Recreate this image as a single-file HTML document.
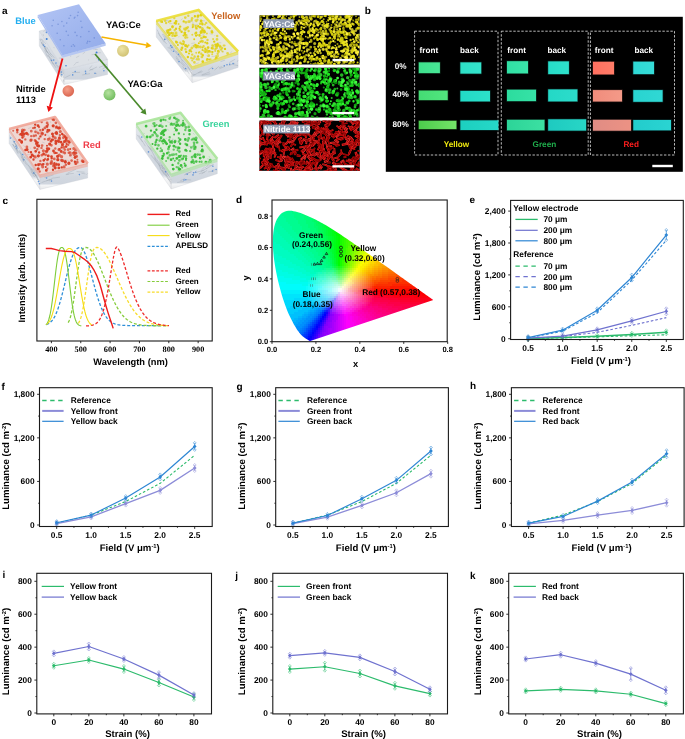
<!DOCTYPE html>
<html><head><meta charset="utf-8"><style>
html,body{margin:0;padding:0;background:#fff;width:685px;height:739px;overflow:hidden}
svg{display:block;filter:blur(0.25px)} text{text-rendering:geometricPrecision}
</style></head><body>
<svg width="685" height="739" viewBox="0 0 685 739">
<defs><linearGradient id="g11a" x1="0" y1="0" x2="0" y2="1"><stop offset="0" stop-color="#e4e8ee"/><stop offset="0.5" stop-color="#d2d8e0"/><stop offset="0.78" stop-color="#cfd5de"/><stop offset="0.84" stop-color="#f4f5f6"/><stop offset="1" stop-color="#e6e7e9"/></linearGradient><linearGradient id="bplate" x1="0" y1="0" x2="1" y2="1"><stop offset="0" stop-color="#b2c4f4"/><stop offset="1" stop-color="#92abea"/></linearGradient><linearGradient id="g21a" x1="0" y1="0" x2="0" y2="1"><stop offset="0" stop-color="#e4e8ee"/><stop offset="0.5" stop-color="#d2d8e0"/><stop offset="0.78" stop-color="#cfd5de"/><stop offset="0.84" stop-color="#f4f5f6"/><stop offset="1" stop-color="#e6e7e9"/></linearGradient><linearGradient id="g31a" x1="0" y1="0" x2="0" y2="1"><stop offset="0" stop-color="#e4e8ee"/><stop offset="0.5" stop-color="#d2d8e0"/><stop offset="0.78" stop-color="#cfd5de"/><stop offset="0.84" stop-color="#f4f5f6"/><stop offset="1" stop-color="#e6e7e9"/></linearGradient><linearGradient id="g41a" x1="0" y1="0" x2="0" y2="1"><stop offset="0" stop-color="#e4e8ee"/><stop offset="0.5" stop-color="#d2d8e0"/><stop offset="0.78" stop-color="#cfd5de"/><stop offset="0.84" stop-color="#f4f5f6"/><stop offset="1" stop-color="#e6e7e9"/></linearGradient><radialGradient id="sy" cx="0.4" cy="0.35" r="0.7"><stop offset="0" stop-color="#eee4a6"/><stop offset="1" stop-color="#cfc070"/></radialGradient><radialGradient id="sr" cx="0.4" cy="0.35" r="0.7"><stop offset="0" stop-color="#f6a08a"/><stop offset="1" stop-color="#d8604a"/></radialGradient><radialGradient id="sg" cx="0.4" cy="0.35" r="0.7"><stop offset="0" stop-color="#b6e2a0"/><stop offset="1" stop-color="#6cba5a"/></radialGradient><clipPath id="mc101"><rect x="259.5" y="15.3" width="100.2" height="49.2"/></clipPath><clipPath id="mc102"><rect x="259.4" y="67.7" width="100.3" height="49.8"/></clipPath><clipPath id="mc103"><rect x="259.4" y="120.7" width="100.3" height="50.1"/></clipPath><linearGradient id="s418_62" x1="0" y1="0" x2="1" y2="0"><stop offset="0" stop-color="#3ee08c"/><stop offset="1" stop-color="#48e696"/></linearGradient><linearGradient id="s460_62" x1="0" y1="0" x2="1" y2="0"><stop offset="0" stop-color="#2de0c6"/><stop offset="1" stop-color="#34e4cc"/></linearGradient><linearGradient id="s418_90" x1="0" y1="0" x2="1" y2="0"><stop offset="0" stop-color="#44dc74"/><stop offset="1" stop-color="#52e67e"/></linearGradient><linearGradient id="s460_90" x1="0" y1="0" x2="1" y2="0"><stop offset="0" stop-color="#22dac6"/><stop offset="1" stop-color="#2ce0ca"/></linearGradient><linearGradient id="s418_120" x1="0" y1="0" x2="1" y2="0"><stop offset="0" stop-color="#4ccc4c"/><stop offset="1" stop-color="#74e468"/></linearGradient><linearGradient id="s460_120" x1="0" y1="0" x2="1" y2="0"><stop offset="0" stop-color="#1ccfbf"/><stop offset="1" stop-color="#26d8c8"/></linearGradient><linearGradient id="s507_61" x1="0" y1="0" x2="1" y2="0"><stop offset="0" stop-color="#30e0a4"/><stop offset="1" stop-color="#3ae6aa"/></linearGradient><linearGradient id="s548_61" x1="0" y1="0" x2="1" y2="0"><stop offset="0" stop-color="#26dcc8"/><stop offset="1" stop-color="#2ee2cc"/></linearGradient><linearGradient id="s507_89" x1="0" y1="0" x2="1" y2="0"><stop offset="0" stop-color="#2cdc9e"/><stop offset="1" stop-color="#36e2a6"/></linearGradient><linearGradient id="s548_89" x1="0" y1="0" x2="1" y2="0"><stop offset="0" stop-color="#24d8c6"/><stop offset="1" stop-color="#2cdccb"/></linearGradient><linearGradient id="s507_119" x1="0" y1="0" x2="1" y2="0"><stop offset="0" stop-color="#2cd498"/><stop offset="1" stop-color="#3ce0a2"/></linearGradient><linearGradient id="s548_119" x1="0" y1="0" x2="1" y2="0"><stop offset="0" stop-color="#1ecac0"/><stop offset="1" stop-color="#28d6c6"/></linearGradient><linearGradient id="s593_61" x1="0" y1="0" x2="1" y2="0"><stop offset="0" stop-color="#ff7060"/><stop offset="1" stop-color="#ff7c68"/></linearGradient><linearGradient id="s633_61" x1="0" y1="0" x2="1" y2="0"><stop offset="0" stop-color="#2ed8d4"/><stop offset="1" stop-color="#36dcd8"/></linearGradient><linearGradient id="s593_90" x1="0" y1="0" x2="1" y2="0"><stop offset="0" stop-color="#f08c7c"/><stop offset="1" stop-color="#f49a88"/></linearGradient><linearGradient id="s633_90" x1="0" y1="0" x2="1" y2="0"><stop offset="0" stop-color="#28d4d0"/><stop offset="1" stop-color="#30d8d4"/></linearGradient><linearGradient id="s593_119" x1="0" y1="0" x2="1" y2="0"><stop offset="0" stop-color="#e08c84"/><stop offset="1" stop-color="#ec9284"/></linearGradient><linearGradient id="s633_120" x1="0" y1="0" x2="1" y2="0"><stop offset="0" stop-color="#22cccc"/><stop offset="1" stop-color="#2ad4d2"/></linearGradient><clipPath id="cie"><path d="M310.23,340.91 L310.23,340.91 L310.23,340.91 L310.22,340.91 L310.22,340.91 L310.21,340.91 L310.2,340.92 L310.19,340.92 L310.19,340.92 L310.18,340.93 L310.17,340.93 L310.16,340.93 L310.15,340.93 L310.14,340.93 L310.13,340.93 L310.12,340.93 L310.11,340.93 L310.1,340.94 L310.08,340.94 L310.07,340.94 L310.06,340.95 L310.04,340.95 L310.03,340.95 L310.02,340.95 L310.01,340.95 L309.99,340.95 L309.97,340.95 L309.96,340.95 L309.94,340.95 L309.92,340.95 L309.9,340.95 L309.88,340.95 L309.86,340.95 L309.84,340.95 L309.82,340.95 L309.79,340.95 L309.77,340.94 L309.74,340.93 L309.71,340.92 L309.68,340.91 L309.64,340.9 L309.6,340.88 L309.55,340.86 L309.5,340.84 L309.45,340.82 L309.4,340.79 L309.34,340.76 L309.29,340.73 L309.23,340.7 L309.16,340.66 L309.09,340.62 L309.01,340.57 L308.93,340.52 L308.84,340.47 L308.75,340.41 L308.65,340.35 L308.55,340.29 L308.45,340.22 L308.34,340.14 L308.23,340.07 L308.1,339.99 L307.97,339.91 L307.84,339.82 L307.69,339.73 L307.54,339.64 L307.38,339.53 L307.2,339.42 L307.01,339.31 L306.81,339.19 L306.61,339.06 L306.39,338.92 L306.16,338.78 L305.93,338.63 L305.69,338.48 L305.43,338.32 L305.16,338.14 L304.88,337.94 L304.58,337.74 L304.28,337.53 L303.96,337.29 L303.62,337.04 L303.28,336.77 L302.93,336.49 L302.56,336.19 L302.18,335.84 L301.76,335.44 L301.31,334.98 L300.83,334.48 L300.33,333.93 L299.81,333.32 L299.25,332.63 L298.67,331.87 L298.07,331.06 L297.43,330.17 L296.77,329.18 L296.07,328.07 L295.33,326.86 L294.57,325.55 L293.76,324.13 L292.93,322.57 L292.05,320.87 L291.12,319.02 L290.14,317.04 L289.13,314.92 L288.1,312.65 L287.09,310.19 L286.07,307.55 L285.04,304.74 L284,301.77 L282.98,298.65 L281.97,295.38 L280.97,291.94 L279.95,288.32 L278.97,284.56 L278.02,280.74 L277.16,276.91 L276.36,273.02 L275.6,269.03 L274.9,265.02 L274.29,261.04 L273.8,257.17 L273.41,253.37 L273.1,249.6 L272.89,245.9 L272.81,242.32 L272.86,238.9 L273.04,235.61 L273.35,232.41 L273.79,229.37 L274.35,226.52 L275.05,223.92 L275.9,221.54 L276.9,219.36 L278.02,217.39 L279.25,215.67 L280.54,214.22 L281.94,213.06 L283.44,212.17 L285.03,211.53 L286.66,211.08 L288.32,210.79 L290,210.7 L291.74,210.84 L293.52,211.14 L295.3,211.55 L297.08,211.99 L298.86,212.49 L300.65,213.09 L302.44,213.76 L304.22,214.46 L305.97,215.17 L307.69,215.89 L309.38,216.63 L311.05,217.4 L312.71,218.19 L314.36,218.99 L316,219.81 L317.61,220.65 L319.22,221.51 L320.82,222.38 L322.42,223.27 L324.02,224.18 L325.61,225.11 L327.2,226.06 L328.79,227.02 L330.37,227.98 L331.95,228.97 L333.52,229.96 L335.09,230.97 L336.66,231.99 L338.23,233.01 L339.8,234.04 L341.37,235.08 L342.93,236.13 L344.5,237.19 L346.07,238.25 L347.64,239.32 L349.22,240.4 L350.79,241.48 L352.36,242.57 L353.93,243.65 L355.5,244.74 L357.07,245.84 L358.63,246.94 L360.19,248.04 L361.75,249.13 L363.31,250.23 L364.87,251.33 L366.43,252.42 L367.98,253.52 L369.52,254.61 L371.06,255.7 L372.59,256.79 L374.12,257.88 L375.64,258.96 L377.14,260.03 L378.64,261.1 L380.14,262.16 L381.62,263.22 L383.09,264.27 L384.54,265.3 L385.99,266.33 L387.42,267.36 L388.85,268.37 L390.25,269.37 L391.64,270.36 L393.01,271.33 L394.37,272.3 L395.71,273.25 L397.02,274.18 L398.31,275.1 L399.58,276 L400.83,276.9 L402.05,277.77 L403.24,278.62 L404.4,279.45 L405.52,280.25 L406.6,281.02 L407.66,281.77 L408.68,282.5 L409.69,283.22 L410.67,283.92 L411.64,284.6 L412.57,285.27 L413.47,285.91 L414.34,286.53 L415.18,287.12 L415.98,287.69 L416.75,288.23 L417.5,288.76 L418.21,289.26 L418.89,289.75 L419.55,290.22 L420.17,290.67 L420.77,291.1 L421.35,291.51 L421.9,291.9 L422.42,292.27 L422.92,292.63 L423.4,292.97 L423.85,293.3 L424.29,293.61 L424.71,293.9 L425.11,294.18 L425.49,294.45 L425.85,294.71 L426.2,294.96 L426.53,295.2 L426.85,295.42 L427.16,295.64 L427.45,295.86 L427.74,296.06 L428.02,296.26 L428.29,296.45 L428.55,296.64 L428.79,296.81 L429.03,296.98 L429.26,297.15 L429.48,297.31 L429.69,297.46 L429.89,297.6 L430.09,297.73 L430.27,297.86 L430.45,297.98 L430.61,298.1 L430.77,298.21 L430.92,298.32 L431.06,298.41 L431.19,298.51 L431.31,298.6 L431.43,298.68 L431.54,298.76 L431.65,298.84 L431.75,298.91 L431.84,298.98 L431.93,299.04 L432.02,299.1 L432.1,299.16 L432.17,299.21 L432.24,299.26 L432.31,299.31 L432.37,299.35 L432.42,299.39 L432.46,299.42 L432.51,299.45 L432.55,299.48 L432.59,299.51 L432.63,299.54 L432.67,299.57 L432.71,299.6 L432.75,299.62 L432.78,299.65 L432.81,299.67 L432.84,299.69 L432.87,299.71 L432.9,299.73 L432.93,299.76 L432.96,299.78 L432.99,299.8 L433.03,299.82 L433.05,299.84 L433.08,299.86 L433.11,299.88 L433.14,299.9 L433.16,299.92 L433.19,299.94 L433.21,299.95 L433.23,299.97 L433.24,299.98 L433.26,299.99 L433.27,300 L433.29,300.01 L433.3,300.02 L433.3,300.02 L433.31,300.03 L433.32,300.03 L433.32,300.04 L433.33,300.04 L433.33,300.04 L433.34,300.05 L433.34,300.05 Z"/></clipPath></defs>
<rect width="685" height="739" fill="#fff"/>
<text x="2" y="14" font-size="10" font-weight="bold" fill="#000" text-anchor="start" font-family='"Liberation Sans", sans-serif' >a</text>
<polygon points="39.3,31 64,69.5 64,84.5 39.3,46" fill="url(#g11a)" stroke="#c4c9d0" stroke-width="0.3" />
<polygon points="64,69.5 107.6,59.5 107.6,74.5 64,84.5" fill="url(#g11a)" stroke="#c4c9d0" stroke-width="0.3" />
<path fill="none" stroke="#8e96a2" stroke-opacity="0.75" stroke-width="0.4" stroke-linecap="butt" d="M53.1 63.2L56.1 67.9M43.9 45.7L47.4 52.7M46.8 47.1L51.0 54.7M63.6 79.8L64.0 81.1M39.7 39.3L41.1 40.0M40.0 39.4L42.9 45.6M55.1 63.1L58.8 68.7M63.9 80.6L64.0 81.8M45.0 45.8L46.5 49.4M60.2 70.2L64.0 77.9M44.5 49.7L47.5 56.7M41.1 42.3L45.2 47.6M47.5 54.8L51.6 59.2M41.8 39.1L46.0 44.0M50.4 53.4L54.3 57.7M42.2 42.4L44.2 44.4M99.0 67.5L107.0 64.2M60.4 72.5L62.0 77.4M45.7 50.5L48.1 53.3M41.5 42.6L43.7 46.4M50.5 59.4L53.5 64.5M72.0 72.6L80.1 72.3M44.0 47.6L48.7 53.4M102.5 69.0L107.4 65.8M63.1 73.6L64.0 73.8M90.0 69.5L93.3 69.8M44.9 47.7L49.3 55.2M62.0 71.6L63.3 72.5M40.8 38.4L43.4 42.8M48.2 55.4L53.1 63.7M89.5 68.5L91.9 65.5M94.6 73.5L96.9 73.6M57.3 65.3L62.3 70.8M57.5 69.9L61.5 77.1M103.9 66.7L107.6 67.9M82.2 75.0L90.0 73.6M48.7 53.8L52.2 57.2M63.8 79.6L64.0 79.3M89.3 70.7L97.0 66.9M65.3 77.5L70.6 74.9"/>
<path stroke="#3d7fd6" stroke-opacity="0.75" stroke-width="1.6" stroke-linecap="round" d="M85.7 73.2h0M75.2 71.5h0M56.0 63.0h0M61.7 74.8h0M61.3 72.0h0M72.7 74.9h0M103.9 70.8h0M53.7 60.1h0M51.6 60.3h0M95.0 73.3h0M43.5 45.1h0M44.6 46.5h0M85.5 71.2h0M106.8 67.2h0"/>
<polygon points="39.3,31 82.9,21 107.6,59.5 64,69.5" fill="#dde1e6" stroke="none" stroke-width="1" />
<path fill="none" stroke="#9aa2ae" stroke-opacity="0.75" stroke-width="0.4" stroke-linecap="butt" d="M43.3 31.5L46.3 29.6M84.3 45.9L82.8 47.0M43.5 36.0L43.1 34.1M81.3 31.8L78.5 30.0M77.8 41.9L78.8 42.5M98.2 59.8L99.7 58.6M64.4 33.1L60.5 33.0M74.9 30.8L73.0 30.1M82.6 44.1L83.5 45.1M76.0 57.6L79.3 55.9M97.8 49.5L94.8 49.3M89.1 59.8L88.1 60.1M97.3 52.9L100.9 52.7M72.8 32.4L74.5 33.6M85.0 52.2L82.7 53.8M106.2 58.8L106.5 60.0M75.7 62.8L78.6 62.2M53.8 47.1L54.2 48.2M61.3 27.2L63.7 25.5M78.4 29.7L77.1 30.8M49.1 35.3L49.2 36.2M93.0 49.1L96.5 49.1M82.8 24.8L80.6 24.9M70.0 56.2L71.1 56.2M89.9 44.1L88.4 43.6M98.4 57.2L96.1 58.6M94.5 41.5L95.1 40.3M75.1 45.0L75.9 43.1M94.3 41.2L93.5 42.4M76.0 44.3L77.5 42.5M73.0 41.5L76.7 43.2M62.7 46.5L59.7 46.3M97.1 57.5L96.9 56.8M62.9 52.9L66.3 51.4M73.8 24.1L71.4 23.0M77.2 36.5L76.1 37.0M61.9 58.1L58.9 58.1M55.1 36.1L55.4 35.9M65.9 43.2L66.1 41.8M63.8 53.3L64.9 53.4M91.5 46.0L94.4 45.0M91.6 54.8L94.8 54.1M75.8 63.4L73.6 65.4M81.3 27.3L79.2 28.2M53.0 32.1L55.7 31.8"/>
<path stroke="#3d7fd6" stroke-width="1.6" stroke-linecap="round" d="M76.6 29.0h0M66.0 65.7h0"/>
<path stroke="#3d7fd6" stroke-width="2" stroke-linecap="round" d="M46.7 39.0h0M83.7 26.9h0M66.3 26.7h0M96.6 52.5h0"/>
<path stroke="#3d7fd6" stroke-opacity="0.75" stroke-width="1.6" stroke-linecap="round" d="M77.9 51.9h0M68.1 31.8h0"/>
<path stroke="#3d7fd6" stroke-opacity="0.75" stroke-width="2" stroke-linecap="round" d="M46.6 32.2h0M98.8 59.8h0M65.6 45.7h0M59.3 46.6h0M53.2 36.0h0M76.5 40.6h0"/>
<polyline points="39.3,31 82.9,21 107.6,59.5" fill="none" stroke="#d0d5dc" stroke-width="0.6" stroke-linejoin="round" stroke-opacity="0.85"/>
<polyline points="39.3,31 64,69.5 107.6,59.5" fill="none" stroke="#d0d5dc" stroke-width="0.8" stroke-linejoin="round" stroke-opacity="0.8"/>
<polygon points="37.7,14.9 62.5,55.2 62.5,57.8 37.7,17.2" fill="#a9bdf0" stroke="none" stroke-width="1" />
<polygon points="62.5,55.2 105.7,43.4 105.7,45.8 62.5,57.8" fill="#b6c7f2" stroke="none" stroke-width="1" />
<polygon points="37.7,14.9 79,4.3 105.7,43.4 62.5,55.2" fill="url(#bplate)" stroke="none" stroke-width="1" />
<path stroke="#5577cc" stroke-opacity="0.5" stroke-width="1.6" stroke-linecap="round" d="M80.7 36.8h0M89.8 41.5h0M87.7 41.4h0M57.2 33.2h0M88.9 31.5h0M77.6 15.6h0M66.7 23.1h0M75.1 32.4h0M52.1 25.8h0M73.3 44.8h0M74.3 18.1h0M74.9 17.2h0M69.1 18.3h0M63.9 45.7h0M58.1 24.2h0M94.3 37.9h0M74.5 46.1h0M76.9 35.6h0M71.5 46.2h0M87.0 43.1h0M80.9 21.3h0M61.9 21.5h0M53.3 20.2h0M68.2 35.2h0M60.3 39.8h0M63.8 26.0h0M81.9 27.4h0M66.3 31.4h0M70.5 15.5h0M78.2 12.3h0"/>
<text x="15.3" y="23.7" font-size="9.4" font-weight="bold" fill="#22aef0" text-anchor="start" font-family='"Liberation Sans", sans-serif' >Blue</text>
<polygon points="156.2,21 192.3,66.7 192.3,82.7 156.2,37" fill="url(#g21a)" stroke="#c4c9d0" stroke-width="0.3" />
<polygon points="192.3,66.7 238.1,51.5 238.1,67.5 192.3,82.7" fill="url(#g21a)" stroke="#c4c9d0" stroke-width="0.3" />
<path fill="none" stroke="#8e96a2" stroke-opacity="0.75" stroke-width="0.4" stroke-linecap="butt" d="M181.1 61.6L185.5 65.8M229.3 62.5L235.1 59.3M169.6 46.6L171.8 50.9M164.6 36.0L171.8 46.3M220.5 61.6L225.1 60.1M190.6 71.5L192.3 75.2M189.7 71.0L192.3 73.5M162.9 33.8L169.4 40.7M201.9 75.3L210.3 73.8M218.9 67.7L222.0 66.6M201.5 75.0L209.9 71.8M172.5 48.7L179.7 57.2M159.6 35.0L166.7 44.1M176.1 56.1L179.1 60.5M178.7 54.9L181.4 57.6M208.2 70.2L212.6 66.8M185.6 68.4L189.4 74.2M233.5 64.7L238.1 65.6M219.3 68.8L225.0 66.3M187.8 66.3L190.0 70.6M214.4 70.1L217.1 68.0M171.3 45.5L173.5 47.5M237.3 61.7L238.1 60.2M216.4 68.5L218.9 66.3M228.7 65.7L235.1 63.2M186.9 66.3L191.6 71.1M192.8 76.0L201.6 70.7M179.4 61.2L184.4 66.3M190.8 76.1L192.3 75.9M157.1 29.7L159.7 34.8M198.1 73.1L202.6 71.6M162.2 34.1L166.0 40.0M157.9 32.8L164.4 42.4M192.7 74.3L195.4 74.7M181.9 59.5L187.5 65.7M170.2 45.2L176.9 52.7M176.0 57.7L178.4 61.2M182.7 66.3L186.2 71.7M176.4 51.1L182.7 61.4M167.7 47.5L170.1 48.4"/>
<path stroke="#3d7fd6" stroke-opacity="0.75" stroke-width="1.6" stroke-linecap="round" d="M185.6 68.5h0M178.6 54.3h0M212.6 68.5h0M170.7 45.8h0M171.9 47.4h0M229.7 64.3h0M164.7 39.4h0M179.0 61.6h0M173.5 51.3h0M233.1 63.6h0M227.0 64.8h0M224.3 65.8h0"/>
<polygon points="156.2,21 198.5,9.9 238.1,51.5 192.3,66.7" fill="#e8e8d6" stroke="none" stroke-width="1" />
<path fill="none" stroke="#9aa2ae" stroke-opacity="0.75" stroke-width="0.4" stroke-linecap="butt" d="M199.7 60.2L198.8 60.6M225.9 55.9L229.8 53.9M180.7 31.8L179.8 30.4M182.5 18.5L180.9 20.3M204.3 33.9L201.2 35.7M193.4 22.6L192.1 23.2M194.5 25.4L198.1 24.6M197.5 56.8L194.7 57.5M186.2 46.1L184.5 45.6M212.9 31.9L212.3 32.4M174.4 25.9L173.4 24.9M198.9 62.8L195.1 64.1M221.2 42.8L217.3 42.8M179.8 48.3L181.4 47.3M176.2 45.8L172.9 45.0M207.7 56.8L206.7 55.4M219.4 49.8L219.6 48.0M178.7 37.3L179.1 36.2M220.6 50.6L224.0 52.2M178.0 47.4L174.6 49.0M215.2 47.4L212.7 45.6M212.6 39.7L213.5 39.6M202.2 27.6L200.4 27.0M191.4 46.4L194.6 44.6M177.5 43.6L179.0 42.4M169.7 20.7L166.0 20.7M208.6 43.3L205.8 41.7M215.0 35.3L214.3 36.0M205.9 36.9L202.6 38.2M166.7 20.5L165.5 20.6M189.1 22.0L190.7 22.0M193.8 58.1L196.2 59.7M192.8 23.4L195.0 25.0M211.6 56.6L215.3 56.2M229.9 53.4L232.2 51.4M193.2 45.1L194.1 46.2M189.4 21.2L192.8 21.3M201.0 20.7L204.9 20.9M215.7 46.2L218.8 45.7M174.3 38.6L171.8 38.8M203.7 28.5L200.8 26.6M195.0 42.8L191.3 43.5M169.0 23.6L172.4 23.6M212.6 34.6L209.6 33.5M197.3 45.6L199.4 46.6"/>
<path stroke="#e0d014" stroke-opacity="0.75" stroke-width="2.4" stroke-linecap="round" d="M193.0 26.1h0M187.0 28.3h0M174.3 18.1h0M215.3 49.3h0M201.3 53.7h0M218.5 45.3h0M193.9 46.4h0M166.1 23.0h0M193.3 58.6h0M207.5 40.0h0M181.2 49.5h0M192.2 54.6h0M190.4 50.0h0M220.2 45.9h0M185.5 49.3h0M199.6 35.8h0M183.2 41.2h0M197.0 59.3h0M192.9 25.0h0M205.8 37.1h0M210.4 51.6h0M198.2 46.1h0M180.3 42.8h0M206.2 22.9h0M196.4 21.1h0M221.1 49.6h0M188.3 15.8h0M211.9 30.9h0M179.9 30.0h0M174.7 30.3h0M202.8 32.4h0M203.6 46.3h0M198.4 47.0h0M185.0 32.8h0M185.8 45.3h0M207.4 50.5h0M187.9 27.3h0M195.7 26.0h0M200.0 23.8h0M217.7 53.7h0M191.6 20.2h0M198.7 59.3h0M194.6 56.5h0M195.3 33.5h0M165.0 20.8h0M195.7 20.4h0M207.6 52.3h0M217.2 36.0h0M191.3 58.0h0M197.4 19.8h0M185.5 29.8h0M188.6 31.0h0M211.6 31.2h0"/>
<path stroke="#e0d014" stroke-width="2.4" stroke-linecap="round" d="M187.9 57.0h0M195.4 45.0h0M209.5 28.1h0M183.7 21.4h0M209.2 51.2h0M169.2 34.9h0M207.2 43.3h0M202.8 55.3h0M211.8 48.1h0M200.9 32.4h0M175.0 35.8h0M207.7 27.4h0M176.0 28.7h0M181.6 31.8h0M186.2 51.9h0M196.2 32.8h0M214.2 41.6h0M196.5 28.4h0M205.3 48.8h0M198.1 56.5h0M180.2 26.6h0M207.3 59.2h0M175.8 23.5h0M174.7 23.1h0M202.4 30.3h0M201.0 20.7h0M198.2 26.3h0M171.4 32.9h0M185.0 34.5h0M200.5 41.6h0M172.5 26.5h0M170.3 21.1h0M225.0 48.9h0M175.5 35.6h0M202.5 24.3h0M167.6 32.5h0M189.7 50.8h0M205.4 51.9h0M215.4 44.6h0M218.2 50.9h0M209.0 51.2h0M168.4 30.2h0M182.2 47.7h0M200.1 27.2h0M196.1 35.6h0M217.5 44.0h0M194.9 16.2h0M187.2 46.5h0M170.2 29.5h0"/>
<path stroke="#e0d014" stroke-opacity="0.75" stroke-width="2.8" stroke-linecap="round" d="M212.6 45.7h0M216.5 47.9h0M188.7 21.7h0M167.1 30.9h0M201.9 56.9h0M201.9 23.4h0M222.0 48.1h0M192.1 18.3h0M217.9 45.2h0M200.4 47.0h0M176.1 32.9h0M191.8 48.1h0M197.8 16.7h0M173.1 33.4h0M217.0 39.4h0M194.4 62.3h0M182.7 44.1h0M201.5 38.2h0M208.7 55.7h0M172.5 27.1h0M202.6 41.5h0M185.3 17.6h0M169.0 33.0h0M206.2 50.5h0M212.7 48.4h0M186.4 28.1h0M189.2 21.7h0M184.5 29.0h0M172.6 35.7h0M186.2 35.3h0M202.4 28.7h0M218.6 51.7h0M185.9 22.3h0M185.5 37.5h0M220.3 47.1h0M227.6 53.4h0M161.3 21.5h0"/>
<path stroke="#e0d014" stroke-opacity="0.75" stroke-width="2" stroke-linecap="round" d="M215.3 58.9h0M222.5 51.5h0M195.7 27.6h0M201.7 41.0h0M168.7 21.9h0M212.1 51.9h0M188.5 45.3h0M199.4 52.0h0M205.2 37.3h0M170.4 33.8h0M215.6 46.1h0M206.8 60.0h0M178.6 23.9h0M215.2 51.1h0M196.2 52.8h0M176.9 35.2h0M192.2 60.5h0M181.3 43.7h0M223.6 45.5h0M200.7 33.3h0M212.2 54.3h0M218.0 56.1h0M213.1 38.9h0M206.9 33.4h0M184.1 42.0h0M192.3 34.8h0M205.0 24.4h0M204.0 50.8h0M216.2 56.1h0M210.6 59.2h0M181.7 50.0h0M224.6 45.5h0M187.4 37.5h0M197.6 34.9h0M197.3 45.8h0"/>
<path stroke="#e0d014" stroke-width="2" stroke-linecap="round" d="M202.5 47.5h0M194.2 39.3h0M192.7 27.2h0M202.5 50.1h0M183.8 43.9h0M205.2 42.5h0M198.9 52.8h0M196.8 45.4h0M179.4 28.4h0M177.9 44.9h0M212.6 52.0h0M183.5 35.5h0M189.0 53.6h0M162.2 22.0h0M198.8 43.2h0M209.1 59.6h0M199.5 35.1h0M191.3 51.4h0M176.0 41.6h0"/>
<path stroke="#e0d014" stroke-width="2.8" stroke-linecap="round" d="M184.8 33.1h0M198.1 15.8h0M208.1 47.6h0M203.9 36.8h0M201.0 15.2h0M216.4 57.8h0M185.6 45.8h0M201.1 31.7h0M216.8 46.2h0M204.6 32.1h0M212.1 32.3h0M204.1 30.8h0M202.8 61.7h0M176.6 42.3h0M176.1 21.4h0M196.4 47.2h0M201.1 21.1h0"/>
<polygon points="156.2,21 192.3,66.7 192.3,69.9 156.2,24.2" fill="#eadc28" stroke="none" stroke-width="1" fill-opacity="0.55"/>
<polygon points="192.3,66.7 238.1,51.5 238.1,54.7 192.3,69.9" fill="#eadc28" stroke="none" stroke-width="1" fill-opacity="0.55"/>
<polyline points="156.2,21 198.5,9.9 238.1,51.5" fill="none" stroke="#eadc28" stroke-width="2.6" stroke-linejoin="round" stroke-opacity="0.85"/>
<polyline points="156.2,21 192.3,66.7 238.1,51.5" fill="none" stroke="#eadc28" stroke-width="0.8" stroke-linejoin="round" stroke-opacity="0.8"/>
<text x="211.2" y="19.3" font-size="9.4" font-weight="bold" fill="#c8621c" text-anchor="start" font-family='"Liberation Sans", sans-serif' >Yellow</text>
<polygon points="9.1,129 39.9,174.9 39.9,189.4 9.1,143.5" fill="url(#g31a)" stroke="#c4c9d0" stroke-width="0.3" />
<polygon points="39.9,174.9 87.7,163.5 87.7,178 39.9,189.4" fill="url(#g31a)" stroke="#c4c9d0" stroke-width="0.3" />
<path fill="none" stroke="#8e96a2" stroke-opacity="0.75" stroke-width="0.4" stroke-linecap="butt" d="M12.6 140.6L17.3 145.8M16.2 148.8L18.5 153.3M46.4 180.9L52.0 179.1M44.4 177.6L53.5 174.9M19.3 150.4L25.2 157.9M27.1 163.4L33.1 174.0M15.4 148.0L21.5 154.8M81.4 173.3L85.4 173.9M49.2 181.0L53.1 177.7M19.4 150.8L23.9 159.3M86.6 174.6L87.7 173.4M28.3 165.2L33.0 170.1M37.5 179.3L39.9 180.9M37.1 179.1L39.9 181.7M33.8 172.6L38.9 180.6M12.1 144.3L14.2 145.9M31.1 171.6L34.8 177.1M53.2 178.1L60.0 177.1M12.6 138.8L17.4 147.0M76.6 171.6L84.5 172.2M9.4 135.9L12.3 138.5M12.9 144.6L14.7 147.8M15.1 147.4L18.0 150.2M30.5 168.3L36.0 176.0M31.2 168.9L36.0 176.0M12.9 144.0L17.9 153.6M67.6 173.1L76.1 169.2M13.4 141.8L16.4 145.9M65.8 174.1L73.8 173.4M41.5 182.6L50.3 179.3M34.2 172.6L37.6 179.3M15.2 143.3L18.3 149.0M32.8 168.5L35.5 173.1M24.5 162.3L27.3 165.0M24.0 156.9L27.7 160.0M20.8 155.5L23.7 162.0M21.5 156.8L24.1 161.2M65.8 174.7L68.8 174.3M20.6 153.7L26.5 163.3M35.5 174.3L38.9 180.1"/>
<path stroke="#3d7fd6" stroke-opacity="0.75" stroke-width="1.6" stroke-linecap="round" d="M15.9 146.2h0M51.5 181.1h0M38.5 181.6h0M39.4 183.7h0M16.7 148.0h0M46.6 178.0h0M10.5 138.1h0M22.7 154.5h0M33.8 173.1h0M23.8 159.8h0M79.4 174.6h0M14.3 141.7h0"/>
<polygon points="9.1,129 55,117 87.7,163.5 39.9,174.9" fill="#eed8d4" stroke="none" stroke-width="1" />
<path fill="none" stroke="#9aa2ae" stroke-opacity="0.75" stroke-width="0.4" stroke-linecap="butt" d="M50.3 121.3L50.8 122.9M35.9 143.0L35.2 144.8M66.3 159.3L62.7 160.2M42.2 142.0L44.7 143.0M73.6 152.0L76.9 151.7M58.8 158.3L58.4 156.9M62.8 162.0L65.8 160.5M33.6 134.9L32.4 136.8M38.1 138.3L36.3 138.1M50.4 136.7L47.9 135.6M48.9 167.5L46.3 168.5M38.3 163.8L36.4 164.9M31.3 127.4L28.1 128.6M48.9 144.8L47.8 145.6M33.1 126.1L34.0 125.3M64.9 144.0L67.1 142.5M60.4 148.5L63.2 150.1M52.6 149.6L54.8 148.6M58.3 158.6L59.1 158.7M78.4 163.5L76.5 161.8M41.8 128.5L45.6 128.4M58.8 160.1L61.7 158.7M35.5 131.8L35.2 130.4M60.3 134.8L59.4 136.4M57.2 134.5L57.2 135.2M21.9 133.0L24.8 131.6M64.3 154.4L65.1 153.8M72.7 154.8L69.3 156.4M47.2 134.6L44.6 133.0M72.5 158.2L71.2 156.9M25.2 147.1L23.6 145.3M48.1 163.1L44.6 162.7M37.7 130.3L34.0 128.6M45.7 172.0L48.6 172.8M60.4 133.1L58.4 134.6M65.4 164.1L64.2 163.8M69.2 160.9L66.6 159.9M27.0 154.5L30.4 154.8M37.2 158.9L38.4 157.4M71.4 148.3L71.3 147.7M30.9 148.5L29.8 147.5M59.2 151.6L62.8 153.5M52.5 156.3L51.5 156.0M65.3 167.2L61.7 167.1M49.3 161.9L52.9 161.8"/>
<path stroke="#d84028" stroke-width="2.8" stroke-linecap="round" d="M32.1 154.8h0M58.3 141.2h0M19.5 140.1h0M66.1 139.4h0M58.8 167.9h0M62.4 145.0h0M47.3 150.6h0M22.3 131.7h0M59.4 137.9h0M30.7 157.2h0M51.5 156.6h0M58.7 164.7h0M46.3 170.4h0M21.1 134.2h0M65.1 136.7h0M38.0 125.7h0M66.4 138.0h0M43.8 160.3h0M66.1 146.6h0M55.3 168.1h0M48.3 156.0h0M55.8 141.2h0M83.3 161.7h0M53.5 151.0h0M17.3 130.0h0M64.8 141.6h0M55.9 143.5h0M69.4 142.3h0M61.2 151.5h0M60.9 142.1h0M74.1 152.6h0M35.7 151.3h0M43.6 154.0h0M21.7 141.9h0M46.6 151.2h0M52.5 134.1h0M47.2 148.6h0M53.1 136.4h0M48.9 148.8h0M75.1 157.4h0M58.3 128.1h0"/>
<path stroke="#d84028" stroke-opacity="0.75" stroke-width="3.2" stroke-linecap="round" d="M60.3 131.5h0M48.3 139.3h0M55.2 137.9h0M22.6 130.0h0M59.3 155.1h0M41.9 134.1h0M47.3 164.2h0M43.4 150.8h0M53.6 166.0h0M51.4 163.2h0M62.7 144.1h0M61.6 156.7h0M46.5 151.6h0M64.1 166.9h0M82.3 160.9h0M67.0 141.2h0M53.7 119.7h0M42.2 165.2h0M75.4 149.9h0M35.2 156.9h0M30.8 140.3h0M73.8 148.5h0M56.0 164.0h0M62.1 160.4h0M42.7 166.8h0M59.0 149.6h0"/>
<path stroke="#d84028" stroke-opacity="0.75" stroke-width="2.8" stroke-linecap="round" d="M35.5 131.8h0M42.1 145.6h0M24.3 130.1h0M34.7 147.8h0M76.0 163.6h0M62.7 160.9h0M64.8 149.6h0M41.8 132.8h0M55.0 166.9h0M36.5 144.1h0M54.6 152.8h0M38.5 164.5h0M56.1 127.6h0M33.9 135.9h0M46.7 126.4h0M31.3 139.8h0M47.1 122.9h0M71.6 160.6h0M76.7 156.4h0M35.0 140.3h0M52.8 119.2h0M45.6 154.8h0M75.3 153.5h0M44.9 128.0h0M63.4 137.8h0M47.3 131.8h0M58.7 140.0h0M26.9 147.0h0M59.6 139.0h0M54.3 158.9h0M41.8 155.2h0M55.9 122.8h0M77.3 162.2h0M63.7 135.5h0M51.6 161.4h0M68.1 149.7h0M64.8 153.0h0M63.8 147.4h0M51.4 145.3h0M70.4 155.2h0M31.3 131.2h0M53.9 164.4h0M70.0 152.7h0"/>
<path stroke="#d84028" stroke-width="2.4" stroke-linecap="round" d="M68.7 163.6h0M59.5 149.2h0M56.6 126.8h0M37.3 145.5h0M55.6 133.1h0M49.3 130.3h0M51.8 139.6h0M50.8 141.2h0M21.7 142.5h0M48.0 159.2h0M38.5 165.0h0M40.4 136.4h0M35.7 165.0h0M74.9 161.7h0M61.7 167.4h0M61.6 147.4h0M31.0 152.2h0M53.0 169.7h0M48.0 155.9h0M22.5 137.6h0M33.5 159.5h0M25.4 150.0h0M37.3 145.7h0M43.4 164.1h0M56.7 164.5h0M51.7 158.2h0M62.2 133.9h0M52.8 139.7h0M34.8 127.6h0M55.7 152.9h0M42.9 129.7h0M39.1 152.5h0M74.9 157.4h0M47.7 129.9h0M47.2 126.5h0M33.4 156.0h0M35.2 124.6h0M35.8 141.3h0"/>
<path stroke="#d84028" stroke-width="2" stroke-linecap="round" d="M45.3 135.1h0M45.8 167.1h0M47.0 145.7h0M54.3 162.9h0M70.2 148.9h0M66.6 144.1h0"/>
<path stroke="#d84028" stroke-opacity="0.75" stroke-width="2.4" stroke-linecap="round" d="M40.3 130.3h0M17.3 132.2h0M75.5 163.8h0M39.0 127.0h0M37.7 142.6h0M74.2 154.9h0M48.2 131.1h0M41.7 122.1h0M68.7 152.7h0M68.7 141.0h0M49.6 138.4h0M58.8 141.9h0M76.2 153.0h0M64.3 141.3h0M21.5 141.2h0M54.6 165.1h0M39.7 171.5h0M65.3 162.3h0M41.5 147.9h0M22.6 136.6h0M37.3 149.3h0M75.6 156.8h0M63.4 152.3h0M44.7 139.1h0M42.9 133.5h0M65.9 164.7h0M25.3 139.4h0M59.9 135.2h0M23.6 136.3h0M39.0 138.6h0M51.4 141.3h0M47.2 160.1h0M35.9 135.4h0M64.0 141.9h0M68.2 144.7h0M40.4 160.9h0M31.2 136.1h0M37.7 132.7h0M40.1 164.0h0M45.2 158.9h0M47.9 124.7h0M55.8 142.9h0M28.1 134.4h0M55.3 148.5h0M38.5 133.3h0M48.4 148.6h0M52.4 133.8h0M61.3 160.2h0M50.6 163.5h0M33.1 128.1h0M72.5 153.2h0"/>
<path stroke="#d84028" stroke-width="3.2" stroke-linecap="round" d="M57.8 159.7h0M26.5 133.3h0M27.0 149.6h0M56.4 132.5h0M65.3 161.7h0M59.4 127.9h0M38.6 145.9h0M23.7 133.9h0M57.6 156.3h0M68.9 163.2h0M56.6 133.3h0M38.2 168.8h0M22.0 134.6h0M38.4 155.8h0M36.9 142.8h0M53.2 125.8h0M49.7 144.1h0"/>
<path stroke="#d84028" stroke-opacity="0.75" stroke-width="2" stroke-linecap="round" d="M19.7 134.4h0M57.0 153.0h0M77.4 159.7h0M42.3 164.6h0M47.4 168.8h0M13.2 130.8h0M36.4 143.6h0M28.6 152.0h0"/>
<polygon points="9.1,129 39.9,174.9 39.9,178.1 9.1,132.2" fill="#f0a090" stroke="none" stroke-width="1" fill-opacity="0.55"/>
<polygon points="39.9,174.9 87.7,163.5 87.7,166.7 39.9,178.1" fill="#f0a090" stroke="none" stroke-width="1" fill-opacity="0.55"/>
<polyline points="9.1,129 55,117 87.7,163.5" fill="none" stroke="#f0a090" stroke-width="2.6" stroke-linejoin="round" stroke-opacity="0.85"/>
<polyline points="9.1,129 39.9,174.9 87.7,163.5" fill="none" stroke="#f0a090" stroke-width="0.8" stroke-linejoin="round" stroke-opacity="0.8"/>
<text x="83.1" y="148" font-size="9.4" font-weight="bold" fill="#f03c48" text-anchor="start" font-family='"Liberation Sans", sans-serif' >Red</text>
<polygon points="136.2,124 171.3,174 171.3,189 136.2,139" fill="url(#g41a)" stroke="#c4c9d0" stroke-width="0.3" />
<polygon points="171.3,174 217.3,158.7 217.3,173.7 171.3,189" fill="url(#g41a)" stroke="#c4c9d0" stroke-width="0.3" />
<path fill="none" stroke="#8e96a2" stroke-opacity="0.75" stroke-width="0.4" stroke-linecap="butt" d="M144.3 140.5L150.9 150.3M196.7 172.2L204.1 170.1M201.7 173.9L207.1 170.4M161.6 165.2L166.8 173.2M163.7 167.2L170.0 177.9M161.7 169.6L164.1 173.8M168.3 178.6L171.3 180.7M158.0 163.3L160.7 169.1M185.2 174.2L192.1 171.5M194.0 173.2L196.4 170.5M161.8 167.4L167.4 175.6M201.4 170.1L204.7 166.9M166.5 177.4L171.3 182.4M177.2 182.5L184.0 181.4M150.9 155.0L157.7 163.5M161.9 169.5L165.9 174.9M184.0 175.1L191.0 171.7M186.3 179.7L191.2 180.0M205.0 168.2L208.4 164.7M159.6 161.6L162.6 166.2M147.8 145.9L153.1 151.6M198.8 173.9L205.0 171.9M212.4 170.2L214.9 169.9M200.7 171.8L207.4 168.0M207.4 166.3L213.2 164.8M160.1 168.7L166.7 177.1M166.2 175.0L171.3 184.2M156.8 159.4L162.8 168.8M153.8 157.2L156.7 159.9M138.7 135.1L145.4 146.2M165.2 174.4L170.7 179.9M180.3 180.8L184.8 178.6M166.7 172.8L171.3 179.5M159.2 164.5L161.1 168.8M137.0 134.7L142.6 142.1M154.7 158.5L160.1 166.1M161.5 165.2L164.2 169.0M208.2 171.9L213.6 171.2M149.8 147.7L156.0 158.9M205.9 169.0L213.7 164.4"/>
<path stroke="#3d7fd6" stroke-opacity="0.75" stroke-width="1.6" stroke-linecap="round" d="M148.5 151.9h0M141.8 137.1h0M185.8 179.8h0M165.6 171.7h0M216.1 169.5h0M212.5 171.0h0M184.0 180.0h0M187.2 174.3h0M193.0 174.9h0M193.6 172.8h0M195.8 172.2h0M212.9 166.3h0"/>
<polygon points="136.2,124 180.5,112.7 217.3,158.7 171.3,174" fill="#dcecd8" stroke="none" stroke-width="1" />
<path fill="none" stroke="#9aa2ae" stroke-opacity="0.75" stroke-width="0.4" stroke-linecap="butt" d="M198.7 152.5L198.8 151.3M175.5 130.6L173.5 132.0M151.4 125.6L154.2 127.5M163.9 140.8L164.3 141.8M159.5 156.3L157.4 158.0M187.7 166.5L187.3 167.1M145.0 133.7L143.4 133.2M158.6 143.1L155.4 143.4M208.9 156.0L209.9 157.9M190.7 147.5L190.4 145.8M207.2 158.7L209.7 159.5M205.8 162.7L209.6 163.8M170.2 171.2L170.7 171.0M164.8 132.7L161.1 133.1M166.6 121.3L170.0 123.0M193.4 141.1L192.4 141.0M186.2 167.6L189.5 169.2M177.2 143.7L178.7 142.8M178.9 171.2L177.1 170.2M161.1 122.9L161.3 121.5M175.8 118.7L178.2 117.8M199.2 155.1L202.9 153.8M185.0 120.3L183.8 118.3M161.0 122.5L161.4 124.2M193.6 147.6L190.3 149.5M185.7 167.4L182.9 166.5M204.4 150.6L201.9 150.5M169.1 130.5L166.8 128.8M173.4 139.0L172.2 139.0M165.1 139.4L167.2 138.0M156.1 145.3L154.4 145.2M207.5 161.6L210.0 163.3M158.6 138.7L155.5 137.9M156.2 133.0L154.8 134.8M190.6 163.2L190.8 164.2M186.7 146.1L190.1 146.4M166.6 129.8L163.4 129.5M158.8 125.9L162.4 124.0M164.4 131.3L163.7 132.7M192.9 133.0L194.6 134.6M163.0 140.6L162.4 141.9M181.1 165.4L178.6 166.1M165.3 118.6L164.0 119.9M156.0 122.3L155.8 122.5M171.8 139.7L175.3 140.4"/>
<path stroke="#3cbf3c" stroke-opacity="0.75" stroke-width="2.8" stroke-linecap="round" d="M171.8 141.4h0M182.0 159.0h0M210.4 161.5h0M176.7 125.3h0M185.9 127.5h0M176.8 122.3h0M178.0 148.1h0M150.1 137.1h0M172.1 154.8h0M192.9 160.4h0M185.9 156.4h0M184.5 125.0h0M152.6 135.2h0M157.0 135.8h0M188.7 138.4h0M194.1 142.8h0M168.1 158.0h0M192.1 157.2h0M197.6 154.6h0M175.2 141.2h0M159.7 140.6h0M187.8 140.5h0M173.7 154.6h0M169.8 155.3h0M161.2 137.3h0M193.5 139.0h0M210.2 160.1h0M172.6 124.6h0M178.0 120.2h0M160.4 125.6h0M210.6 161.5h0M169.6 118.6h0M188.7 127.0h0M179.4 160.4h0M168.4 149.0h0M174.2 124.1h0M176.3 119.1h0M158.5 145.3h0M178.2 147.6h0M162.3 126.6h0M153.6 123.6h0M196.3 161.6h0M195.1 148.4h0M178.4 120.4h0M179.4 151.6h0M154.2 123.5h0M157.4 136.0h0"/>
<path stroke="#3cbf3c" stroke-opacity="0.75" stroke-width="2" stroke-linecap="round" d="M183.7 155.8h0M160.3 151.3h0M163.1 143.6h0M178.7 137.9h0M164.2 154.3h0M162.1 151.2h0M166.2 126.1h0M170.4 117.1h0M181.1 155.6h0M183.1 120.8h0M182.2 167.4h0M163.9 155.2h0M174.8 160.7h0M155.5 142.4h0M195.6 140.2h0M172.1 143.1h0M166.1 161.1h0M177.5 150.3h0M160.7 148.3h0M178.8 157.2h0M156.0 134.1h0M195.1 139.9h0M196.3 161.4h0M155.7 144.7h0M196.8 142.5h0M183.9 134.2h0"/>
<path stroke="#3cbf3c" stroke-width="2.8" stroke-linecap="round" d="M162.8 156.1h0M162.3 158.5h0M176.4 130.2h0M180.1 139.6h0M174.4 117.8h0M189.8 130.5h0M176.8 158.4h0M200.2 158.1h0M179.8 156.5h0M173.3 169.1h0M186.9 144.9h0M195.3 156.8h0M177.7 124.9h0M183.2 123.5h0M181.1 165.5h0M179.1 148.1h0M164.1 130.8h0M162.6 132.9h0M166.7 143.8h0M185.3 139.5h0M173.8 146.1h0M191.7 162.1h0M205.9 162.2h0M154.6 132.4h0M165.3 130.2h0M165.6 142.6h0M147.1 137.0h0M202.3 149.9h0M185.6 150.2h0M203.6 157.0h0M171.1 159.7h0M146.1 126.2h0M174.8 142.1h0M185.4 165.6h0M163.7 134.8h0M160.9 120.5h0M170.5 142.2h0M179.2 169.3h0"/>
<path stroke="#3cbf3c" stroke-opacity="0.75" stroke-width="2.4" stroke-linecap="round" d="M165.4 120.1h0M160.9 133.3h0M196.1 137.8h0M194.9 138.8h0M191.2 147.4h0M194.2 144.9h0M185.6 143.9h0M190.1 151.1h0M176.2 154.2h0M197.3 142.4h0M201.5 161.7h0M178.3 163.2h0M165.0 141.2h0M179.4 125.9h0M155.9 141.7h0M193.8 162.9h0M188.9 130.5h0M178.8 156.2h0M175.6 147.0h0M194.3 148.9h0M156.5 125.1h0M161.9 150.2h0M202.7 151.2h0M175.0 128.1h0M155.3 144.7h0M193.9 155.6h0M176.7 167.1h0M168.5 152.4h0M169.8 145.7h0M163.8 140.2h0M183.7 156.8h0M150.5 136.6h0M169.7 137.3h0M191.9 139.6h0M178.3 163.1h0M178.6 167.7h0M170.8 124.6h0M173.7 149.6h0M193.8 161.9h0M169.2 140.3h0M176.7 129.7h0M193.5 146.5h0M178.8 141.5h0M185.3 130.0h0M181.3 124.9h0M199.7 154.7h0M196.5 138.1h0"/>
<path stroke="#3cbf3c" stroke-width="2" stroke-linecap="round" d="M163.6 153.5h0M186.7 150.8h0M152.5 143.9h0M161.2 133.9h0M163.5 132.0h0M163.2 130.4h0M174.1 134.6h0M199.5 161.7h0M183.1 158.8h0M173.2 158.6h0M208.7 161.7h0M184.5 163.4h0M186.0 160.1h0"/>
<path stroke="#3cbf3c" stroke-width="2.4" stroke-linecap="round" d="M176.3 125.8h0M159.4 125.9h0M201.6 151.0h0M163.4 119.6h0M202.1 146.1h0M180.1 169.2h0M186.1 158.6h0M195.1 154.4h0M162.2 141.2h0M182.7 125.5h0M151.0 130.6h0M172.6 164.9h0M189.5 134.3h0M167.1 153.2h0M196.1 139.9h0M156.4 129.7h0M180.1 143.8h0M162.2 131.7h0M178.8 133.4h0M164.3 141.0h0M163.7 139.6h0M156.6 140.0h0M168.9 147.0h0M160.9 138.2h0M195.4 146.9h0M157.3 148.6h0M195.2 154.8h0M171.4 123.6h0M154.7 126.0h0"/>
<polygon points="136.2,124 171.3,174 171.3,177.2 136.2,127.2" fill="#a4e494" stroke="none" stroke-width="1" fill-opacity="0.55"/>
<polygon points="171.3,174 217.3,158.7 217.3,161.9 171.3,177.2" fill="#a4e494" stroke="none" stroke-width="1" fill-opacity="0.55"/>
<polyline points="136.2,124 180.5,112.7 217.3,158.7" fill="none" stroke="#a4e494" stroke-width="2.6" stroke-linejoin="round" stroke-opacity="0.85"/>
<polyline points="136.2,124 171.3,174 217.3,158.7" fill="none" stroke="#a4e494" stroke-width="0.8" stroke-linejoin="round" stroke-opacity="0.8"/>
<text x="202.4" y="127.4" font-size="9.4" font-weight="bold" fill="#38d49c" text-anchor="start" font-family='"Liberation Sans", sans-serif' >Green</text>
<line x1="101.5" y1="37" x2="146.09" y2="45.03" stroke="#f6b400" stroke-width="1.7" />
<polygon points="151.5,46 145.52,48.18 146.65,41.88" fill="#f6b400" stroke="none" stroke-width="1" />
<line x1="95" y1="54" x2="142.85" y2="110.5" stroke="#4a8a2c" stroke-width="1.7" />
<polygon points="146.4,114.7 140.4,112.57 145.29,108.43" fill="#4a8a2c" stroke="none" stroke-width="1" />
<line x1="62.5" y1="58.5" x2="49.8" y2="106.68" stroke="#ee1010" stroke-width="1.8" />
<polygon points="48.4,112 46.71,105.87 52.9,107.5" fill="#ee1010" stroke="none" stroke-width="1" />
<circle cx="123.0" cy="50.8" r="6.0" fill="url(#sy)"/>
<circle cx="68.3" cy="91.0" r="5.8" fill="url(#sr)"/>
<circle cx="109.5" cy="94.6" r="6.0" fill="url(#sg)"/>
<text x="106.1" y="28" font-size="9.4" font-weight="bold" fill="#000" text-anchor="start" font-family='"Liberation Sans", sans-serif' >YAG:Ce</text>
<text x="127.4" y="87.1" font-size="9.4" font-weight="bold" fill="#000" text-anchor="start" font-family='"Liberation Sans", sans-serif' >YAG:Ga</text>
<text x="16.1" y="91.8" font-size="9.4" font-weight="bold" fill="#000" text-anchor="start" font-family='"Liberation Sans", sans-serif' >Nitride</text>
<text x="16.1" y="102.8" font-size="9.4" font-weight="bold" fill="#000" text-anchor="start" font-family='"Liberation Sans", sans-serif' >1113</text>
<rect x="259.5" y="15.3" width="100.2" height="49.2" fill="#000" />
<g clip-path="url(#mc101)">
<path stroke="#f0e830" stroke-opacity="0.75" stroke-width="3.2" stroke-linecap="round" d="M317.9 24.3h0M349.4 21.4h0M292.3 23.0h0M276.7 47.5h0M302.5 32.0h0M343.7 50.7h0M279.4 15.1h0M288.7 55.3h0M350.5 45.3h0M358.0 37.3h0M314.7 43.5h0M310.5 17.8h0M266.2 20.9h0M265.2 46.0h0M262.6 55.5h0M322.7 33.0h0"/>
<path stroke="#f0e830" stroke-opacity="0.75" stroke-width="2" stroke-linecap="round" d="M326.3 25.3h0M294.7 27.3h0M305.9 46.4h0M289.9 42.3h0M323.2 56.1h0M291.8 26.3h0M349.4 33.1h0M328.7 26.0h0M319.5 51.2h0M267.0 48.0h0M350.3 29.0h0M273.7 56.6h0M320.2 18.4h0M294.1 43.7h0M337.1 29.4h0M286.2 33.0h0M295.9 51.4h0M359.0 34.5h0M288.9 18.0h0M278.1 64.4h0M299.8 58.6h0M307.6 37.5h0M272.1 58.1h0M347.0 43.6h0M308.9 49.6h0"/>
<path stroke="#f0e830" stroke-opacity="0.75" stroke-width="2.4" stroke-linecap="round" d="M338.5 31.1h0M342.2 64.8h0M346.1 37.8h0M307.2 45.3h0M298.4 34.5h0M262.5 37.1h0M348.6 33.7h0M347.3 15.4h0M350.2 35.0h0M354.7 58.9h0M340.6 41.3h0M268.6 15.1h0M323.3 22.1h0M331.1 53.4h0M273.0 15.7h0M339.5 23.8h0M332.8 15.2h0M359.9 64.2h0M320.6 53.0h0M356.7 45.1h0M306.3 55.1h0"/>
<path stroke="#c8c000" stroke-width="2" stroke-linecap="round" d="M267.6 53.7h0M317.1 29.4h0M291.9 59.9h0M282.4 17.7h0M268.0 51.2h0M269.7 48.8h0M299.2 44.7h0M267.8 33.8h0M280.1 64.9h0M301.1 29.2h0M359.1 57.2h0M348.6 47.9h0M311.7 31.1h0M266.5 54.6h0M310.7 57.0h0M325.8 33.5h0M354.0 61.9h0M338.7 19.5h0M323.9 23.8h0"/>
<path stroke="#e8e01a" stroke-opacity="0.75" stroke-width="2.4" stroke-linecap="round" d="M282.9 54.8h0M277.5 39.9h0M350.5 55.4h0M262.5 47.0h0M284.5 43.2h0M352.2 51.4h0M341.4 50.9h0M272.0 61.3h0M326.3 49.7h0M284.0 23.3h0M304.2 23.9h0M343.4 61.1h0M280.3 23.4h0M314.3 32.8h0M334.3 28.9h0M327.6 24.4h0M261.9 55.1h0M262.3 33.4h0M334.5 31.8h0M340.5 16.7h0M322.4 35.8h0M302.8 31.0h0M292.4 61.7h0M340.4 45.9h0M268.4 45.8h0M329.5 46.2h0M334.5 27.2h0M325.4 60.6h0M294.1 59.5h0M318.8 45.1h0M314.5 46.9h0M281.0 49.8h0"/>
<path stroke="#f0e830" stroke-width="2.8" stroke-linecap="round" d="M289.6 20.0h0M273.9 49.4h0M348.2 50.6h0M357.7 51.6h0M272.6 22.7h0M303.6 17.8h0M354.9 65.3h0M270.0 39.3h0M319.0 64.5h0M314.5 30.6h0M283.8 20.6h0M283.2 28.7h0M259.7 30.0h0M330.8 64.8h0M357.3 35.5h0M278.8 28.2h0M354.3 41.7h0M273.0 20.3h0M299.9 45.9h0M308.7 55.5h0M325.0 25.8h0M348.9 16.6h0M329.2 14.9h0"/>
<path stroke="#c8c000" stroke-opacity="0.75" stroke-width="2.4" stroke-linecap="round" d="M348.7 34.5h0M319.1 24.0h0M272.6 60.6h0M272.0 33.4h0M260.3 56.0h0M325.5 64.9h0M321.7 56.5h0M276.4 26.1h0M323.5 49.6h0M262.3 36.7h0M298.0 58.3h0M260.5 16.4h0M307.8 25.0h0M300.5 57.6h0M309.6 25.0h0M353.6 32.4h0M356.5 44.5h0M304.7 21.4h0M262.1 62.6h0M352.5 46.6h0M355.0 47.2h0M273.4 33.7h0M321.5 45.9h0M347.7 24.9h0M344.4 31.5h0M318.0 62.9h0"/>
<path stroke="#d8d010" stroke-opacity="0.75" stroke-width="2.8" stroke-linecap="round" d="M334.6 35.7h0M340.1 31.7h0M276.1 61.2h0M346.8 35.3h0M312.4 56.5h0M301.0 40.3h0M274.9 28.8h0M341.9 24.3h0M344.5 56.8h0M327.4 64.6h0M300.0 64.6h0M315.7 36.3h0M316.5 59.7h0M346.9 16.4h0M284.6 48.9h0M274.4 18.6h0M348.5 21.9h0M343.4 28.6h0M311.1 40.2h0M336.9 27.0h0M332.2 34.5h0M338.9 19.0h0M310.0 36.4h0M267.0 15.9h0M344.1 44.2h0M343.7 30.6h0M327.6 45.5h0M297.2 53.1h0M310.0 29.2h0M295.5 28.5h0"/>
<path stroke="#e8e01a" stroke-opacity="0.75" stroke-width="2.8" stroke-linecap="round" d="M293.8 15.4h0M356.0 39.3h0M274.6 61.2h0M354.2 45.0h0M322.5 36.1h0M335.2 17.5h0M270.0 31.0h0M285.3 52.0h0M269.0 47.2h0M303.8 20.9h0M313.8 25.5h0M264.6 32.8h0M286.3 43.8h0M323.4 35.7h0M263.1 51.2h0M310.7 47.2h0M305.0 61.2h0M299.4 48.3h0M287.0 49.1h0M330.3 52.9h0M292.3 28.2h0M288.8 24.0h0M301.9 43.4h0M295.5 25.5h0M349.4 17.9h0M342.4 55.8h0M348.6 17.5h0M269.3 21.6h0M350.4 63.0h0M288.5 54.2h0M292.1 42.4h0"/>
<path stroke="#fff040" stroke-opacity="0.75" stroke-width="2.8" stroke-linecap="round" d="M316.7 22.8h0M272.8 23.5h0M340.6 58.5h0M283.5 64.8h0M307.4 49.7h0M258.8 38.9h0M283.1 59.0h0M337.8 33.3h0M311.2 19.3h0M354.4 34.0h0M324.3 58.6h0M283.0 16.1h0M283.5 47.0h0M341.5 20.8h0M264.2 62.0h0M288.2 36.7h0M351.4 50.6h0M292.1 55.4h0M288.1 54.3h0M272.9 64.9h0M266.6 50.3h0M267.2 18.5h0M355.9 30.6h0M302.2 14.8h0M283.0 60.3h0M296.6 22.4h0M344.7 20.1h0M306.4 17.2h0M349.8 16.1h0M267.8 27.6h0M287.6 21.7h0M309.7 58.6h0M334.2 59.8h0M277.9 57.5h0M343.8 50.9h0"/>
<path stroke="#e8e01a" stroke-width="2.8" stroke-linecap="round" d="M347.4 49.7h0M321.7 40.0h0M351.5 56.9h0M338.0 39.6h0M342.5 19.7h0M295.0 50.5h0M357.1 22.1h0M324.1 43.7h0M347.5 26.0h0M269.4 42.7h0M332.7 47.7h0M332.2 52.1h0M322.0 63.6h0M268.1 34.3h0M281.1 64.8h0M303.7 47.7h0M328.8 60.4h0M280.4 42.7h0M317.5 22.1h0M267.1 40.8h0M277.8 30.2h0M317.1 57.7h0M343.9 42.0h0M311.8 56.1h0"/>
<path stroke="#c8c000" stroke-width="2.4" stroke-linecap="round" d="M265.2 43.8h0M282.2 33.8h0M330.9 52.8h0M328.8 64.7h0M338.3 54.1h0M293.8 16.5h0M299.9 54.4h0M357.9 23.6h0M353.5 24.5h0M277.0 44.8h0M315.3 14.7h0M348.7 64.9h0M272.8 31.2h0M332.9 16.6h0M356.6 65.5h0M332.6 19.2h0M284.5 38.5h0M295.0 43.6h0M330.8 41.7h0M330.6 62.8h0M316.1 49.3h0M360.4 42.2h0"/>
<path stroke="#c8c000" stroke-width="2.8" stroke-linecap="round" d="M270.6 50.4h0M333.3 21.4h0M285.9 37.5h0M321.1 37.4h0M312.2 58.8h0M345.5 37.4h0M291.8 62.4h0M333.5 20.0h0M323.3 45.7h0M264.7 64.2h0M275.8 51.7h0M335.7 19.4h0M319.4 59.2h0M344.5 34.6h0M280.1 48.6h0M312.6 28.8h0M346.6 56.9h0M284.9 24.9h0M273.3 54.7h0"/>
<path stroke="#f0e830" stroke-opacity="0.75" stroke-width="2.8" stroke-linecap="round" d="M265.4 42.4h0M326.5 48.9h0M334.1 36.8h0M278.9 47.1h0M289.0 57.2h0M263.8 58.3h0M297.6 38.2h0M336.9 22.3h0M328.4 62.2h0M296.9 60.8h0M291.9 52.4h0M326.2 34.1h0M273.3 55.6h0M280.5 49.7h0M346.7 61.5h0M272.2 19.4h0M334.3 54.7h0M270.9 34.9h0M274.4 37.8h0M260.7 60.5h0M353.9 31.4h0M287.0 28.5h0M341.9 42.5h0M310.7 30.6h0M289.7 62.1h0M335.4 34.2h0M261.2 27.8h0M287.0 59.9h0M348.3 15.5h0M275.1 23.3h0M263.1 61.0h0M324.7 28.3h0M285.4 21.5h0M329.7 29.6h0"/>
<path stroke="#f0e830" stroke-width="2" stroke-linecap="round" d="M278.2 49.1h0M260.4 21.1h0M326.9 44.8h0M314.1 38.6h0M303.1 17.9h0M265.5 44.4h0M296.9 45.2h0M299.5 50.5h0M345.9 42.1h0M359.5 39.8h0M258.8 51.1h0M292.6 52.8h0M273.5 54.6h0M323.0 31.0h0M317.8 39.6h0M260.0 37.3h0M309.7 41.9h0M336.5 47.6h0M260.9 38.0h0M310.3 25.3h0M318.1 53.1h0M299.8 49.1h0M353.1 39.3h0M325.4 15.9h0M340.6 31.8h0M312.7 28.1h0M295.5 45.4h0M331.5 48.5h0M273.9 54.1h0M276.2 39.4h0"/>
<path stroke="#f0e830" stroke-opacity="0.75" stroke-width="1.6" stroke-linecap="round" d="M284.1 24.8h0M358.2 19.9h0M328.5 17.5h0M346.0 64.8h0M340.7 51.1h0M276.5 23.1h0M263.3 47.7h0M281.3 59.0h0M284.0 49.9h0M270.8 46.1h0M335.9 53.6h0M322.8 16.4h0M278.0 28.3h0"/>
<path stroke="#e8e01a" stroke-width="2" stroke-linecap="round" d="M287.2 64.3h0M317.5 38.9h0M270.6 50.0h0M282.8 30.6h0M295.8 15.4h0M260.4 55.8h0M309.8 34.6h0M357.6 62.6h0M328.2 20.4h0M282.5 58.5h0M276.8 19.6h0M297.6 58.8h0M319.7 23.9h0M304.5 51.4h0M358.1 42.2h0M327.8 53.3h0M277.8 65.1h0M342.7 40.0h0M283.7 64.5h0M345.6 31.8h0"/>
<path stroke="#fff040" stroke-opacity="0.75" stroke-width="2.4" stroke-linecap="round" d="M286.4 48.1h0M322.5 25.0h0M321.0 47.1h0M269.1 53.0h0M321.2 62.9h0M310.5 52.9h0M278.7 51.5h0M307.9 62.3h0M314.6 21.2h0M272.2 20.2h0M346.8 55.1h0M313.1 30.0h0M353.1 50.9h0M331.0 27.7h0M300.0 47.2h0M340.5 26.1h0M299.5 39.1h0M334.4 64.3h0M259.2 42.9h0M298.5 43.5h0M321.2 28.0h0M314.0 25.9h0M290.6 27.8h0M323.9 36.5h0M279.2 46.9h0M346.2 24.3h0M307.1 24.3h0M307.1 51.2h0M281.9 18.5h0"/>
<path stroke="#e8e01a" stroke-opacity="0.75" stroke-width="2" stroke-linecap="round" d="M299.5 17.1h0M360.1 34.9h0M335.9 53.0h0M301.1 35.7h0M340.9 18.1h0M304.0 61.7h0M315.3 48.7h0M274.9 20.9h0M329.8 52.2h0M263.6 32.2h0M270.2 38.3h0M302.5 43.0h0M265.7 49.2h0M314.8 55.3h0M269.1 24.7h0M323.7 19.2h0M359.0 17.7h0M259.8 61.4h0M326.7 50.9h0M320.4 22.6h0M356.1 19.6h0M338.2 32.5h0"/>
<path stroke="#e8e01a" stroke-opacity="0.75" stroke-width="1.6" stroke-linecap="round" d="M326.5 21.8h0M264.2 48.7h0M355.5 51.5h0M353.2 20.3h0M312.9 24.2h0M303.7 24.7h0M349.5 23.7h0M353.2 20.7h0M282.9 55.5h0M301.1 32.8h0M308.8 37.7h0M339.6 29.9h0M352.1 53.1h0M295.3 61.7h0M352.2 48.7h0M335.2 15.6h0M282.0 50.9h0"/>
<path stroke="#c8c000" stroke-opacity="0.75" stroke-width="2" stroke-linecap="round" d="M327.6 51.9h0M337.5 44.0h0M311.2 61.0h0M358.7 27.7h0M302.8 17.2h0M260.8 47.1h0M287.5 26.4h0M322.5 44.0h0M304.0 56.7h0M325.8 46.0h0M357.3 46.2h0M291.0 56.6h0M357.1 52.7h0M314.8 25.9h0M300.2 38.8h0M303.2 52.9h0M318.6 22.4h0M328.1 39.0h0M271.0 27.9h0M331.5 24.9h0M279.3 38.6h0M316.6 31.2h0M304.7 59.2h0M333.6 14.7h0M340.9 43.2h0M289.7 54.9h0M356.0 16.2h0M266.1 60.0h0M314.1 38.4h0M293.4 37.1h0M295.5 64.7h0M346.0 48.3h0M311.7 18.8h0M305.8 26.8h0M283.4 46.0h0M309.6 49.6h0M272.9 29.9h0M278.5 45.9h0"/>
<path stroke="#fff040" stroke-width="2" stroke-linecap="round" d="M358.1 52.8h0M354.2 50.3h0M264.2 16.0h0M333.1 22.0h0M334.8 38.6h0M334.2 63.8h0M291.7 37.1h0M343.4 32.2h0M280.9 55.9h0M265.9 62.8h0M276.5 32.8h0M344.9 61.7h0M318.4 14.4h0M309.9 35.7h0M284.9 31.2h0M335.7 51.9h0M346.9 32.9h0M289.0 45.8h0M304.0 27.8h0M323.1 55.7h0M357.5 54.7h0M313.8 14.3h0"/>
<path stroke="#fff040" stroke-width="3.2" stroke-linecap="round" d="M279.4 16.0h0M265.5 59.2h0M297.6 33.6h0M301.1 22.9h0M317.4 35.0h0M349.8 19.5h0"/>
<path stroke="#f0e830" stroke-width="2.4" stroke-linecap="round" d="M264.5 35.4h0M339.5 62.3h0M271.7 42.8h0M346.6 15.6h0M319.3 49.6h0M319.5 49.7h0M318.0 25.2h0M347.7 46.6h0M315.1 54.6h0M272.9 23.4h0M304.3 32.1h0M294.7 36.0h0M338.3 62.9h0M298.1 37.8h0M332.9 22.2h0M303.0 24.1h0M273.5 24.2h0M318.3 46.6h0M275.7 52.3h0M278.6 44.2h0M284.2 56.2h0M324.1 33.8h0M295.1 52.0h0M291.6 50.8h0M303.9 43.4h0M272.9 61.1h0"/>
<path stroke="#e8e01a" stroke-width="1.6" stroke-linecap="round" d="M347.4 45.2h0M279.3 26.5h0M336.3 62.0h0M264.0 57.9h0M305.8 36.6h0M291.5 61.8h0M351.6 17.6h0M331.8 27.5h0M314.0 26.4h0M335.3 45.6h0M269.3 36.9h0M346.4 26.1h0M286.5 33.5h0"/>
<path stroke="#d8d010" stroke-width="2" stroke-linecap="round" d="M339.9 19.2h0M291.4 22.2h0M272.3 60.6h0M297.1 58.2h0M259.2 28.9h0M278.9 49.0h0M274.0 52.5h0M277.0 37.9h0M286.2 61.3h0M289.7 52.6h0M338.8 34.3h0M339.0 18.9h0"/>
<path stroke="#fff040" stroke-width="2.4" stroke-linecap="round" d="M262.4 24.0h0M337.2 52.3h0M306.3 22.6h0M272.1 62.6h0M289.8 39.3h0M279.8 35.6h0M346.6 41.2h0M334.4 36.9h0M322.7 58.1h0M313.8 59.1h0M354.5 47.8h0M290.1 19.5h0M333.3 41.1h0"/>
<path stroke="#fff040" stroke-width="1.6" stroke-linecap="round" d="M269.2 41.3h0M290.0 57.6h0M339.5 36.8h0M320.2 58.9h0M270.8 27.2h0M335.8 51.6h0M303.2 44.3h0M328.6 23.8h0M347.5 59.1h0"/>
<path stroke="#fff040" stroke-width="2.8" stroke-linecap="round" d="M304.3 43.5h0M293.8 33.9h0M347.0 58.0h0M359.1 47.0h0M356.7 52.7h0M283.1 57.7h0M356.5 22.1h0M345.5 57.5h0M351.0 61.0h0M336.3 49.4h0M267.2 42.6h0M345.3 23.0h0M278.4 61.3h0M266.0 28.2h0M270.0 42.0h0M287.0 25.1h0M268.7 44.3h0M275.0 32.9h0M346.9 33.9h0M262.1 40.1h0M285.6 37.7h0M312.4 35.3h0"/>
<path stroke="#d8d010" stroke-width="2.4" stroke-linecap="round" d="M332.4 34.2h0M274.0 22.7h0M331.1 32.6h0M296.3 65.1h0M322.8 40.7h0M350.6 40.0h0M313.7 16.1h0M280.8 32.9h0M271.2 60.0h0M301.9 34.1h0M301.6 27.2h0M264.2 40.1h0M354.0 57.4h0M278.9 62.6h0M336.8 56.7h0M278.2 17.1h0M325.4 44.9h0M267.3 34.8h0M321.4 39.3h0M314.5 59.4h0M359.5 28.1h0M319.9 38.9h0"/>
<path stroke="#d8d010" stroke-opacity="0.75" stroke-width="2" stroke-linecap="round" d="M283.0 34.2h0M343.8 19.6h0M353.7 59.5h0M327.0 23.7h0M301.8 50.7h0M347.0 18.0h0M335.1 65.2h0M320.9 34.2h0M260.4 29.9h0M299.7 41.8h0M276.5 35.9h0M289.7 46.4h0M302.7 31.4h0M267.5 63.4h0M343.5 27.2h0M289.8 52.2h0M261.0 59.8h0M335.0 24.1h0M325.9 25.6h0M315.3 63.2h0M356.2 28.8h0M332.3 39.1h0M347.2 17.7h0M287.5 65.4h0M274.3 20.2h0M296.9 23.7h0M295.3 24.8h0M339.0 47.0h0M281.1 59.7h0M265.3 50.9h0M260.6 47.7h0M270.7 38.9h0M318.1 30.0h0M349.1 63.3h0M282.3 15.2h0M308.6 61.7h0"/>
<path stroke="#d8d010" stroke-opacity="0.75" stroke-width="3.2" stroke-linecap="round" d="M312.2 16.0h0M264.8 30.1h0M328.6 62.0h0M327.8 34.1h0M283.1 49.7h0M258.8 39.8h0M313.6 64.5h0M281.8 50.1h0M305.5 59.1h0M276.2 58.4h0M329.5 43.3h0M346.7 26.2h0M285.0 19.2h0M325.8 31.8h0M340.8 32.6h0"/>
<path stroke="#fff040" stroke-opacity="0.75" stroke-width="3.2" stroke-linecap="round" d="M342.5 51.3h0M292.1 47.1h0M273.1 59.2h0M300.6 42.8h0M307.3 43.5h0M341.6 38.0h0M337.8 60.4h0M350.6 58.6h0M299.2 20.8h0M352.1 29.7h0M308.7 21.1h0M334.4 56.8h0M336.2 18.0h0M338.7 25.8h0M323.1 49.2h0"/>
<path stroke="#e8e01a" stroke-opacity="0.75" stroke-width="3.2" stroke-linecap="round" d="M345.8 16.6h0M328.4 54.3h0M342.8 32.4h0M285.6 39.4h0M284.7 56.2h0M344.0 62.3h0M344.8 49.1h0M286.7 21.1h0"/>
<path stroke="#c8c000" stroke-opacity="0.75" stroke-width="2.8" stroke-linecap="round" d="M352.2 23.8h0M262.0 14.6h0M293.5 19.3h0M296.0 44.1h0M259.5 33.1h0M349.5 25.6h0M269.3 42.5h0M320.6 32.2h0M286.9 44.7h0M273.3 19.1h0M355.9 21.6h0M291.0 17.0h0M282.0 50.3h0M338.0 36.3h0M276.9 50.2h0M348.0 59.8h0M345.2 54.4h0M304.6 24.6h0M311.9 59.4h0M282.4 60.4h0M317.2 51.9h0M337.3 32.7h0M325.9 57.1h0M280.3 54.2h0M302.6 39.2h0M344.4 23.9h0M284.0 34.0h0M273.3 58.9h0M358.4 19.5h0M353.2 62.6h0M335.9 25.3h0"/>
<path stroke="#fff040" stroke-opacity="0.75" stroke-width="1.6" stroke-linecap="round" d="M301.5 58.3h0M351.2 52.5h0M276.9 63.7h0M333.7 20.9h0M319.7 51.0h0M347.1 38.3h0M266.1 36.4h0M320.7 38.8h0M278.4 29.0h0M271.7 41.2h0M309.4 16.0h0"/>
<path stroke="#d8d010" stroke-width="3.2" stroke-linecap="round" d="M322.2 21.3h0M340.9 39.7h0M308.6 32.4h0M325.3 15.6h0M306.0 43.0h0M319.5 43.6h0M297.3 49.1h0M273.3 56.0h0M358.0 28.2h0M349.6 26.4h0M320.3 44.8h0"/>
<path stroke="#c8c000" stroke-opacity="0.75" stroke-width="3.2" stroke-linecap="round" d="M268.5 42.0h0M342.3 38.4h0M283.0 23.8h0M272.7 59.7h0M330.5 16.3h0M281.3 56.0h0M315.8 37.4h0M352.0 43.4h0M289.4 28.6h0M304.4 56.8h0M260.7 19.0h0M307.0 18.2h0M308.9 31.5h0M300.8 37.6h0M286.7 59.6h0M269.1 20.1h0M279.4 27.0h0M325.0 61.1h0M285.1 36.2h0M269.2 58.7h0M334.5 37.8h0M324.4 61.2h0M343.7 24.3h0"/>
<path stroke="#d8d010" stroke-opacity="0.75" stroke-width="2.4" stroke-linecap="round" d="M316.0 29.0h0M324.0 57.0h0M295.6 14.9h0M338.9 64.2h0M311.3 41.6h0M338.8 46.4h0M331.8 62.3h0M302.1 20.5h0M297.1 23.3h0M337.2 31.8h0M283.5 17.7h0M316.5 58.2h0M339.5 35.4h0M280.4 61.6h0M316.0 20.8h0M340.1 40.9h0M289.7 36.5h0M267.3 20.5h0M313.9 53.3h0M335.4 34.5h0M274.9 34.9h0M314.9 16.6h0M323.0 42.0h0M288.4 45.2h0M265.4 47.5h0M323.5 26.4h0M267.4 57.2h0M345.9 17.8h0M299.9 46.2h0M276.7 62.2h0M313.8 26.0h0M273.7 38.1h0M261.1 33.2h0M266.8 32.2h0M325.8 30.5h0"/>
<path stroke="#fff040" stroke-opacity="0.75" stroke-width="2" stroke-linecap="round" d="M333.2 18.8h0M281.3 55.2h0M356.8 40.7h0M317.6 51.4h0M323.0 63.8h0M292.5 38.6h0M351.2 31.9h0M300.3 33.1h0M289.5 45.7h0M288.1 44.2h0M353.3 33.5h0M315.0 51.2h0M334.5 47.9h0M336.4 25.0h0M291.7 53.2h0M352.6 23.8h0M263.2 16.1h0M290.3 53.8h0M349.9 28.2h0M343.6 45.5h0M320.1 50.7h0M351.3 18.5h0M281.2 61.8h0M313.9 23.9h0M355.7 52.8h0M318.5 32.6h0M288.2 25.3h0"/>
<path stroke="#d8d010" stroke-width="2.8" stroke-linecap="round" d="M321.4 45.8h0M263.9 33.0h0M273.7 47.7h0M351.9 52.0h0M321.2 17.2h0M327.9 51.8h0M287.3 53.9h0M327.2 27.2h0M281.0 37.6h0M352.8 49.3h0M267.0 34.7h0M352.1 15.3h0M275.3 23.7h0M295.4 30.1h0M277.2 51.5h0M329.9 38.1h0M317.6 39.7h0M315.5 49.3h0M273.1 47.5h0M284.0 14.9h0M305.4 43.3h0"/>
<path stroke="#c8c000" stroke-opacity="0.75" stroke-width="1.6" stroke-linecap="round" d="M316.9 63.8h0M267.5 28.1h0M352.3 47.2h0M308.3 53.7h0M290.3 38.6h0M299.1 36.0h0M260.7 27.6h0M328.0 19.5h0M296.2 56.9h0M338.3 56.6h0M351.7 19.5h0M348.9 33.0h0M310.8 63.5h0"/>
<path stroke="#d8d010" stroke-opacity="0.75" stroke-width="1.6" stroke-linecap="round" d="M313.6 22.1h0M314.4 53.8h0M281.2 54.4h0M356.6 64.6h0M294.8 41.7h0M298.6 24.9h0M290.0 40.0h0M355.3 58.5h0M286.7 14.3h0M261.5 34.7h0M326.2 38.4h0"/>
<path stroke="#d8d010" stroke-width="1.6" stroke-linecap="round" d="M281.5 22.5h0M354.0 35.0h0M286.4 16.0h0M335.0 42.0h0M360.5 42.6h0"/>
<path stroke="#c8c000" stroke-width="1.6" stroke-linecap="round" d="M283.3 29.3h0M267.6 52.6h0M351.9 65.3h0M316.0 29.4h0M269.9 20.5h0M347.4 21.4h0M329.0 48.4h0M281.0 52.9h0"/>
<path stroke="#f0e830" stroke-width="3.2" stroke-linecap="round" d="M336.9 16.1h0M346.8 52.7h0M323.1 38.8h0M268.1 52.8h0M268.7 58.2h0M348.9 54.0h0M333.9 31.5h0M281.0 21.4h0M355.5 50.0h0M330.1 18.7h0M300.3 63.2h0M286.8 56.2h0M280.2 21.2h0"/>
<path stroke="#f0e830" stroke-width="1.6" stroke-linecap="round" d="M309.2 26.9h0M292.0 58.1h0M313.9 58.8h0M334.9 61.4h0M280.0 21.7h0M290.5 26.5h0"/>
<path stroke="#c8c000" stroke-width="3.2" stroke-linecap="round" d="M359.2 24.6h0M291.3 64.3h0M302.4 16.9h0M318.2 16.6h0M320.4 60.8h0M307.2 20.2h0M290.8 24.1h0M304.9 20.4h0M331.0 31.3h0M320.7 29.1h0"/>
<path stroke="#e8e01a" stroke-width="3.2" stroke-linecap="round" d="M328.7 47.1h0M331.6 56.0h0M343.0 42.9h0M260.6 26.7h0M349.9 24.8h0M353.4 56.1h0M297.2 56.5h0M334.4 64.5h0M281.3 60.7h0M313.6 31.9h0M346.4 44.5h0M301.5 57.6h0M326.8 25.4h0"/>
<path stroke="#e8e01a" stroke-width="2.4" stroke-linecap="round" d="M310.9 23.7h0M329.8 53.8h0M306.7 43.5h0M356.0 37.4h0M346.2 52.7h0M301.2 32.3h0M339.9 29.0h0M350.9 26.2h0M340.8 22.4h0M344.2 44.8h0M263.5 21.9h0M320.9 64.1h0M290.2 55.5h0M325.2 38.5h0M352.4 32.3h0M265.8 59.6h0M293.8 16.5h0"/>
</g>
<rect x="263.3" y="19.2" width="30.4" height="8.8" fill="#8e9ab0" />
<text x="264" y="26.6" font-size="8.4" font-weight="bold" fill="#fff" text-anchor="start" font-family='"Liberation Sans", sans-serif' >YAG:Ce</text>
<rect x="332.5" y="58.9" width="21.8" height="2.3" fill="#fff" />
<rect x="259.4" y="67.7" width="100.3" height="49.8" fill="#000" />
<g clip-path="url(#mc102)">
<path stroke="#40ff40" stroke-opacity="0.75" stroke-width="2.4" stroke-linecap="round" d="M273.6 98.6h0M303.6 92.7h0M326.9 114.4h0M307.7 113.6h0M318.2 118.4h0M260.1 86.3h0M309.9 112.2h0M261.6 73.0h0M318.6 94.6h0M323.3 81.1h0M304.8 100.3h0M323.8 82.2h0"/>
<path stroke="#40ff40" stroke-opacity="0.75" stroke-width="3.2" stroke-linecap="round" d="M288.4 88.9h0M267.8 83.9h0M334.2 70.6h0M347.6 77.7h0M324.2 72.1h0M320.9 105.8h0M265.1 110.4h0M276.4 71.5h0M278.7 113.7h0M258.4 72.7h0M334.6 103.9h0M306.9 115.1h0M264.6 84.4h0M320.0 69.9h0M271.8 88.7h0M357.4 69.4h0M340.6 103.7h0M330.9 78.8h0M317.3 84.8h0M347.1 102.7h0"/>
<path stroke="#10b010" stroke-opacity="0.75" stroke-width="2.4" stroke-linecap="round" d="M334.8 112.5h0M304.2 101.0h0M273.8 72.9h0M288.8 105.2h0M333.8 81.9h0M323.4 104.2h0M281.2 103.0h0M349.5 70.0h0M261.9 89.4h0M301.4 68.1h0M336.0 80.8h0M267.9 101.1h0M283.3 92.5h0M272.6 88.5h0M320.6 101.5h0M298.3 104.9h0M277.7 87.6h0M337.4 95.5h0M312.2 93.3h0M284.2 84.1h0M334.2 70.5h0M350.5 76.7h0"/>
<path stroke="#18c818" stroke-width="2" stroke-linecap="round" d="M310.6 71.1h0M275.0 79.9h0M347.9 97.4h0M327.0 76.7h0M278.7 99.8h0M354.8 79.4h0M322.8 96.8h0"/>
<path stroke="#20e020" stroke-opacity="0.75" stroke-width="2.8" stroke-linecap="round" d="M308.6 88.0h0M274.6 85.6h0M269.6 87.5h0M299.4 94.9h0M360.5 86.2h0M268.0 116.0h0M259.4 111.1h0M280.2 93.9h0M268.8 98.1h0M282.3 104.4h0M344.0 116.7h0M334.9 89.1h0M352.6 93.9h0M289.6 106.9h0M334.8 70.4h0M286.5 92.6h0M276.3 99.3h0M274.8 98.0h0M328.5 80.9h0"/>
<path stroke="#18c818" stroke-opacity="0.75" stroke-width="2.4" stroke-linecap="round" d="M320.1 110.2h0M265.7 79.0h0M289.0 90.9h0M334.5 67.0h0M281.9 99.3h0M346.7 113.4h0M327.6 105.4h0M311.9 116.4h0M277.0 118.3h0M304.3 72.6h0M278.9 75.3h0M338.9 83.8h0M350.9 96.0h0M341.9 97.3h0M330.0 77.4h0M306.3 71.0h0M264.4 70.2h0M347.0 82.3h0"/>
<path stroke="#30f030" stroke-width="3.6" stroke-linecap="round" d="M303.5 101.3h0M324.2 81.7h0M267.0 100.8h0M297.3 70.5h0M313.4 76.6h0M271.2 116.7h0M278.5 113.2h0M317.1 92.5h0M294.6 72.2h0M307.3 101.8h0M264.7 112.3h0M261.1 92.1h0M284.5 79.6h0M356.9 91.3h0M310.6 106.0h0M337.7 71.9h0M325.7 68.8h0M267.8 111.8h0M304.6 96.5h0M281.1 68.3h0M300.9 104.8h0"/>
<path stroke="#40ff40" stroke-width="2.8" stroke-linecap="round" d="M306.5 115.8h0M337.6 78.1h0M342.3 82.4h0M357.9 76.0h0M309.5 78.9h0M305.4 83.1h0M325.8 97.0h0M286.1 111.2h0M345.5 85.1h0M262.3 70.1h0M282.3 81.9h0M352.8 92.7h0M307.7 94.0h0M326.7 98.2h0"/>
<path stroke="#40ff40" stroke-width="3.2" stroke-linecap="round" d="M298.4 105.2h0M274.0 87.3h0M299.1 113.3h0M348.1 89.2h0M355.8 82.0h0M298.2 72.2h0M308.1 76.6h0M269.2 101.3h0M261.4 92.2h0M314.7 97.3h0M298.6 79.4h0M281.8 71.8h0M311.5 91.8h0M301.2 99.9h0"/>
<path stroke="#10b010" stroke-opacity="0.75" stroke-width="2.8" stroke-linecap="round" d="M313.0 117.2h0M293.0 91.2h0M357.8 69.6h0M358.6 75.5h0M268.8 114.9h0M286.3 93.9h0M292.9 117.8h0M283.8 84.3h0M286.5 89.7h0M289.5 116.2h0M312.2 105.0h0M295.7 82.8h0M259.5 102.0h0M348.7 88.5h0M294.4 74.6h0M338.5 111.9h0M356.1 104.7h0M272.9 102.5h0M264.6 116.6h0"/>
<path stroke="#40ff40" stroke-width="2.4" stroke-linecap="round" d="M306.9 112.0h0M260.8 75.7h0M348.8 96.4h0M327.1 111.8h0M266.8 72.0h0M350.7 109.8h0M330.3 81.3h0M302.0 105.1h0M351.1 95.2h0"/>
<path stroke="#18c818" stroke-opacity="0.75" stroke-width="3.2" stroke-linecap="round" d="M297.7 79.9h0M336.6 114.6h0M349.6 80.4h0M300.9 102.4h0M307.6 105.3h0M259.8 108.1h0M287.2 71.1h0M300.3 89.0h0M315.5 69.4h0M282.3 109.6h0M311.5 102.8h0M282.2 112.6h0M328.1 74.7h0M266.4 97.6h0M307.8 106.3h0M315.0 113.7h0M340.5 114.5h0M283.6 76.1h0M310.3 91.8h0M276.4 98.5h0M315.9 77.6h0"/>
<path stroke="#18c818" stroke-opacity="0.75" stroke-width="2" stroke-linecap="round" d="M319.8 94.2h0M315.1 92.4h0M354.3 115.3h0M360.3 102.5h0M294.2 96.7h0M354.7 105.0h0M343.4 112.5h0M323.8 87.6h0M306.7 107.0h0M279.7 75.8h0M334.0 110.1h0M289.6 102.4h0M294.6 91.2h0"/>
<path stroke="#10b010" stroke-opacity="0.75" stroke-width="3.2" stroke-linecap="round" d="M285.7 89.8h0M347.1 87.3h0M283.2 81.0h0M351.8 85.2h0M357.4 115.6h0M350.8 82.3h0M302.3 117.7h0M327.8 88.7h0M290.3 68.0h0M295.2 116.8h0M275.7 84.2h0M264.9 112.6h0M332.9 67.2h0M326.1 72.7h0M293.8 85.9h0M338.6 100.2h0M326.7 109.8h0M288.0 76.7h0M259.3 105.0h0"/>
<path stroke="#18c818" stroke-width="3.2" stroke-linecap="round" d="M338.4 107.8h0M286.7 78.0h0M299.5 98.4h0M277.4 86.5h0M289.1 84.0h0M329.1 81.7h0M341.9 118.2h0M355.4 111.3h0M337.2 100.7h0M349.9 92.5h0M326.0 106.0h0M277.8 108.3h0M305.7 90.2h0M282.0 89.7h0M282.7 75.3h0M352.3 85.3h0M334.7 113.6h0"/>
<path stroke="#10b010" stroke-width="2.4" stroke-linecap="round" d="M281.6 71.5h0M264.3 69.8h0M297.1 98.5h0M261.5 85.6h0M279.6 79.0h0M344.7 67.8h0M261.1 83.5h0M272.3 72.9h0M278.9 83.5h0M281.0 73.2h0M326.5 71.5h0M265.6 76.3h0M281.0 103.4h0M277.1 103.2h0M275.5 89.9h0"/>
<path stroke="#18c818" stroke-opacity="0.75" stroke-width="2.8" stroke-linecap="round" d="M356.6 99.8h0M359.2 109.9h0M296.7 105.6h0M261.2 118.1h0M320.4 78.3h0M342.6 86.2h0M286.6 90.5h0M280.4 76.5h0M270.2 78.8h0M341.1 89.6h0M280.3 114.2h0M293.2 74.8h0M306.1 73.4h0M305.7 115.5h0M347.4 87.0h0M296.3 113.8h0M290.4 74.7h0M310.4 104.3h0"/>
<path stroke="#20e020" stroke-width="3.6" stroke-linecap="round" d="M338.0 104.4h0M341.7 100.8h0M317.7 77.6h0M264.2 98.2h0M336.7 112.7h0M299.2 91.9h0M302.4 112.5h0M345.5 89.2h0M285.1 112.4h0M265.2 85.0h0M355.0 96.7h0M274.8 97.3h0M286.6 101.7h0M289.8 116.1h0"/>
<path stroke="#18c818" stroke-width="2.4" stroke-linecap="round" d="M352.0 90.2h0M349.7 97.5h0M323.3 104.7h0M329.8 117.3h0M287.2 94.9h0M265.8 94.1h0M266.5 68.7h0M327.9 101.0h0M268.0 78.2h0M299.6 90.1h0M330.0 104.0h0M265.7 118.2h0"/>
<path stroke="#18c818" stroke-width="3.6" stroke-linecap="round" d="M285.1 117.4h0M277.1 81.0h0M284.7 118.4h0M301.7 69.5h0M283.6 89.2h0M314.3 85.8h0M319.1 110.3h0M347.7 90.4h0M280.7 97.4h0M274.7 98.9h0M314.9 76.0h0M311.0 98.7h0M329.7 109.5h0M308.7 86.4h0M326.8 101.1h0"/>
<path stroke="#40ff40" stroke-width="2" stroke-linecap="round" d="M307.9 116.1h0M323.2 81.4h0M294.7 73.7h0M305.5 96.4h0M332.7 105.7h0"/>
<path stroke="#40ff40" stroke-opacity="0.75" stroke-width="2.8" stroke-linecap="round" d="M356.5 68.3h0M285.9 101.1h0M347.5 108.1h0M317.2 84.4h0M352.7 79.9h0M356.8 84.9h0M285.4 78.0h0M273.3 103.0h0M307.5 113.6h0M348.0 83.7h0M292.1 83.2h0M349.5 108.2h0M338.5 109.6h0M358.3 68.7h0M259.3 84.3h0M289.3 97.6h0"/>
<path stroke="#20e020" stroke-opacity="0.75" stroke-width="3.2" stroke-linecap="round" d="M315.0 70.8h0M295.1 108.6h0M283.0 97.7h0M340.6 105.0h0M355.3 112.7h0M345.8 73.1h0M351.5 110.0h0M333.7 105.4h0M359.0 92.0h0M263.5 79.3h0M267.0 99.1h0M303.4 114.7h0M320.0 69.0h0M344.6 71.1h0M325.5 83.7h0M322.9 98.9h0M299.6 112.2h0M298.7 76.3h0M313.3 84.8h0M260.5 117.6h0"/>
<path stroke="#30f030" stroke-opacity="0.75" stroke-width="2" stroke-linecap="round" d="M307.9 77.3h0M260.4 82.8h0M318.0 75.2h0M310.1 70.6h0M311.1 97.9h0M299.9 95.9h0M305.8 117.3h0M314.4 79.2h0M316.9 104.4h0M330.1 67.2h0"/>
<path stroke="#10b010" stroke-width="3.2" stroke-linecap="round" d="M313.3 104.1h0M319.0 111.6h0M298.3 84.1h0M278.6 100.6h0M327.0 111.9h0M306.5 73.9h0M297.6 88.5h0M269.2 90.6h0M351.3 74.8h0M261.5 75.0h0M276.6 87.0h0"/>
<path stroke="#30f030" stroke-opacity="0.75" stroke-width="3.6" stroke-linecap="round" d="M260.3 90.1h0M326.2 71.8h0M276.4 103.3h0M341.7 75.1h0M319.3 108.5h0M278.3 105.0h0M312.1 76.9h0M346.3 108.2h0M320.2 97.8h0M331.3 113.7h0M284.0 77.7h0M351.6 97.5h0M264.2 99.3h0M346.7 117.9h0M266.2 70.1h0M295.7 113.7h0M258.6 73.9h0M264.6 111.0h0M266.0 87.5h0M332.9 92.6h0M342.3 79.3h0M343.8 110.5h0M339.5 67.2h0M261.8 90.7h0M263.3 115.3h0M359.0 101.8h0"/>
<path stroke="#18c818" stroke-opacity="0.75" stroke-width="3.6" stroke-linecap="round" d="M278.6 104.6h0M349.4 97.3h0M334.3 110.4h0M355.5 71.0h0M282.1 77.8h0M338.6 117.5h0M302.8 66.7h0M349.8 114.0h0M314.5 79.4h0M296.8 80.1h0M261.8 99.7h0M306.0 75.4h0M264.4 95.2h0M330.2 111.6h0M354.5 112.9h0M306.6 77.2h0"/>
<path stroke="#10b010" stroke-width="3.6" stroke-linecap="round" d="M342.2 102.4h0M338.4 114.4h0M324.5 76.1h0M349.7 114.7h0M298.2 72.2h0M271.0 105.6h0M356.2 73.9h0M307.7 98.6h0M264.0 92.7h0M290.0 100.2h0M324.3 79.9h0M307.5 85.2h0M327.7 86.8h0M278.0 105.8h0"/>
<path stroke="#20e020" stroke-opacity="0.75" stroke-width="3.6" stroke-linecap="round" d="M308.6 93.2h0M338.7 117.4h0M308.4 109.8h0M301.7 72.8h0M304.7 88.4h0M312.6 91.7h0M302.8 86.2h0M326.8 90.6h0M298.9 108.4h0M347.9 93.7h0M342.7 113.4h0M278.6 95.8h0M345.6 87.6h0M269.2 66.9h0M304.0 96.6h0M357.0 78.0h0M328.4 84.5h0M270.4 104.6h0M347.3 108.2h0M336.7 94.8h0M299.9 101.1h0M261.7 76.8h0M307.7 82.3h0"/>
<path stroke="#30f030" stroke-opacity="0.75" stroke-width="2.8" stroke-linecap="round" d="M287.4 70.0h0M293.9 98.8h0M314.3 74.3h0M288.0 110.2h0M355.0 107.0h0M328.3 107.2h0M286.4 84.0h0M293.2 103.8h0M297.5 67.2h0M291.7 100.0h0M298.4 113.2h0M344.9 70.3h0M262.1 95.0h0M333.8 103.6h0M348.5 66.9h0M316.4 109.6h0M276.0 98.1h0M333.2 85.1h0M318.8 68.8h0M353.7 80.2h0"/>
<path stroke="#20e020" stroke-width="2.8" stroke-linecap="round" d="M266.9 91.1h0M291.5 117.0h0M329.4 92.7h0M321.8 81.8h0M261.2 101.7h0M290.6 87.3h0M298.5 75.4h0"/>
<path stroke="#40ff40" stroke-opacity="0.75" stroke-width="3.6" stroke-linecap="round" d="M297.6 94.3h0M338.6 115.4h0M346.6 89.3h0M272.4 80.0h0M277.3 113.2h0M356.6 113.8h0M291.9 74.4h0M350.5 72.1h0M293.5 109.0h0M341.2 82.6h0M320.7 74.9h0M268.6 100.3h0M355.2 82.9h0M280.7 98.8h0"/>
<path stroke="#20e020" stroke-width="3.2" stroke-linecap="round" d="M309.8 81.4h0M266.0 105.4h0M259.9 95.8h0M283.5 103.4h0M313.4 106.2h0M328.5 74.2h0M286.7 83.6h0M357.9 101.2h0M284.9 88.8h0M295.4 117.1h0M312.1 95.8h0M355.3 76.2h0"/>
<path stroke="#20e020" stroke-width="2" stroke-linecap="round" d="M297.4 88.6h0M315.8 92.7h0M334.5 81.0h0M329.1 68.5h0M259.3 91.2h0M278.1 69.0h0M300.6 118.0h0M314.5 104.9h0M307.3 69.3h0M277.2 95.5h0"/>
<path stroke="#40ff40" stroke-opacity="0.75" stroke-width="2" stroke-linecap="round" d="M344.9 93.1h0M325.8 73.8h0M326.8 82.9h0M325.5 79.5h0M263.0 105.8h0M282.0 90.4h0M303.5 99.8h0M331.7 97.9h0M310.4 76.0h0M300.7 117.8h0M324.0 109.4h0M337.3 88.4h0M313.9 70.6h0"/>
<path stroke="#40ff40" stroke-width="3.6" stroke-linecap="round" d="M262.0 72.9h0M343.2 80.7h0M311.6 109.1h0M350.6 110.9h0M323.8 105.9h0M330.2 79.9h0"/>
<path stroke="#30f030" stroke-width="2.4" stroke-linecap="round" d="M343.0 98.5h0M346.7 118.4h0M284.3 101.1h0M325.7 90.4h0M338.8 117.0h0M332.4 105.6h0M278.4 85.0h0M295.0 100.0h0M344.3 94.4h0M357.8 102.9h0M325.9 89.4h0M317.1 92.7h0M347.0 72.7h0M326.6 79.4h0M278.6 67.2h0M270.8 71.6h0M316.9 85.9h0M319.6 76.7h0M305.6 105.8h0M319.4 70.9h0M272.0 82.1h0M353.5 101.2h0"/>
<path stroke="#10b010" stroke-opacity="0.75" stroke-width="3.6" stroke-linecap="round" d="M338.2 69.0h0M351.7 82.0h0M345.9 116.8h0M359.9 108.7h0M337.6 93.5h0M307.2 70.2h0M288.7 117.5h0M335.7 82.5h0M349.4 109.6h0M297.9 69.1h0M259.2 117.3h0M353.2 68.4h0M305.3 115.9h0M335.5 108.2h0"/>
<path stroke="#30f030" stroke-opacity="0.75" stroke-width="3.2" stroke-linecap="round" d="M329.9 89.9h0M300.9 114.9h0M318.7 70.9h0M357.7 92.8h0M312.7 96.1h0M305.3 87.3h0M297.4 67.0h0M353.7 110.4h0M344.9 96.2h0M272.4 81.5h0M317.1 117.8h0M320.4 98.7h0M319.0 72.3h0M286.3 88.2h0"/>
<path stroke="#30f030" stroke-width="2.8" stroke-linecap="round" d="M311.1 84.3h0M350.1 117.3h0M335.8 80.3h0M357.3 110.4h0M278.2 112.4h0M298.8 113.1h0M325.8 72.0h0M311.6 69.2h0M294.6 70.0h0M291.0 116.2h0M320.0 78.8h0M261.7 117.7h0M326.4 111.3h0M342.9 113.8h0M342.9 104.1h0M352.3 82.5h0M317.1 78.5h0M327.0 106.5h0"/>
<path stroke="#30f030" stroke-width="3.2" stroke-linecap="round" d="M298.2 75.9h0M276.7 71.5h0M266.4 106.7h0M333.6 91.1h0M341.2 85.4h0M291.8 85.1h0M325.7 118.4h0M306.7 82.8h0M321.9 100.0h0M297.9 69.5h0M350.9 71.0h0M261.0 87.1h0M311.1 78.3h0"/>
<path stroke="#30f030" stroke-opacity="0.75" stroke-width="2.4" stroke-linecap="round" d="M339.1 81.7h0M285.3 83.3h0M269.3 90.9h0M299.4 114.7h0M266.9 76.0h0M309.9 89.4h0M308.8 96.8h0M349.3 67.0h0M260.6 108.7h0M358.5 92.0h0M332.6 116.4h0M310.9 94.8h0M259.6 98.6h0M277.0 102.2h0M329.9 80.2h0M357.2 90.5h0M328.7 112.4h0"/>
<path stroke="#10b010" stroke-opacity="0.75" stroke-width="2" stroke-linecap="round" d="M317.9 110.8h0M265.4 75.2h0M305.9 75.2h0M287.1 69.0h0M318.6 74.8h0M279.2 88.9h0M332.0 83.1h0M280.3 69.3h0"/>
<path stroke="#10b010" stroke-width="2.8" stroke-linecap="round" d="M261.2 92.2h0M302.9 67.9h0M354.8 69.5h0M359.0 84.1h0M358.8 85.1h0M334.6 80.6h0M265.3 99.1h0M282.1 96.9h0M262.1 93.3h0M311.1 88.2h0M359.7 99.1h0M297.5 97.7h0M339.7 109.8h0M313.7 66.7h0"/>
<path stroke="#20e020" stroke-opacity="0.75" stroke-width="2.4" stroke-linecap="round" d="M321.1 83.3h0M307.4 104.4h0M266.4 72.2h0M347.4 92.8h0M310.6 95.9h0M337.9 105.4h0M259.7 70.6h0M323.4 94.2h0M290.5 100.9h0M350.5 85.7h0M303.4 107.7h0M326.4 71.2h0M306.9 103.2h0M333.4 92.6h0M272.3 104.4h0M344.9 116.4h0M349.9 85.8h0"/>
<path stroke="#30f030" stroke-width="2" stroke-linecap="round" d="M343.3 68.1h0M281.1 98.4h0M279.3 96.4h0M331.7 112.8h0M339.8 103.8h0M261.8 84.8h0M349.6 94.2h0M330.9 101.2h0"/>
<path stroke="#18c818" stroke-width="2.8" stroke-linecap="round" d="M287.5 95.0h0M282.5 111.7h0M297.7 81.4h0M258.5 68.9h0M345.3 105.2h0M297.1 117.6h0M336.2 111.1h0M349.2 101.0h0M312.2 90.9h0M339.1 101.4h0M322.9 94.7h0M259.9 89.7h0"/>
<path stroke="#20e020" stroke-width="2.4" stroke-linecap="round" d="M350.8 116.4h0M281.6 70.9h0M354.0 72.9h0M350.0 69.5h0M300.7 67.8h0M289.3 91.4h0M338.4 106.4h0M315.1 76.2h0M348.0 103.2h0M288.4 76.4h0M283.0 76.4h0M314.4 88.4h0"/>
<path stroke="#10b010" stroke-width="2" stroke-linecap="round" d="M271.9 103.2h0M303.8 73.2h0M324.1 109.6h0M358.8 86.2h0M329.0 71.0h0M319.2 69.6h0M288.0 109.3h0"/>
<path stroke="#20e020" stroke-opacity="0.75" stroke-width="2" stroke-linecap="round" d="M288.9 71.6h0M335.9 105.9h0"/>
</g>
<rect x="263.2" y="71.6" width="31.8" height="8.8" fill="#8e9ab0" />
<text x="263.9" y="79" font-size="8.4" font-weight="bold" fill="#fff" text-anchor="start" font-family='"Liberation Sans", sans-serif' >YAG:Ga</text>
<rect x="332.4" y="111.9" width="21.8" height="2.3" fill="#fff" />
<rect x="259.4" y="120.7" width="100.3" height="50.1" fill="#000" />
<g clip-path="url(#mc103)">
<path fill="none" stroke="#d00c0c" stroke-width="2.2" stroke-linecap="butt" d="M362.4 140.9L358.5 145.7M325.3 125.9L329.4 131.6M283.6 171.0L279.8 176.4M302.2 153.4L306.9 155.3M319.3 118.0L316.1 120.9M289.1 160.3L293.2 164.9M355.7 126.3L350.3 130.7M323.9 136.6L324.0 143.7M323.9 119.1L326.5 122.9M266.4 141.3L266.8 145.5M266.8 147.9L263.0 153.2M275.1 151.9L275.0 155.1M285.6 119.5L282.5 125.4M359.5 119.1L357.2 121.6M289.7 147.6L284.4 150.6M326.3 130.5L319.9 130.6M310.9 170.0L310.3 174.7M340.2 162.8L342.5 165.4M345.8 160.7L349.5 161.4M257.3 118.8L262.9 121.1M286.3 146.2L290.3 150.5M318.3 142.7L321.4 146.1M259.9 126.9L263.0 133.3M314.2 120.8L317.7 124.4M300.1 133.1L305.6 135.7M335.1 132.0L338.4 132.7M319.7 131.1L322.0 134.3M329.4 165.3L327.9 171.5M270.7 148.2L266.2 149.8M330.6 162.5L326.7 162.5M284.6 118.3L281.6 119.6M281.9 134.8L279.2 139.1M310.4 148.3L306.1 148.7M309.0 145.9L305.3 146.1"/>
<path fill="none" stroke="#f42020" stroke-width="2.2" stroke-linecap="butt" d="M354.5 157.0L352.2 161.3M352.6 126.2L349.2 129.0M292.9 137.7L295.7 139.7M341.3 168.1L347.3 171.1M342.3 152.3L338.4 156.3M301.8 137.2L299.0 140.4M278.3 167.4L284.2 168.1M271.9 120.2L276.9 124.5M261.4 162.3L266.2 162.9M319.7 164.7L322.3 167.9M318.5 125.8L315.2 130.1M294.5 122.6L298.3 127.7M313.5 152.9L315.0 156.2M305.1 167.1L307.4 171.2M351.7 161.8L349.6 167.6M266.5 165.7L268.9 170.1M309.4 165.5L312.0 168.3M271.5 132.4L274.0 134.6M330.5 168.5L336.1 170.5M325.6 131.7L331.8 134.2M315.6 153.0L310.3 155.8M296.3 127.0L293.8 128.6M342.0 129.7L341.5 132.7M348.0 143.7L341.8 144.8M273.2 136.3L270.1 140.4M297.9 134.6L293.8 139.7M335.4 152.8L330.3 154.9M270.8 148.5L274.8 151.8M363.1 133.4L362.1 137.5M309.7 138.9L305.7 140.7M309.9 128.0L307.7 132.3M354.9 135.6L360.5 138.7"/>
<path fill="none" stroke="#e81414" stroke-width="1.6" stroke-linecap="butt" d="M266.5 120.2L271.5 124.4M357.0 165.5L361.6 166.6M353.2 118.4L349.7 122.3M267.0 132.3L270.7 136.0M339.8 128.5L342.6 130.9M270.0 165.9L276.9 167.4M322.8 127.7L328.2 130.7M270.2 125.7L264.6 126.0M339.5 158.9L336.0 161.7M355.6 142.6L354.6 147.1M357.7 170.2L362.2 172.7M341.0 149.3L341.8 154.1M262.6 115.3L264.8 120.3"/>
<path fill="none" stroke="#c00808" stroke-width="2.2" stroke-linecap="butt" d="M359.3 154.5L357.9 158.5M298.4 149.8L292.9 150.7M290.2 152.8L293.2 153.4M307.2 117.0L309.2 120.5M335.8 134.9L332.8 138.1M309.2 150.2L315.1 152.0M355.1 157.6L350.8 159.9M275.9 118.2L274.6 122.6M283.6 142.1L283.3 145.3M305.4 123.2L304.4 127.4M270.5 116.8L267.3 118.7M302.3 168.1L295.9 168.8M334.0 147.2L328.7 148.8M286.4 130.8L290.4 132.1M304.8 139.2L309.3 140.7M277.3 173.1L281.1 173.9M321.1 131.9L326.8 134.9M335.7 170.5L338.6 173.9M266.7 128.1L267.8 131.4M343.3 160.7L345.4 165.1M320.6 144.5L321.2 151.2M333.7 143.2L338.1 143.8M351.7 170.2L348.2 171.2M295.0 172.4L297.9 174.1M356.1 118.9L360.5 124.2M293.4 142.1L290.5 147.0M275.4 159.8L279.2 161.2M309.1 118.6L311.2 123.1M327.4 153.8L322.8 154.4M289.3 118.8L295.1 121.8M348.3 142.7L352.6 145.4"/>
<path fill="none" stroke="#ff3030" stroke-width="1.8" stroke-linecap="butt" d="M316.0 153.6L320.3 157.3M311.5 123.4L318.3 124.6M355.0 121.5L358.4 125.9M291.2 122.3L292.4 125.1M305.7 149.1L302.4 152.9M266.8 154.6L268.1 160.1M262.8 150.7L261.2 153.7M270.3 126.1L272.2 131.1M279.9 158.0L282.4 161.4M284.3 150.1L283.5 155.6M272.6 152.3L275.2 154.3M354.5 129.8L359.9 133.4M294.0 148.0L291.3 150.3M269.9 140.7L273.6 141.8M341.3 117.8L335.2 119.1M356.9 123.5L363.7 124.0M264.3 129.5L263.4 135.4M261.3 153.9L254.6 154.2M339.8 163.3L337.2 165.6M281.9 160.9L278.6 161.6M312.6 126.8L317.4 128.1M263.9 137.5L258.1 140.7M306.6 139.0L306.3 144.1M328.0 170.3L322.3 172.0M295.6 122.0L290.0 122.5M316.3 123.2L309.9 125.7M265.5 161.9L267.9 164.8"/>
<path fill="none" stroke="#c00808" stroke-width="2" stroke-linecap="butt" d="M334.0 166.8L330.2 170.4M331.6 132.5L331.8 136.1M360.3 133.8L358.4 139.0M312.5 161.6L315.8 165.5M286.7 131.1L286.1 135.5M346.4 156.7L343.4 157.4M267.3 125.0L262.9 126.7M341.8 163.8L335.1 163.9M301.9 161.7L307.3 164.3M262.4 133.3L259.8 137.0M257.9 164.1L255.6 170.9M259.2 157.0L254.4 158.2M331.7 158.8L334.5 161.5M348.5 143.9L350.5 149.0M312.0 134.7L314.4 139.8M358.9 117.3L352.4 118.4M331.2 148.9L327.8 151.0M260.1 121.9L260.1 127.3M327.7 118.1L330.4 124.2M313.9 122.5L307.4 123.7M297.4 131.0L300.8 133.1M319.3 122.6L315.2 125.7M260.2 122.2L258.6 125.2M350.4 172.0L343.4 173.4"/>
<path fill="none" stroke="#e81414" stroke-width="1.8" stroke-linecap="butt" d="M352.6 141.8L355.6 147.6M358.5 122.3L358.2 127.6M352.3 143.7L350.7 147.3M354.9 132.8L358.7 134.5M274.5 148.3L270.4 151.8M359.3 163.9L355.6 165.1M267.5 153.1L262.7 154.0M316.6 134.9L313.0 136.7M282.0 122.6L282.4 126.8M325.5 164.5L330.8 168.8M361.2 122.6L362.2 126.2M348.8 158.8L349.9 163.6M347.3 135.6L351.9 138.3M275.0 166.7L280.5 168.9M286.4 163.0L288.3 165.8M318.2 127.9L322.5 129.9M282.3 119.6L283.0 123.8M304.8 161.0L299.2 163.4M274.7 171.3L277.9 172.6M321.1 127.6L323.5 131.0M264.7 129.1L271.8 129.9M262.7 138.1L265.4 142.3M333.4 129.9L328.2 132.0M344.8 124.8L344.1 128.1M258.9 127.4L258.1 134.4M303.9 133.3L298.1 135.8M275.2 141.8L276.8 144.6"/>
<path fill="none" stroke="#e81414" stroke-width="2.2" stroke-linecap="butt" d="M330.4 123.8L324.4 125.5M283.8 158.5L287.4 158.6M291.4 128.5L285.9 129.2M265.1 151.3L263.8 157.1M271.2 141.5L273.3 146.6M319.2 152.5L318.8 156.9M279.0 134.7L274.4 137.8M269.5 151.5L266.1 151.8M326.6 146.7L328.6 150.6M341.5 125.6L338.3 128.5M326.8 152.1L329.0 155.5M322.7 154.4L325.8 159.0M340.4 132.1L343.3 133.9M329.6 136.8L326.9 141.3M356.9 134.7L360.5 136.4M339.3 172.0L335.4 172.2M313.8 149.8L307.5 150.2M259.9 142.0L265.1 144.6M345.3 131.6L340.2 134.3M270.7 152.7L270.4 158.9M311.8 141.1L316.0 142.8M309.8 122.2L311.2 125.6M335.6 118.7L328.8 120.1M263.8 158.4L267.8 159.0M310.7 166.4L312.1 170.0M360.6 154.5L363.7 156.8M298.1 127.2L301.9 128.9"/>
<path fill="none" stroke="#c00808" stroke-width="1.8" stroke-linecap="butt" d="M288.1 146.3L286.7 150.8M314.9 147.6L313.4 151.3M263.1 150.8L256.7 153.5M359.9 120.9L362.7 124.6M321.4 160.2L315.4 160.3M277.0 157.0L282.3 157.4M340.4 153.3L336.7 159.2M260.0 145.6L258.8 150.1M309.7 160.7L310.9 164.7M342.6 153.9L348.9 155.5M296.0 130.9L291.1 134.6M342.1 170.6L347.4 174.9M332.0 167.6L333.7 170.7M272.5 164.4L268.9 169.2M357.8 162.1L361.6 164.0M271.9 121.0L267.1 124.0M308.4 152.0L309.7 155.6M313.1 122.8L320.2 123.3M292.7 129.7L293.4 133.3M324.0 138.0L324.3 143.5M294.3 150.7L289.9 154.8M262.1 151.6L256.8 151.8M289.1 162.2L285.0 163.4M271.9 172.0L273.1 175.3M321.3 128.6L316.3 130.6M330.0 118.2L326.3 119.5M307.5 119.3L308.9 123.3M336.5 163.9L338.3 166.9M320.5 160.4L314.3 162.8M362.8 137.0L358.9 142.3M291.8 139.4L287.1 140.1M348.4 142.1L354.0 143.7M273.8 131.8L273.7 135.2M271.4 163.3L272.6 167.1"/>
<path fill="none" stroke="#e81414" stroke-width="2" stroke-linecap="butt" d="M262.9 155.1L267.8 155.5M353.4 146.0L354.5 150.0M326.7 145.5L331.9 145.9M296.1 130.3L296.6 135.9M330.5 156.3L326.4 161.6M290.2 128.3L286.4 131.8M298.5 117.9L304.3 119.3M319.9 146.1L317.6 150.3M283.5 144.4L285.9 148.3M308.4 133.9L312.9 139.2M294.2 165.1L290.3 165.5M350.2 128.8L353.9 128.9M299.0 137.9L302.0 143.8M286.9 156.0L291.8 159.6M319.0 141.0L317.1 143.6M310.9 169.1L304.0 170.1M359.5 133.6L362.2 136.6M306.7 131.5L305.9 138.2M320.7 136.4L317.7 142.5M268.0 134.6L266.8 140.3M331.7 142.8L336.1 144.8M343.3 118.4L342.6 121.6M359.3 124.2L355.3 125.8M350.1 150.6L348.9 154.8M358.3 131.2L359.8 137.3M355.9 167.9L360.8 172.0"/>
<path fill="none" stroke="#ff3030" stroke-width="1.6" stroke-linecap="butt" d="M330.1 133.3L326.5 138.8M304.2 169.8L303.0 175.4M328.9 172.7L332.5 174.8M358.6 168.9L359.1 172.5M309.1 127.3L308.1 133.4M337.5 119.0L330.9 120.6M325.7 141.9L327.2 147.2M350.7 120.8L353.3 125.2M272.6 148.1L274.9 150.3M347.9 159.4L354.4 161.3M362.9 121.7L362.3 127.6M357.9 126.7L355.7 130.2M271.7 151.9L269.1 153.7M305.8 156.7L304.4 159.6"/>
<path fill="none" stroke="#ff3030" stroke-width="2.2" stroke-linecap="butt" d="M303.1 138.8L306.6 141.1M297.9 121.9L294.9 126.7M299.7 132.0L303.6 133.4M353.0 142.6L347.3 144.2M327.9 116.9L330.7 119.4M258.4 159.7L259.0 163.5M329.4 125.0L324.9 125.5M345.5 138.3L349.4 141.0M282.4 156.3L286.5 160.8M328.2 160.1L324.2 162.4M285.1 155.9L285.5 162.2M290.7 167.8L292.1 172.8M358.9 117.5L364.8 120.7M332.2 162.8L336.0 164.1M344.7 128.4L347.4 132.8M350.0 137.0L353.4 140.8M334.4 142.7L330.1 143.0M340.8 132.7L336.0 137.6M334.5 139.9L338.8 142.7M335.0 169.3L334.4 173.5M305.8 155.1L300.8 159.7M279.5 141.3L275.7 146.4M315.4 132.1L312.8 137.0M291.3 126.4L290.8 130.3M262.3 143.2L258.4 146.8M321.3 118.0L324.3 121.5"/>
<path fill="none" stroke="#f42020" stroke-width="2" stroke-linecap="butt" d="M271.7 139.1L275.8 144.4M356.5 142.5L354.1 144.6M353.4 131.0L357.7 132.7M296.1 161.7L301.8 165.1M345.2 136.6L349.1 140.5M317.3 118.0L320.6 122.7M338.0 130.7L343.1 134.9M318.9 135.4L323.2 139.4M337.6 157.4L331.9 159.1M262.9 165.2L260.0 168.3M273.0 146.4L272.7 152.2M299.2 167.2L292.9 170.5M271.1 129.7L268.1 130.1M306.2 161.1L309.6 164.1M280.3 126.4L279.0 131.9M302.8 119.3L297.9 119.4M305.9 146.4L299.4 147.4M259.5 170.0L257.6 173.3M322.3 164.1L326.4 165.1M276.4 165.1L276.3 170.5M336.4 171.9L343.0 174.0M333.6 150.8L332.3 155.0M324.0 153.9L328.1 156.8M303.8 166.5L299.8 169.2"/>
<path fill="none" stroke="#d00c0c" stroke-width="2" stroke-linecap="butt" d="M321.4 134.7L317.6 137.5M264.9 125.0L265.8 129.4M352.4 157.6L358.8 159.0M265.9 142.0L270.9 143.7M270.5 150.0L267.6 154.9M306.9 172.3L311.7 174.5M283.5 124.4L281.3 127.7M309.6 159.0L313.1 160.2M304.8 149.1L300.8 151.6M293.8 161.7L298.2 164.1M275.0 144.7L278.2 147.5M256.5 143.0L259.4 145.5M330.4 153.5L332.5 156.9M265.2 158.6L268.6 163.1M314.8 168.6L317.4 171.1M256.2 169.8L259.7 171.5M284.4 149.7L280.7 151.2M301.4 160.1L300.7 164.0M353.9 167.1L351.8 169.8M339.7 144.7L335.6 146.1M263.4 164.1L269.6 166.5M358.0 139.2L355.8 141.4M299.7 127.4L302.0 130.6M275.0 123.0L276.0 126.5M275.2 169.7L281.6 172.9M267.7 131.6L266.5 136.2M298.5 161.7L304.8 163.9M269.4 165.7L263.9 168.9M289.8 159.2L285.9 160.3M358.2 120.1L360.4 123.9M357.6 157.7L355.5 161.5M265.0 120.0L267.6 126.4M269.3 163.3L273.1 166.6M291.4 163.9L286.1 168.0"/>
<path fill="none" stroke="#d00c0c" stroke-width="1.8" stroke-linecap="butt" d="M344.1 119.4L339.1 121.4M272.0 126.5L269.4 128.8M308.8 143.6L313.5 145.7M343.6 127.3L340.9 132.7M312.0 162.5L311.5 166.6M292.9 143.8L295.9 145.1M357.5 150.9L364.5 151.0M342.6 122.4L342.3 128.1M287.0 123.9L284.0 129.7M268.2 173.1L274.5 174.3M292.1 134.0L289.1 136.9M345.2 163.9L349.9 166.1M343.6 139.0L340.1 140.0M344.3 135.0L338.9 135.3M309.6 169.4L310.6 176.2M345.1 119.4L342.1 122.7M327.3 137.8L329.3 144.4M262.1 120.0L265.3 120.3M296.2 152.1L294.4 155.1M291.4 133.4L285.9 134.5M319.2 118.4L319.1 124.5"/>
<path fill="none" stroke="#ff3030" stroke-width="2.4" stroke-linecap="butt" d="M300.7 167.4L299.5 172.2M305.1 148.5L302.7 151.3M276.8 171.1L282.3 172.5M311.3 137.4L312.8 142.9M310.7 144.8L309.2 148.2M325.7 140.5L322.4 142.1M290.6 129.3L294.9 129.5M316.7 140.9L310.4 142.1M329.2 170.9L332.8 175.0M320.6 115.6L324.8 119.9M296.1 165.7L298.4 169.3"/>
<path fill="none" stroke="#f42020" stroke-width="1.8" stroke-linecap="butt" d="M287.6 148.3L283.7 150.0M260.7 116.6L261.3 121.9M317.7 161.9L315.6 167.0M352.2 147.9L349.2 153.3M351.1 166.9L351.9 174.0M276.0 153.9L274.3 157.6M273.7 151.5L271.1 154.4M265.6 142.3L261.5 144.6M289.7 124.0L286.9 126.7M313.4 145.3L307.2 148.3M333.9 163.5L336.3 170.1M263.3 159.1L267.0 164.2M339.4 165.5L340.9 168.3M334.3 148.2L334.8 153.5M319.9 155.2L324.9 160.0M280.6 154.3L281.9 159.7M278.3 139.0L281.0 143.0M279.9 123.0L279.1 128.2M269.4 167.8L267.1 171.7M288.8 163.8L288.7 169.0M328.5 152.1L326.2 155.7M320.1 171.4L316.6 172.8M284.5 127.6L287.8 128.4M295.8 164.5L295.1 169.1M268.7 155.6L266.6 158.3M314.3 168.0L319.0 168.6M360.0 171.5L356.2 175.5M356.8 141.7L361.5 144.8"/>
<path fill="none" stroke="#c00808" stroke-width="1.6" stroke-linecap="butt" d="M321.8 118.2L327.3 120.8M295.3 134.8L289.4 138.4M261.5 170.4L259.5 174.3M273.0 170.1L277.4 171.8M307.4 120.9L301.8 122.3M336.9 131.5L333.0 135.6M284.1 122.8L284.6 127.2M314.9 132.1L319.2 132.4M356.5 139.6L354.4 143.6M321.7 149.5L327.0 152.9M349.5 138.6L353.7 141.3M339.1 117.7L343.4 123.1"/>
<path fill="none" stroke="#f42020" stroke-width="2.4" stroke-linecap="butt" d="M287.6 165.6L282.2 169.9M308.1 169.2L304.2 174.3M357.3 144.5L351.7 148.0M284.6 119.5L281.4 123.8M307.6 155.9L311.4 160.8M352.5 119.9L345.9 120.5M321.2 150.2L318.7 156.8M277.9 163.1L279.6 167.6M355.5 152.0L357.6 157.5M288.7 141.2L285.2 144.5M306.6 126.3L306.7 130.9M311.2 149.6L309.1 155.6M358.1 162.9L362.8 163.2M333.6 167.1L328.6 167.7"/>
<path fill="none" stroke="#ff3030" stroke-width="2" stroke-linecap="butt" d="M261.9 138.7L256.3 140.0M294.5 140.4L288.9 142.7M352.5 172.3L346.5 174.8M302.4 126.7L305.9 128.1M308.9 138.2L310.9 142.6M301.1 171.3L306.1 171.6M317.2 132.2L315.8 135.7M294.5 123.4L289.2 124.2M265.8 118.2L262.6 119.0M262.2 122.0L258.8 127.2M307.9 167.7L313.4 169.1M314.3 114.6L313.3 121.6M343.9 160.2L340.7 162.3M363.9 135.7L360.3 138.0M328.7 118.1L332.5 120.2M284.0 121.5L281.8 124.3M285.9 131.8L288.4 137.4M320.3 121.1L318.3 124.5M323.6 148.1L324.6 153.7M316.8 170.7L317.3 173.8M318.3 167.0L321.6 168.9M328.8 151.1L329.0 154.4M281.5 132.0L285.2 132.6M349.5 138.4L346.0 143.9M273.6 171.2L278.8 175.9M322.1 131.3L316.2 133.0M266.9 118.7L260.8 119.5M342.4 126.2L347.7 129.4M260.8 135.2L257.0 140.1"/>
<path fill="none" stroke="#d00c0c" stroke-width="2.4" stroke-linecap="butt" d="M359.4 125.1L354.0 127.6M320.2 135.6L319.9 139.0M355.4 160.7L353.1 166.1M294.5 151.4L295.3 154.6M322.0 115.1L324.9 120.6M261.6 161.6L264.7 164.4M290.0 160.5L286.9 160.6M310.8 120.5L310.1 124.2M281.3 168.5L285.8 170.1M296.7 155.3L300.7 156.1M325.7 134.6L329.2 137.8M328.6 119.4L322.0 120.3M306.0 123.7L312.2 123.8M329.4 120.2L327.2 126.7M310.8 163.7L305.9 168.1M306.6 118.1L302.4 122.5M330.5 121.2L325.9 123.3M303.1 133.2L307.2 135.6M329.6 155.7L327.9 159.4M322.5 138.8L327.1 140.3M345.8 132.5L343.3 138.4"/>
<path fill="none" stroke="#c00808" stroke-width="2.4" stroke-linecap="butt" d="M319.3 143.5L318.4 146.4M357.2 140.7L360.5 141.7M269.1 140.0L265.1 144.6M264.3 118.3L263.7 124.8M315.4 126.8L312.0 127.9M291.5 157.7L294.3 162.9M311.8 139.3L313.5 145.2M302.8 160.8L300.3 167.1M354.9 169.3L354.6 175.6M362.6 169.2L359.3 172.2M310.9 157.3L316.9 160.9M340.9 133.6L345.3 133.9"/>
<path fill="none" stroke="#f42020" stroke-width="1.6" stroke-linecap="butt" d="M347.8 126.0L352.2 127.8M317.7 140.7L312.9 145.9M344.9 131.1L343.5 135.6M265.5 164.5L268.4 170.5M316.5 116.7L313.3 119.3M330.9 154.0L333.3 160.4M329.0 123.1L325.6 126.8M336.5 125.7L340.4 128.7M271.7 150.2L271.3 155.3M332.1 170.5L326.7 173.1M317.0 154.6L321.5 159.5M316.1 152.4L320.7 154.6M324.6 172.2L322.4 174.9M288.1 161.5L294.2 163.1M301.3 126.3L295.5 128.1M352.7 140.4L349.3 142.8M263.6 161.6L262.6 165.3"/>
<path fill="none" stroke="#d00c0c" stroke-width="1.6" stroke-linecap="butt" d="M347.6 123.2L342.1 123.8M260.8 158.1L255.5 161.7M278.6 145.5L279.9 151.3M362.4 169.1L361.7 175.3M291.1 129.3L293.0 134.2"/>
<path fill="none" stroke="#e81414" stroke-width="2.4" stroke-linecap="butt" d="M358.4 121.3L352.6 123.0M263.8 160.6L263.2 165.5M342.7 138.0L336.2 139.7M286.8 160.8L285.1 165.8M337.7 134.2L330.9 135.9M299.6 139.3L300.8 143.9M303.6 162.7L300.0 163.5M307.3 167.8L310.1 174.4M303.1 140.0L300.7 144.6M325.0 150.9L318.9 151.7M287.3 172.8L294.1 174.0M302.8 162.3L300.0 164.2M360.4 156.3L354.1 158.2M323.4 141.9L322.4 148.5M307.0 150.2L309.0 155.3M279.3 137.4L275.9 141.8M281.6 150.0L284.3 152.3"/>
<path fill="none" stroke="#600000" stroke-opacity="0.75" stroke-width="0.8" stroke-linecap="butt" d="M362.0 141.4L358.9 145.2M316.4 153.9L319.9 156.9M333.6 167.1L330.6 170.0M331.6 132.9L331.8 135.8M352.9 142.4L355.3 147.0M329.8 124.0L325.0 125.3M288.0 146.8L286.9 150.3M263.4 155.1L267.3 155.5M262.4 151.1L257.3 153.3M290.5 152.8L292.9 153.4M272.1 139.7L275.3 143.8M353.5 146.4L354.4 149.6M321.1 135.0L318.0 137.3M307.4 117.4L309.0 120.2M297.6 122.3L295.2 126.2M312.2 123.6L317.6 124.5M343.6 119.6L339.6 121.2M360.2 121.3L362.4 124.2M355.3 122.0L358.1 125.5M356.3 142.7L354.4 144.4M271.7 126.8L269.7 128.6M293.2 137.9L295.4 139.5M341.9 168.4L346.7 170.8M335.5 135.2L333.1 137.7M300.1 132.2L303.2 133.3M260.8 117.2L261.3 121.4M291.3 122.6L292.3 124.8M325.7 126.5L329.0 131.0M320.8 160.2L316.0 160.3M265.0 125.5L265.7 128.9M341.9 152.7L338.8 155.9M305.3 149.5L302.7 152.5M261.4 138.8L256.9 139.9M302.7 153.6L306.4 155.1M290.8 128.6L286.5 129.1M327.2 145.5L331.4 145.8M301.5 137.5L299.2 140.1M309.8 150.4L314.5 151.8M360.1 134.3L358.6 138.5M275.8 118.6L274.7 122.1M353.9 131.2L357.2 132.6M358.5 122.9L358.2 127.1M312.8 162.0L315.4 165.1M353.0 157.7L358.1 158.9M283.6 142.4L283.3 145.0M296.6 162.0L301.3 164.8M266.4 142.2L270.4 143.5M352.1 144.1L350.8 147.0M345.6 137.0L348.7 140.2M319.0 118.3L316.4 120.6M309.3 143.8L313.0 145.5M309.8 161.1L310.8 164.3M305.3 123.7L304.5 127.0M289.5 160.7L292.8 164.5M296.1 130.9L296.5 135.4M317.6 118.4L320.3 122.2M294.0 140.7L289.5 142.5M270.5 126.6L272.0 130.6M351.9 172.5L347.1 174.5M302.8 126.9L305.6 128.0M352.4 142.7L347.9 144.0M330.1 156.8L326.8 161.1M289.8 128.6L286.8 131.4M299.0 118.0L303.7 119.2M338.6 131.1L342.6 134.4M355.3 132.9L358.3 134.3M270.1 117.0L267.6 118.5M311.9 162.9L311.5 166.2M301.6 168.2L296.5 168.8M319.3 135.8L322.8 139.0M286.6 131.5L286.1 135.0M270.2 150.4L267.9 154.4M351.9 148.4L349.5 152.8M355.1 126.8L350.8 130.2M307.4 172.5L311.2 174.3M337.0 157.6L332.4 159.0M283.3 124.8L281.5 127.4M351.1 167.6L351.8 173.3M323.9 137.3L324.0 143.0M265.0 151.8L263.9 156.5M346.1 156.8L343.7 157.3M309.1 138.6L310.7 142.2M262.6 165.6L260.3 168.0M343.2 154.0L348.2 155.3M272.4 120.6L276.4 124.1M271.4 142.0L273.1 146.1M286.8 130.9L290.0 132.0M309.9 159.1L312.8 160.1M329.0 125.1L325.3 125.4M266.9 125.2L263.3 126.5M301.6 171.4L305.6 171.6M304.4 149.3L301.2 151.3M305.2 139.3L308.8 140.6M324.2 119.5L326.2 122.6M317.1 132.6L316.0 135.3M294.3 161.9L297.8 163.8M266.4 141.7L266.7 145.1M266.4 148.5L263.4 152.7M275.1 152.3L275.0 154.8M277.7 173.2L280.7 173.8M273.0 147.0L272.7 151.7M345.9 138.6L349.0 140.7M280.1 158.3L282.2 161.1M298.6 167.5L293.6 170.2M275.3 145.0L277.8 147.3M293.9 123.5L289.7 124.1M341.1 163.8L335.8 163.9M261.9 162.4L265.7 162.8M319.7 146.5L317.8 149.9M319.1 152.9L318.9 156.5M273.5 151.8L271.4 154.1M256.8 143.2L259.1 145.2M330.6 153.8L332.3 156.6M302.4 162.0L306.7 164.1M284.3 150.7L283.5 155.1M285.3 120.0L282.8 124.8M265.4 118.3L262.9 118.9M283.8 144.8L285.6 147.9M278.6 135.0L274.9 137.5M262.2 133.7L260.0 136.7M270.8 129.7L268.4 130.0M261.9 122.6L259.1 126.6M359.2 119.3L357.4 121.3M336.0 170.8L338.3 173.5M342.6 171.0L346.8 174.4M289.2 147.9L284.9 150.3M308.4 167.8L312.9 168.9M257.7 164.8L255.8 170.2M314.2 115.3L313.4 120.9M320.0 165.0L322.0 167.6M325.7 130.5L320.5 130.6M265.2 142.5L261.9 144.4M318.2 126.2L315.6 129.7M343.6 160.4L341.0 162.1M294.8 123.1L297.9 127.2M308.9 134.4L312.5 138.7M258.7 157.1L254.9 158.0M358.9 164.0L355.9 165.0M332.0 159.1L334.2 161.3M332.2 167.9L333.6 170.4M312.8 145.6L307.8 148.0M272.1 164.9L269.2 168.7M334.2 164.1L336.1 169.4M348.7 144.4L350.3 148.5M263.6 159.6L266.6 163.7M358.2 162.3L361.2 163.8M293.8 165.1L290.7 165.4M306.5 161.4L309.3 163.8M293.2 143.9L295.6 144.9M280.2 127.0L279.1 131.3M313.7 153.2L314.8 155.9M305.3 167.5L307.2 170.8M269.1 151.5L266.5 151.8M271.4 121.3L267.6 123.7M272.8 152.5L274.9 154.1M363.5 135.9L360.7 137.7M302.3 119.3L298.4 119.4M267.0 153.2L263.1 153.9M343.6 161.2L345.2 164.7M305.3 146.5L300.1 147.3M316.2 135.0L313.3 136.5M350.6 128.9L353.6 128.9M308.5 152.4L309.6 155.3M342.6 123.0L342.3 127.5M290.8 168.3L292.0 172.3M282.1 123.0L282.3 126.4M326.8 147.1L328.4 150.2M265.5 159.0L268.2 162.6M312.2 135.3L314.1 139.3M339.5 165.8L340.7 168.0M315.0 168.8L317.1 170.9M293.8 148.2L291.6 150.1M259.3 170.4L257.8 172.9M313.8 122.9L319.5 123.2M341.2 125.9L338.6 128.2M327.0 152.4L328.8 155.1M299.3 138.5L301.7 143.2M270.2 140.8L273.2 141.7M358.2 117.5L353.0 118.3M256.6 170.0L259.3 171.3M326.0 164.9L330.3 168.4M329.1 118.4L332.1 120.0M330.9 149.1L328.2 150.8M334.3 148.7L334.8 152.9M284.0 149.9L281.0 151.1M283.8 121.8L282.0 124.0M286.1 132.3L288.1 136.8M340.7 117.9L335.8 119.0M320.1 121.5L318.5 124.2M361.3 123.0L362.1 125.9M348.9 159.2L349.7 163.1M323.0 154.8L325.5 158.6M309.7 165.8L311.7 168.0M271.7 132.6L273.7 134.3M301.3 160.5L300.8 163.6M320.4 155.7L324.4 159.5M287.4 156.3L291.3 159.3M353.7 167.4L352.0 169.5M332.6 162.9L335.6 164.0M260.1 122.4L260.1 126.7M339.3 144.9L336.0 146.0M291.8 134.3L289.4 136.6M322.7 164.2L326.0 165.0M347.7 135.9L351.4 138.1M340.7 132.3L343.0 133.8M324.0 138.6L324.3 143.0M280.7 154.9L281.8 159.1M329.3 137.3L327.1 140.8M278.6 139.4L280.7 142.6M318.8 141.3L317.3 143.3M357.3 134.9L360.1 136.2M275.5 166.9L279.9 168.7M345.7 164.2L349.4 165.9M310.2 169.2L304.7 170.0M359.7 133.9L361.9 136.3M343.3 139.1L340.5 139.9M323.7 148.6L324.5 153.2M286.6 163.3L288.1 165.5M264.0 164.4L268.9 166.3M306.7 132.1L306.0 137.6M338.9 172.1L335.7 172.2M261.6 151.7L257.3 151.8M318.6 128.1L322.0 129.7M346.2 160.8L349.1 161.3M326.2 131.9L331.1 134.0M316.8 171.0L317.3 173.5M357.8 139.4L356.0 141.2M328.0 118.7L330.2 123.6M315.0 153.3L310.8 155.5M320.4 137.0L318.0 141.9M334.2 143.3L337.6 143.7M299.9 127.7L301.8 130.2M288.7 162.3L285.4 163.2M351.3 170.3L348.6 171.1M318.6 167.2L321.3 168.7M313.3 122.6L308.1 123.6M260.4 142.2L264.6 144.4M275.1 123.3L275.9 126.1M264.2 130.1L263.5 134.8M318.7 143.1L321.1 145.8M267.9 135.1L266.9 139.7M282.3 120.0L282.9 123.4M275.8 170.0L280.9 172.5M350.4 137.4L353.1 140.4M260.6 153.9L255.3 154.2M304.3 161.2L299.8 163.2M334.0 142.7L330.6 142.9M328.8 151.5L328.9 154.1M314.5 121.1L317.3 124.0M281.9 132.1L284.9 132.6M267.6 132.1L266.7 135.8M349.1 139.0L346.4 143.3M332.1 143.0L335.7 144.6M275.1 171.5L277.6 172.5M300.6 133.4L305.0 135.5M329.6 118.3L326.7 119.3M340.3 133.2L336.5 137.1M344.8 119.7L342.4 122.4M299.1 161.9L304.2 163.7M334.9 140.1L338.4 142.4M274.2 171.7L278.3 175.4M335.4 132.0L338.1 132.6M321.5 131.4L316.8 132.8M343.2 118.7L342.7 121.3M268.9 166.0L264.4 168.6M356.6 119.4L360.0 123.6M289.4 159.3L286.3 160.2M347.4 143.8L342.4 144.7M269.1 168.2L267.3 171.3M320.0 131.4L321.8 134.0M321.4 127.9L323.2 130.7M288.7 164.3L288.7 168.5M335.0 169.7L334.5 173.1M307.7 119.7L308.8 122.9M344.8 131.9L340.7 134.0M327.5 138.4L329.1 143.8M358.4 120.5L360.2 123.5M297.7 131.2L300.4 132.9M265.4 129.2L271.1 129.8M272.9 136.7L270.4 140.0M357.4 158.1L355.7 161.1M305.3 155.6L301.3 159.2M313.1 127.0L316.9 128.0M276.4 165.6L276.3 170.0M297.5 135.1L294.2 139.2M270.6 153.4L270.4 158.3M279.1 141.8L276.1 145.9M334.9 153.1L330.8 154.7M318.9 122.9L315.7 125.4M262.4 120.1L265.0 120.3M260.1 122.5L258.8 124.9M275.8 159.9L278.8 161.0M319.8 171.5L316.9 172.7M358.9 124.4L355.7 125.7M284.9 127.6L287.4 128.4M263.3 137.9L258.7 140.4M295.8 165.0L295.2 168.7M312.2 141.3L315.6 142.7M266.3 118.8L261.5 119.4M306.6 139.5L306.3 143.6M296.0 152.4L294.6 154.8M337.1 172.1L342.3 173.8M268.5 155.9L266.8 158.0M336.7 164.2L338.1 166.6M363.0 133.8L362.2 137.1M309.3 139.1L306.1 140.5M290.9 133.6L286.5 134.4M333.4 151.2L332.4 154.6M310.0 122.6L311.1 125.3M329.3 165.9L328.0 170.9M319.9 160.6L314.9 162.6M314.8 168.0L318.5 168.5M295.0 122.0L290.5 122.4M309.3 119.0L311.0 122.6M315.1 132.6L313.1 136.5M270.3 148.4L266.6 149.6M350.0 151.0L349.1 154.4M315.6 123.4L310.5 125.5M327.0 153.9L323.2 154.3M334.9 118.8L329.5 119.9M289.8 119.1L294.5 121.5M291.3 139.5L287.6 140.0M265.3 120.7L267.3 125.8M309.6 128.5L307.9 131.9M264.2 158.5L267.4 158.9M358.4 131.8L359.7 136.7M324.4 154.2L327.7 156.5M348.7 143.0L352.2 145.1M332.8 130.1L328.7 131.8M291.2 126.8L290.9 129.9M284.3 118.5L281.9 119.5M269.7 163.6L272.7 166.3M281.6 135.2L279.5 138.7M258.8 128.1L258.2 133.7M310.0 148.3L306.5 148.6M303.4 166.8L300.2 168.9M303.3 133.5L298.7 135.5M349.7 172.1L344.1 173.3M275.3 142.1L276.7 144.3M342.9 126.5L347.2 129.1M319.2 119.0L319.1 123.9M356.4 168.3L360.4 171.6M308.6 145.9L305.6 146.1M348.9 142.2L353.4 143.5M273.8 132.1L273.7 134.9M290.9 164.3L286.7 167.6M298.5 127.4L301.6 128.7M355.5 135.9L359.9 138.4M321.6 118.3L324.0 121.2M265.7 162.2L267.7 164.5M271.5 163.6L272.5 166.7M260.4 135.7L257.4 139.6M357.3 142.0L361.0 144.5"/>
<path fill="none" stroke="#600000" stroke-opacity="0.75" stroke-width="1" stroke-linecap="butt" d="M354.3 157.4L352.5 160.9M359.2 154.9L358.1 158.1M297.8 149.9L293.4 150.6M352.2 126.5L349.6 128.7M303.5 139.1L306.3 140.8M300.6 167.9L299.6 171.7M287.0 166.0L282.8 169.5M283.2 171.6L280.2 175.9M284.2 158.5L287.1 158.6M358.9 125.3L354.5 127.4M278.9 167.5L283.6 168.0M354.7 157.8L351.2 159.7M319.2 143.8L318.5 146.1M320.1 136.0L319.9 138.7M355.2 161.2L353.3 165.6M294.6 151.7L295.2 154.3M304.9 148.8L302.9 151.0M277.4 171.3L281.7 172.3M357.5 140.8L360.2 141.6M328.2 117.1L330.4 119.1M258.4 160.1L258.9 163.1M357.8 121.5L353.1 122.8M263.8 161.1L263.2 165.0M268.7 140.4L265.5 144.1M322.3 115.6L324.6 120.0M333.5 147.4L329.2 148.6M342.0 138.1L336.9 139.5M262.0 161.9L264.4 164.1M289.7 160.5L287.3 160.6M311.5 137.9L312.6 142.3M307.7 169.7L304.6 173.7M321.6 132.2L326.2 134.6M356.8 144.9L352.3 147.7M282.8 156.7L286.1 160.4M327.8 160.4L324.6 162.1M310.7 120.9L310.2 123.8M266.8 128.4L267.7 131.1M281.7 168.7L285.4 169.9M285.2 156.5L285.5 161.6M286.6 161.3L285.3 165.3M297.1 155.4L300.3 156.0M310.9 170.5L310.4 174.2M310.6 145.1L309.4 147.8M326.0 134.9L328.9 137.5M264.2 118.9L263.8 124.1M284.3 119.9L281.7 123.4M308.0 156.4L311.0 160.3M359.5 117.8L364.2 120.4M351.9 119.9L346.5 120.4M351.5 162.4L349.8 167.1M325.4 140.7L322.7 141.9M320.9 150.8L318.9 156.1M266.7 166.1L268.7 169.6M315.1 126.9L312.4 127.8M328.0 119.5L322.7 120.2M291.7 158.2L294.0 162.4M278.1 163.5L279.4 167.1M312.0 139.9L313.3 144.6M345.0 128.9L347.1 132.3M291.0 129.3L294.4 129.5M316.1 141.0L311.0 141.9M340.4 163.0L342.3 165.1M331.0 168.7L335.6 170.3M337.0 134.4L331.6 135.7M320.7 145.2L321.1 150.6M299.7 139.8L300.6 143.5M303.2 162.8L300.4 163.4M355.7 152.6L357.4 156.9M313.2 149.8L308.2 150.1M302.6 161.4L300.5 166.5M257.8 119.0L262.3 120.9M296.0 127.1L294.0 128.5M306.6 123.7L311.6 123.8M286.7 146.7L289.9 150.1M329.2 120.9L327.4 126.1M260.2 127.5L262.7 132.6M342.0 130.0L341.5 132.4M329.6 171.3L332.5 174.6M354.9 169.9L354.6 175.0M295.3 172.5L297.6 174.0M310.3 164.2L306.4 167.6M288.3 141.5L285.6 144.1M307.6 168.5L309.8 173.7M306.2 118.5L302.8 122.1M330.0 121.4L326.3 123.1M306.6 126.8L306.7 130.5M362.3 169.5L359.7 171.9M311.5 157.6L316.3 160.5M293.1 142.6L290.8 146.5M302.8 140.5L300.9 144.1M324.4 151.0L319.5 151.6M303.5 133.4L306.8 135.3M311.0 150.2L309.3 155.0M288.0 172.9L293.5 173.9M329.4 156.0L328.1 159.1M271.2 148.8L274.4 151.5M302.5 162.5L300.3 164.0M341.3 133.6L344.8 133.8M321.1 116.1L324.4 119.5M359.8 156.5L354.7 158.0M323.3 142.6L322.5 147.8M358.6 162.9L362.3 163.2M310.9 166.7L311.9 169.6M330.2 162.5L327.1 162.5M360.9 154.8L363.4 156.6M261.9 143.6L258.8 146.4M323.0 139.0L326.6 140.2M333.1 167.1L329.1 167.6M345.5 133.1L343.5 137.8M307.2 150.7L308.8 154.8M279.0 137.9L276.2 141.4M281.9 150.2L284.0 152.1M296.3 166.1L298.2 168.9"/>
<path fill="none" stroke="#600000" stroke-opacity="0.75" stroke-width="0.6" stroke-linecap="butt" d="M267.0 120.6L271.0 124.0M314.8 147.9L313.6 150.9M329.7 133.9L326.8 138.3M304.1 170.3L303.1 174.9M287.2 148.5L284.0 149.9M322.3 118.4L326.8 120.6M329.2 172.9L332.1 174.6M277.5 157.1L281.7 157.4M294.7 135.1L290.0 138.1M266.9 155.2L268.0 159.5M340.1 153.9L337.0 158.6M348.3 126.2L351.7 127.6M347.1 123.2L342.7 123.7M259.8 146.1L258.9 149.6M358.6 169.3L359.1 172.2M343.3 127.8L341.2 132.1M262.6 151.0L261.3 153.4M317.2 141.2L313.3 145.3M344.7 131.5L343.6 135.1M261.3 170.8L259.7 173.9M273.4 170.3L276.9 171.7M317.5 162.4L315.8 166.5M260.3 158.5L256.1 161.3M357.5 165.6L361.1 166.5M275.8 154.2L274.5 157.2M265.8 165.1L268.1 169.9M316.2 117.0L313.6 119.0M295.5 131.3L291.6 134.2M274.1 148.7L270.8 151.5M352.9 118.8L350.0 121.9M306.8 121.1L302.3 122.2M331.1 154.7L333.1 159.8M328.7 123.5L326.0 126.4M289.4 124.3L287.1 126.5M267.4 132.7L270.4 135.6M340.1 128.7L342.4 130.6M336.9 126.0L340.0 128.4M358.2 150.9L363.8 151.0M271.7 150.7L271.4 154.8M336.5 131.9L333.4 135.2M355.0 130.2L359.3 133.0M270.7 166.0L276.2 167.2M284.2 123.3L284.6 126.8M309.0 127.9L308.2 132.8M331.6 170.8L327.2 172.9M336.9 119.2L331.6 120.4M315.3 132.1L318.7 132.3M278.7 146.1L279.8 150.7M325.8 142.4L327.1 146.7M356.3 140.0L354.7 143.2M362.4 169.7L361.8 174.7M351.0 121.2L353.0 124.8M286.7 124.5L284.3 129.1M317.5 155.1L321.1 159.0M292.7 130.0L293.3 132.9M322.2 149.8L326.4 152.5M268.8 173.2L273.8 174.2M323.3 128.0L327.6 130.4M272.9 148.3L274.7 150.1M316.5 152.6L320.2 154.4M293.8 151.1L290.3 154.4M348.5 159.6L353.8 161.1M279.8 123.5L279.2 127.7M343.8 135.0L339.5 135.3M269.7 125.8L265.1 125.9M324.4 172.5L322.7 174.6M309.7 170.0L310.5 175.5M357.6 123.5L363.0 124.0M272.1 172.3L273.0 175.0M339.1 159.2L336.4 161.4M362.9 122.3L362.4 127.0M355.5 143.1L354.7 146.7M320.8 128.8L316.8 130.4M358.2 170.5L361.8 172.5M349.9 138.9L353.3 141.0M339.5 163.6L337.5 165.4M341.1 149.8L341.7 153.6M328.2 152.5L326.4 155.3M288.7 161.6L293.6 162.9M357.7 127.1L355.9 129.9M281.5 161.0L278.9 161.5M263.0 138.6L265.2 141.9M300.7 126.5L296.1 127.9M339.5 118.3L343.0 122.6M327.5 170.4L322.9 171.9M362.4 137.5L359.3 141.7M271.4 152.1L269.3 153.5M291.3 129.8L292.8 133.7M262.9 115.8L264.6 119.8M352.3 140.6L349.6 142.6M344.7 125.1L344.2 127.7M359.6 171.9L356.6 175.1M263.5 161.9L262.7 164.9M305.6 157.0L304.5 159.3"/>
</g>
<rect x="263.2" y="124.6" width="46.6" height="8.8" fill="#8e9ab0" />
<text x="263.9" y="132" font-size="8.4" font-weight="bold" fill="#fff" text-anchor="start" font-family='"Liberation Sans", sans-serif' >Nitride 1113</text>
<rect x="332.4" y="165.2" width="21.8" height="2.3" fill="#fff" />
<text x="364.7" y="14" font-size="10" font-weight="bold" fill="#000" text-anchor="start" font-family='"Liberation Sans", sans-serif' >b</text>
<rect x="385.8" y="16.8" width="297" height="155" fill="#000" />
<rect x="414.6" y="31.2" width="83.4" height="123.8" fill="none" stroke="#e8e8e8" stroke-width="0.8" stroke-dasharray="2.4,1.6"/>
<rect x="501.3" y="31.2" width="86.9" height="123.8" fill="none" stroke="#e8e8e8" stroke-width="0.8" stroke-dasharray="2.4,1.6"/>
<rect x="590.4" y="31.2" width="84.1" height="123.8" fill="none" stroke="#e8e8e8" stroke-width="0.8" stroke-dasharray="2.4,1.6"/>
<text x="419.6" y="52.7" font-size="8.2" font-weight="bold" fill="#fff" text-anchor="start" font-family='"Liberation Sans", sans-serif' >front</text>
<text x="507.3" y="52.7" font-size="8.2" font-weight="bold" fill="#fff" text-anchor="start" font-family='"Liberation Sans", sans-serif' >front</text>
<text x="594.8" y="52.7" font-size="8.2" font-weight="bold" fill="#fff" text-anchor="start" font-family='"Liberation Sans", sans-serif' >front</text>
<text x="460.1" y="52.7" font-size="8.2" font-weight="bold" fill="#fff" text-anchor="start" font-family='"Liberation Sans", sans-serif' >back</text>
<text x="547.5" y="52.7" font-size="8.2" font-weight="bold" fill="#fff" text-anchor="start" font-family='"Liberation Sans", sans-serif' >back</text>
<text x="634.4" y="52.7" font-size="8.2" font-weight="bold" fill="#fff" text-anchor="start" font-family='"Liberation Sans", sans-serif' >back</text>
<text x="400.6" y="69.2" font-size="8.2" font-weight="bold" fill="#fff" text-anchor="middle" font-family='"Liberation Sans", sans-serif' >0%</text>
<text x="400.6" y="97.3" font-size="8.2" font-weight="bold" fill="#fff" text-anchor="middle" font-family='"Liberation Sans", sans-serif' >40%</text>
<text x="400.6" y="126.5" font-size="8.2" font-weight="bold" fill="#fff" text-anchor="middle" font-family='"Liberation Sans", sans-serif' >80%</text>
<text x="456.5" y="146.6" font-size="8.2" font-weight="bold" fill="#f0ea10" text-anchor="middle" font-family='"Liberation Sans", sans-serif' >Yellow</text>
<text x="544.4" y="146.6" font-size="8.2" font-weight="bold" fill="#1fae4c" text-anchor="middle" font-family='"Liberation Sans", sans-serif' >Green</text>
<text x="631.2" y="146.6" font-size="8.2" font-weight="bold" fill="#ff1e1e" text-anchor="middle" font-family='"Liberation Sans", sans-serif' >Red</text>
<rect x="418.2" y="61.8" width="22.3" height="11.9" fill="#3ee08c" fill-opacity="0.25"/>
<rect x="418.8" y="62.4" width="21.1" height="10.7" fill="url(#s418_62)" />
<rect x="459.8" y="61.8" width="22" height="12.4" fill="#2de0c6" fill-opacity="0.25"/>
<rect x="460.4" y="62.4" width="20.8" height="11.2" fill="url(#s460_62)" />
<rect x="418.2" y="90" width="30.1" height="10.7" fill="#44dc74" fill-opacity="0.25"/>
<rect x="418.8" y="90.6" width="28.9" height="9.5" fill="url(#s418_90)" />
<rect x="459.8" y="90.3" width="30.8" height="11.7" fill="#22dac6" fill-opacity="0.25"/>
<rect x="460.4" y="90.9" width="29.6" height="10.5" fill="url(#s460_90)" />
<rect x="418.2" y="120.2" width="38.8" height="9.5" fill="#4ccc4c" fill-opacity="0.25"/>
<rect x="418.8" y="120.8" width="37.6" height="8.3" fill="url(#s418_120)" />
<rect x="459.8" y="119.8" width="39.1" height="10.8" fill="#1ccfbf" fill-opacity="0.25"/>
<rect x="460.4" y="120.4" width="37.9" height="9.6" fill="url(#s460_120)" />
<rect x="506.4" y="60.6" width="22.2" height="13.4" fill="#30e0a4" fill-opacity="0.25"/>
<rect x="507" y="61.2" width="21" height="12.2" fill="url(#s507_61)" />
<rect x="547.6" y="60.8" width="21.9" height="13.9" fill="#26dcc8" fill-opacity="0.25"/>
<rect x="548.2" y="61.4" width="20.7" height="12.7" fill="url(#s548_61)" />
<rect x="506.4" y="89.1" width="30.2" height="12.6" fill="#2cdc9e" fill-opacity="0.25"/>
<rect x="507" y="89.7" width="29" height="11.4" fill="url(#s507_89)" />
<rect x="547.6" y="88.8" width="30.4" height="13.2" fill="#24d8c6" fill-opacity="0.25"/>
<rect x="548.2" y="89.4" width="29.2" height="12" fill="url(#s548_89)" />
<rect x="506.4" y="119.2" width="38.7" height="11.7" fill="#2cd498" fill-opacity="0.25"/>
<rect x="507" y="119.8" width="37.5" height="10.5" fill="url(#s507_119)" />
<rect x="547.6" y="118.7" width="39.1" height="12.5" fill="#1ecac0" fill-opacity="0.25"/>
<rect x="548.2" y="119.3" width="37.9" height="11.3" fill="url(#s548_119)" />
<rect x="592.4" y="61.2" width="22.2" height="13.8" fill="#ff7060" fill-opacity="0.25"/>
<rect x="593" y="61.8" width="21" height="12.6" fill="url(#s593_61)" />
<rect x="632.7" y="61.1" width="21.9" height="13.6" fill="#2ed8d4" fill-opacity="0.25"/>
<rect x="633.3" y="61.7" width="20.7" height="12.4" fill="url(#s633_61)" />
<rect x="592.4" y="89.5" width="30.2" height="12.6" fill="#f08c7c" fill-opacity="0.25"/>
<rect x="593" y="90.1" width="29" height="11.4" fill="url(#s593_90)" />
<rect x="632.7" y="89.5" width="30.5" height="12.9" fill="#28d4d0" fill-opacity="0.25"/>
<rect x="633.3" y="90.1" width="29.3" height="11.7" fill="url(#s633_90)" />
<rect x="592.4" y="119.2" width="39.2" height="12.1" fill="#e08c84" fill-opacity="0.25"/>
<rect x="593" y="119.8" width="38" height="10.9" fill="url(#s593_119)" />
<rect x="632.7" y="119.4" width="38.9" height="11.5" fill="#22cccc" fill-opacity="0.25"/>
<rect x="633.3" y="120" width="37.7" height="10.3" fill="url(#s633_120)" />
<rect x="652.3" y="164.8" width="20.5" height="2.4" fill="#fff" />
<rect x="36.9" y="199.3" width="175.3" height="141.7" fill="none" stroke="#1a1a1a" stroke-width="1.1"/>
<polyline points="46.4,324.56 46.9,324.39 47.4,324.19 47.9,323.96 48.4,323.7 48.9,323.41 49.4,323.08 49.9,322.71 50.4,322.3 50.9,321.84 51.4,321.33 51.9,320.77 52.4,320.16 52.9,319.48 53.4,318.74 53.9,317.94 54.4,317.07 54.9,316.13 55.4,315.12 55.9,314.04 56.4,312.88 56.9,311.64 57.4,310.33 57.9,308.94 58.4,307.48 58.9,305.95 59.4,304.35 59.9,302.67 60.4,300.94 60.9,299.14 61.4,297.29 61.9,295.38 62.4,293.43 62.9,291.44 63.4,289.42 63.9,287.37 64.4,285.31 64.9,283.24 65.4,281.16 65.9,279.09 66.4,277.03 66.9,275 67.4,273 67.9,271.04 68.4,269.12 68.9,267.26 69.4,265.45 69.9,263.72 70.4,262.06 70.9,260.48 71.4,258.98 71.9,257.57 72.4,256.25 72.9,255.03 73.4,253.9 73.9,252.87 74.4,251.94 74.9,251.1 75.4,250.37 75.9,249.72 76.4,249.17 76.9,248.71 77.4,248.34 77.9,248.04 78.4,247.82 78.9,247.66 79.4,247.56 79.9,247.51 80.4,247.5 80.9,247.56 81.4,247.79 81.9,248.18 82.4,248.71 82.9,249.37 83.4,250.17 83.9,251.09 84.4,252.13 84.9,253.28 85.4,254.53 85.9,255.87 86.4,257.31 86.9,258.82 87.4,260.41 87.9,262.07 88.4,263.78 88.9,265.54 89.4,267.34 89.9,269.18 90.4,271.05 90.9,272.94 91.4,274.84 91.9,276.75 92.4,278.65 92.9,280.56 93.4,282.45 93.9,284.33 94.4,286.18 94.9,288.01 95.4,289.81 95.9,291.57 96.4,293.29 96.9,294.98 97.4,296.62 97.9,298.21 98.4,299.75 98.9,301.24 99.4,302.68 99.9,304.06 100.4,305.4 100.9,306.67 101.4,307.89 101.9,309.06 102.4,310.17 102.9,311.23 103.4,312.24 103.9,313.19 104.4,314.09 104.9,314.94 105.4,315.74 105.9,316.5 106.4,317.21 106.9,317.87 107.4,318.5 107.9,319.08 108.4,319.62 108.9,320.12 109.4,320.59 109.9,321.03 110.4,321.43 110.9,321.81 111.4,322.15 111.9,322.47 112.4,322.76 112.9,323.03 113.4,323.28 113.9,323.5 114.4,323.71 114.9,323.9 115.4,324.07 115.9,324.22 116.4,324.37 116.9,324.5 117.4,324.61 117.9,324.72 118.4,324.81 118.9,324.9 119.4,324.98 119.9,325.05 120.4,325.11 120.9,325.17 121.4,325.22 121.9,325.26 122.4,325.3 122.9,325.34 123.4,325.37 123.9,325.4 124.4,325.42 124.9,325.44 125.4,325.46 125.9,325.48 126.4,325.5 126.9,325.51 127.4,325.52 127.9,325.53 128.4,325.54 128.9,325.55 129.4,325.56 129.9,325.56 130.4,325.57 130.9,325.57 131.4,325.58 131.9,325.58 132.4,325.58 132.9,325.58 133.4,325.59 133.9,325.59 134.4,325.59 134.9,325.59 135.4,325.59 135.9,325.59 136.4,325.59 136.9,325.6 137.4,325.6 137.9,325.6 138.4,325.6 138.9,325.6 139.4,325.6 139.9,325.6 140.4,325.6 140.9,325.6 141.4,325.6 141.9,325.6 142.4,325.6 142.9,325.6 143.4,325.6 143.9,325.6 144.4,325.6 144.9,325.6 145.4,325.6 145.9,325.6 146.4,325.6 146.9,325.6 147.4,325.6 147.9,325.6 148.4,325.6 148.9,325.6 149.4,325.6 149.9,325.6 150.4,325.6 150.9,325.6 151.4,325.6 151.9,325.6 152.4,325.6 152.9,325.6 153.4,325.6 153.9,325.6 154.4,325.6 154.9,325.6 155.4,325.6 155.9,325.6 156.4,325.6 156.9,325.6 157.4,325.6 157.9,325.6 158.4,325.6 158.9,325.6 159.4,325.6 159.9,325.6" fill="none" stroke="#2d8fd8" stroke-width="1.3" stroke-linejoin="round" stroke-dasharray="3.0,1.9"/>
<polyline points="68.2,322.59 68.7,321.68 69.2,320.59 69.7,319.3 70.2,317.77 70.7,316.01 71.2,314 71.7,311.73 72.2,309.2 72.7,306.43 73.2,303.42 73.7,300.21 74.2,296.81 74.7,293.27 75.2,289.62 75.7,285.9 76.2,282.18 76.7,278.48 77.2,274.86 77.7,271.36 78.2,268.03 78.7,264.9 79.2,262 79.7,259.36 80.2,257 80.7,254.92 81.2,253.13 81.7,251.62 82.2,250.38 82.7,249.41 83.2,248.67 83.7,248.15 84.2,247.8 84.7,247.61 85.2,247.52 85.7,247.5 86.2,247.51 86.7,247.58 87.2,247.69 87.7,247.86 88.2,248.08 88.7,248.36 89.2,248.68 89.7,249.06 90.2,249.5 90.7,249.98 91.2,250.52 91.7,251.1 92.2,251.74 92.7,252.42 93.2,253.15 93.7,253.93 94.2,254.75 94.7,255.62 95.2,256.52 95.7,257.47 96.2,258.45 96.7,259.46 97.2,260.52 97.7,261.6 98.2,262.71 98.7,263.85 99.2,265.02 99.7,266.2 100.2,267.41 100.7,268.64 101.2,269.89 101.7,271.15 102.2,272.42 102.7,273.7 103.2,275 103.7,276.29 104.2,277.59 104.7,278.9 105.2,280.2 105.7,281.5 106.2,282.8 106.7,284.09 107.2,285.37 107.7,286.65 108.2,287.91 108.7,289.17 109.2,290.4 109.7,291.63 110.2,292.83 110.7,294.02 111.2,295.19 111.7,296.34 112.2,297.47 112.7,298.58 113.2,299.66 113.7,300.73 114.2,301.76 114.7,302.77 115.2,303.76 115.7,304.72 116.2,305.66 116.7,306.57 117.2,307.45 117.7,308.3 118.2,309.13 118.7,309.94 119.2,310.71 119.7,311.46 120.2,312.18 120.7,312.88 121.2,313.55 121.7,314.2 122.2,314.82 122.7,315.41 123.2,315.98 123.7,316.53 124.2,317.05 124.7,317.55 125.2,318.03 125.7,318.49 126.2,318.92 126.7,319.34 127.2,319.73 127.7,320.1 128.2,320.46 128.7,320.8 129.2,321.12 129.7,321.42 130.2,321.71 130.7,321.98 131.2,322.24 131.7,322.48 132.2,322.7 132.7,322.92 133.2,323.12 133.7,323.31 134.2,323.49 134.7,323.66 135.2,323.81 135.7,323.96 136.2,324.1 136.7,324.22 137.2,324.34 137.7,324.46 138.2,324.56 138.7,324.66 139.2,324.75 139.7,324.83 140.2,324.91 140.7,324.98 141.2,325.05 141.7,325.11 142.2,325.17 142.7,325.22 143.2,325.27 143.7,325.32 144.2,325.36 144.7,325.4 145.2,325.43 145.7,325.46 146.2,325.49 146.7,325.52 147.2,325.55 147.7,325.57 148.2,325.59 148.7,325.61 149.2,325.63 149.7,325.65 150.2,325.66 150.7,325.67 151.2,325.69 151.7,325.7 152.2,325.71 152.7,325.72 153.2,325.72 153.7,325.73 154.2,325.74 154.7,325.75 155.2,325.75 155.7,325.76 156.2,325.76 156.7,325.76 157.2,325.77 157.7,325.77 158.2,325.77 158.7,325.78 159.2,325.78 159.7,325.78 160.2,325.78 160.7,325.79 161.2,325.79 161.7,325.79 162.2,325.79 162.7,325.79 163.2,325.79 163.7,325.79 164.2,325.79 164.7,325.79 165.2,325.8 165.7,325.8 166.2,325.8 166.7,325.8 167.2,325.8 167.7,325.8" fill="none" stroke="#86cc3c" stroke-width="1.3" stroke-linejoin="round" stroke-dasharray="3.0,1.9"/>
<polyline points="78.3,323.28 78.8,322.56 79.3,321.68 79.8,320.62 80.3,319.37 80.8,317.9 81.3,316.21 81.8,314.29 82.3,312.12 82.8,309.71 83.3,307.07 83.8,304.2 84.3,301.13 84.8,297.88 85.3,294.48 85.8,290.96 86.3,287.37 86.8,283.75 87.3,280.14 87.8,276.58 88.3,273.12 88.8,269.8 89.3,266.65 89.8,263.7 90.3,260.98 90.8,258.51 91.3,256.3 91.8,254.37 92.3,252.7 92.8,251.3 93.3,250.16 93.8,249.26 94.3,248.58 94.8,248.1 95.3,247.78 95.8,247.6 96.3,247.52 96.8,247.5 97.3,247.52 97.8,247.58 98.3,247.68 98.8,247.84 99.3,248.04 99.8,248.29 100.3,248.58 100.8,248.92 101.3,249.3 101.8,249.73 102.3,250.2 102.8,250.71 103.3,251.27 103.8,251.86 104.3,252.49 104.8,253.17 105.3,253.87 105.8,254.62 106.3,255.4 106.8,256.21 107.3,257.06 107.8,257.93 108.3,258.84 108.8,259.77 109.3,260.73 109.8,261.71 110.3,262.72 110.8,263.74 111.3,264.79 111.8,265.86 112.3,266.94 112.8,268.04 113.3,269.15 113.8,270.27 114.3,271.41 114.8,272.55 115.3,273.7 115.8,274.86 116.3,276.02 116.8,277.18 117.3,278.35 117.8,279.51 118.3,280.67 118.8,281.83 119.3,282.99 119.8,284.14 120.3,285.29 120.8,286.42 121.3,287.55 121.8,288.67 122.3,289.78 122.8,290.87 123.3,291.95 123.8,293.02 124.3,294.08 124.8,295.11 125.3,296.14 125.8,297.14 126.3,298.13 126.8,299.1 127.3,300.05 127.8,300.98 128.3,301.9 128.8,302.79 129.3,303.66 129.8,304.52 130.3,305.35 130.8,306.16 131.3,306.95 131.8,307.72 132.3,308.47 132.8,309.2 133.3,309.9 133.8,310.59 134.3,311.25 134.8,311.9 135.3,312.52 135.8,313.13 136.3,313.71 136.8,314.27 137.3,314.82 137.8,315.34 138.3,315.85 138.8,316.33 139.3,316.8 139.8,317.25 140.3,317.68 140.8,318.1 141.3,318.5 141.8,318.88 142.3,319.25 142.8,319.6 143.3,319.93 143.8,320.25 144.3,320.56 144.8,320.85 145.3,321.13 145.8,321.39 146.3,321.65 146.8,321.89 147.3,322.12 147.8,322.33 148.3,322.54 148.8,322.74 149.3,322.92 149.8,323.1 150.3,323.27 150.8,323.43 151.3,323.58 151.8,323.72 152.3,323.85 152.8,323.98 153.3,324.1 153.8,324.21 154.3,324.31 154.8,324.41 155.3,324.51 155.8,324.6 156.3,324.68 156.8,324.76 157.3,324.83 157.8,324.9 158.3,324.96 158.8,325.02 159.3,325.08 159.8,325.13 160.3,325.18 160.8,325.22 161.3,325.27 161.8,325.31 162.3,325.34 162.8,325.38 163.3,325.41 163.8,325.44 164.3,325.47 164.8,325.5 165.3,325.52 165.8,325.54 166.3,325.56 166.8,325.58 167.3,325.6 167.8,325.62" fill="none" stroke="#f7dc2a" stroke-width="1.3" stroke-linejoin="round" stroke-dasharray="3.0,1.9"/>
<polyline points="86,325.91 86.5,325.89 87,325.87 87.5,325.84 88,325.81 88.5,325.78 89,325.73 89.5,325.68 90,325.62 90.5,325.55 91,325.47 91.5,325.38 92,325.27 92.5,325.14 93,324.99 93.5,324.82 94,324.62 94.5,324.4 95,324.14 95.5,323.85 96,323.52 96.5,323.14 97,322.71 97.5,322.23 98,321.69 98.5,321.09 99,320.41 99.5,319.65 100,318.82 100.5,317.89 101,316.86 101.5,315.74 102,314.5 102.5,313.16 103,311.69 103.5,310.1 104,308.38 104.5,306.53 105,304.55 105.5,302.43 106,300.18 106.5,297.8 107,295.29 107.5,292.67 108,289.92 108.5,287.08 109,284.15 109.5,281.14 110,278.07 110.5,274.98 111,271.87 111.5,268.77 112,265.73 112.5,262.76 113,259.91 113.5,257.21 114,254.7 114.5,252.44 115,250.47 115.5,248.86 116,247.67 116.5,247.03 117,247.18 117.5,247.65 118,248.3 118.5,249.11 119,250.05 119.5,251.11 120,252.26 120.5,253.49 121,254.8 121.5,256.18 122,257.62 122.5,259.1 123,260.63 123.5,262.19 124,263.79 124.5,265.41 125,267.04 125.5,268.69 126,270.35 126.5,272.01 127,273.67 127.5,275.32 128,276.97 128.5,278.6 129,280.22 129.5,281.82 130,283.41 130.5,284.97 131,286.5 131.5,288.01 132,289.49 132.5,290.93 133,292.35 133.5,293.74 134,295.09 134.5,296.4 135,297.68 135.5,298.93 136,300.14 136.5,301.31 137,302.45 137.5,303.55 138,304.61 138.5,305.64 139,306.63 139.5,307.58 140,308.5 140.5,309.38 141,310.23 141.5,311.05 142,311.83 142.5,312.58 143,313.3 143.5,313.99 144,314.65 144.5,315.28 145,315.88 145.5,316.45 146,317 146.5,317.51 147,318.01 147.5,318.48 148,318.92 148.5,319.35 149,319.75 149.5,320.13 150,320.49 150.5,320.83 151,321.16 151.5,321.46 152,321.75 152.5,322.03 153,322.28 153.5,322.52 154,322.75 154.5,322.97 155,323.17 155.5,323.36 156,323.54 156.5,323.71 157,323.87 157.5,324.01 158,324.15 158.5,324.28 159,324.4 159.5,324.52 160,324.62 160.5,324.72 161,324.82 161.5,324.9 162,324.98 162.5,325.06 163,325.13 163.5,325.19 164,325.25 164.5,325.31 165,325.36 165.5,325.41 166,325.46 166.5,325.5 167,325.54 167.5,325.58 168,325.61 168.5,325.64 169,325.67" fill="none" stroke="#ee2a2a" stroke-width="1.3" stroke-linejoin="round" stroke-dasharray="3.0,1.9"/>
<polyline points="45.8,324.8 46.3,324.34 46.8,323.76 47.3,323 47.8,322.06 48.3,320.89 48.8,319.46 49.3,317.76 49.8,315.74 50.3,313.4 50.8,310.73 51.3,307.72 51.8,304.39 52.3,300.76 52.8,296.87 53.3,292.76 53.8,288.49 54.3,284.12 54.8,279.74 55.3,275.41 55.8,271.22 56.3,267.23 56.8,263.51 57.3,260.12 57.8,257.11 58.3,254.51 58.8,252.34 59.3,250.6 59.8,249.29 60.3,248.38 60.8,247.82 61.3,247.56 61.8,247.5 62.3,247.55 62.8,247.79 63.3,248.3 63.8,249.13 64.3,250.33 64.8,251.91 65.3,253.9 65.8,256.29 66.3,259.07 66.8,262.21 67.3,265.67 67.8,269.41 68.3,273.37 68.8,277.49 69.3,281.69 69.8,285.91 70.3,290.08 70.8,294.15 71.3,298.05 71.8,301.73 72.3,305.16 72.8,308.3 73.3,311.15 73.8,313.68 74.3,315.9 74.8,317.82 75.3,319.46 75.8,320.84 76.3,321.98 76.8,322.91 77.3,323.66 77.8,324.25 78.3,324.71 78.8,325.06 79.3,325.32 79.8,325.52 80.3,325.67 80.8,325.77 81.3,325.85" fill="none" stroke="#7dcc3a" stroke-width="1.1" stroke-linejoin="round" />
<polyline points="46.5,324.46 47,324.11 47.5,323.68 48,323.18 48.5,322.59 49,321.91 49.5,321.12 50,320.22 50.5,319.19 51,318.03 51.5,316.74 52,315.3 52.5,313.71 53,311.97 53.5,310.08 54,308.04 54.5,305.84 55,303.51 55.5,301.05 56,298.47 56.5,295.78 57,293 57.5,290.15 58,287.25 58.5,284.32 59,281.38 59.5,278.46 60,275.58 60.5,272.77 61,270.04 61.5,267.41 62,264.92 62.5,262.57 63,260.39 63.5,258.37 64,256.55 64.5,254.91 65,253.48 65.5,252.24 66,251.2 66.5,250.34 67,249.67 67.5,249.17 68,248.83 68.5,248.62 69,248.52 69.5,248.5 70,248.52 70.5,248.64 71,248.89 71.5,249.29 72,249.87 72.5,250.65 73,251.65 73.5,252.86 74,254.29 74.5,255.95 75,257.83 75.5,259.92 76,262.22 76.5,264.7 77,267.34 77.5,270.13 78,273.05 78.5,276.06 79,279.14 79.5,282.25 80,285.38 80.5,288.49 81,291.56 81.5,294.55 82,297.46 82.5,300.25 83,302.91 83.5,305.42 84,307.78 84.5,309.97 85,311.99 85.5,313.83 86,315.51 86.5,317.01 87,318.36 87.5,319.55 88,320.59 88.5,321.5 89,322.28 89.5,322.95 90,323.52 90.5,323.99 91,324.39 91.5,324.72 92,324.99" fill="none" stroke="#f6dc10" stroke-width="1.1" stroke-linejoin="round" />
<polyline points="45.8,248.5 51.2,248.5 55,249.4 59.4,250.6 65,251.2 71.5,251.6 75,252.7 79.4,255.8 83.8,258.8 88.1,262.3 91.6,266.3 94.3,270.7 96.9,275.9 99.5,282.9 101.3,289 103,295.2 104.3,300 106,306 108,312.6 110,318.6 111.8,324 113.2,328.4" fill="none" stroke="#ee1c1c" stroke-width="1.4" stroke-linejoin="round" />
<line x1="51.4" y1="341" x2="51.4" y2="343.2" stroke="#1a1a1a" stroke-width="0.9" />
<text x="51.4" y="351.6" font-size="8.3" font-weight="bold" fill="#000" text-anchor="middle" font-family='"Liberation Serif", serif' >400</text>
<line x1="80.75" y1="341" x2="80.75" y2="343.2" stroke="#1a1a1a" stroke-width="0.9" />
<text x="80.75" y="351.6" font-size="8.3" font-weight="bold" fill="#000" text-anchor="middle" font-family='"Liberation Serif", serif' >500</text>
<line x1="110.1" y1="341" x2="110.1" y2="343.2" stroke="#1a1a1a" stroke-width="0.9" />
<text x="110.1" y="351.6" font-size="8.3" font-weight="bold" fill="#000" text-anchor="middle" font-family='"Liberation Serif", serif' >600</text>
<line x1="139.45" y1="341" x2="139.45" y2="343.2" stroke="#1a1a1a" stroke-width="0.9" />
<text x="139.45" y="351.6" font-size="8.3" font-weight="bold" fill="#000" text-anchor="middle" font-family='"Liberation Serif", serif' >700</text>
<line x1="168.8" y1="341" x2="168.8" y2="343.2" stroke="#1a1a1a" stroke-width="0.9" />
<text x="168.8" y="351.6" font-size="8.3" font-weight="bold" fill="#000" text-anchor="middle" font-family='"Liberation Serif", serif' >800</text>
<line x1="198.15" y1="341" x2="198.15" y2="343.2" stroke="#1a1a1a" stroke-width="0.9" />
<text x="198.15" y="351.6" font-size="8.3" font-weight="bold" fill="#000" text-anchor="middle" font-family='"Liberation Serif", serif' >900</text>
<text x="130.5" y="365.2" font-size="9.3" font-weight="bold" fill="#000" text-anchor="middle" font-family='"Liberation Sans", sans-serif' >Wavelength (nm)</text>
<text transform="translate(25.0,278.2) rotate(-90)" font-size="9.3" font-weight="bold" text-anchor="middle" font-family='"Liberation Sans", sans-serif'>Intensity (arb. units)</text>
<text x="2.6" y="203.6" font-size="10" font-weight="bold" fill="#000" text-anchor="start" font-family='"Liberation Sans", sans-serif' >c</text>
<line x1="147.5" y1="214.4" x2="169.6" y2="214.4" stroke="#ee1c1c" stroke-width="1.4" />
<text x="175.6" y="216.4" font-size="8" font-weight="bold" fill="#000" text-anchor="start" font-family='"Liberation Sans", sans-serif' >Red</text>
<line x1="147.5" y1="225.2" x2="169.6" y2="225.2" stroke="#7dcc3a" stroke-width="1.1" />
<text x="175.6" y="227.2" font-size="8" font-weight="bold" fill="#000" text-anchor="start" font-family='"Liberation Sans", sans-serif' >Green</text>
<line x1="147.5" y1="235.6" x2="169.6" y2="235.6" stroke="#f6dc10" stroke-width="1.1" />
<text x="175.6" y="237.6" font-size="8" font-weight="bold" fill="#000" text-anchor="start" font-family='"Liberation Sans", sans-serif' >Yellow</text>
<line x1="147.5" y1="246.4" x2="169.6" y2="246.4" stroke="#2d8fd8" stroke-width="1.2" stroke-dasharray="2.8,1.6"/>
<text x="175.6" y="248.4" font-size="8" font-weight="bold" fill="#000" text-anchor="start" font-family='"Liberation Sans", sans-serif' >APELSD</text>
<line x1="147.5" y1="270.9" x2="169.6" y2="270.9" stroke="#ee2a2a" stroke-width="1.3" stroke-dasharray="2.8,1.6"/>
<text x="175.6" y="272.9" font-size="8" font-weight="bold" fill="#000" text-anchor="start" font-family='"Liberation Sans", sans-serif' >Red</text>
<line x1="147.5" y1="281.5" x2="169.6" y2="281.5" stroke="#86cc3c" stroke-width="1.1" stroke-dasharray="2.8,1.6"/>
<text x="175.6" y="283.5" font-size="8" font-weight="bold" fill="#000" text-anchor="start" font-family='"Liberation Sans", sans-serif' >Green</text>
<line x1="147.5" y1="292.2" x2="169.6" y2="292.2" stroke="#f7dc2a" stroke-width="1.3" stroke-dasharray="2.8,1.6"/>
<text x="175.6" y="294.2" font-size="8" font-weight="bold" fill="#000" text-anchor="start" font-family='"Liberation Sans", sans-serif' >Yellow</text>
<g clip-path="url(#cie)" shape-rendering="crispEdges">
<path fill="#00fc90" d="M282 210h2v2h-2zM284 210h2v2h-2zM286 210h2v2h-2zM288 210h2v2h-2zM290 210h2v2h-2zM280 212h2v2h-2zM282 212h2v2h-2zM284 212h2v2h-2zM286 212h2v2h-2zM288 212h2v2h-2zM290 212h2v2h-2zM282 214h2v2h-2zM284 214h2v2h-2zM286 214h2v2h-2zM288 214h2v2h-2zM290 214h2v2h-2zM292 214h2v2h-2zM284 216h2v2h-2zM286 216h2v2h-2zM288 216h2v2h-2zM290 216h2v2h-2zM292 216h2v2h-2zM286 218h2v2h-2zM288 218h2v2h-2zM290 218h2v2h-2zM292 218h2v2h-2zM294 218h2v2h-2zM286 220h2v2h-2zM288 220h2v2h-2zM290 220h2v2h-2zM292 220h2v2h-2zM294 220h2v2h-2zM296 220h2v2h-2zM288 222h2v2h-2zM290 222h2v2h-2zM292 222h2v2h-2zM294 222h2v2h-2zM296 222h2v2h-2zM290 224h2v2h-2zM292 224h2v2h-2zM294 224h2v2h-2zM296 224h2v2h-2zM298 224h2v2h-2zM292 226h2v2h-2zM294 226h2v2h-2zM296 226h2v2h-2zM298 226h2v2h-2zM300 226h2v2h-2zM292 228h2v2h-2zM294 228h2v2h-2zM296 228h2v2h-2zM298 228h2v2h-2zM300 228h2v2h-2zM294 230h2v2h-2zM296 230h2v2h-2zM298 230h2v2h-2zM300 230h2v2h-2zM302 230h2v2h-2zM296 232h2v2h-2zM298 232h2v2h-2zM300 232h2v2h-2zM302 232h2v2h-2zM298 234h2v2h-2zM300 234h2v2h-2zM302 234h2v2h-2zM304 234h2v2h-2zM300 236h2v2h-2zM302 236h2v2h-2zM304 236h2v2h-2zM306 236h2v2h-2zM300 238h2v2h-2zM302 238h2v2h-2zM304 238h2v2h-2zM306 238h2v2h-2zM302 240h2v2h-2zM304 240h2v2h-2zM306 240h2v2h-2zM308 240h2v2h-2zM304 242h2v2h-2zM306 242h2v2h-2zM308 242h2v2h-2zM310 242h2v2h-2zM306 244h2v2h-2zM308 244h2v2h-2zM310 244h2v2h-2zM308 246h2v2h-2zM310 246h2v2h-2zM312 246h2v2h-2zM308 248h2v2h-2zM310 248h2v2h-2zM312 248h2v2h-2zM310 250h2v2h-2zM312 250h2v2h-2zM314 250h2v2h-2zM312 252h2v2h-2zM314 252h2v2h-2zM316 252h2v2h-2zM314 254h2v2h-2zM316 254h2v2h-2zM314 256h2v2h-2zM316 256h2v2h-2zM318 256h2v2h-2zM316 258h2v2h-2zM318 258h2v2h-2zM320 258h2v2h-2zM318 260h2v2h-2zM320 260h2v2h-2zM320 262h2v2h-2zM322 262h2v2h-2zM322 264h2v2h-2zM322 266h2v2h-2zM324 266h2v2h-2z"/>
<path fill="#00fc84" d="M292 210h2v2h-2zM294 210h2v2h-2zM296 210h2v2h-2zM298 210h2v2h-2zM292 212h2v2h-2zM294 212h2v2h-2zM296 212h2v2h-2zM298 212h2v2h-2zM300 212h2v2h-2zM294 214h2v2h-2zM296 214h2v2h-2zM298 214h2v2h-2zM300 214h2v2h-2zM294 216h2v2h-2zM296 216h2v2h-2zM298 216h2v2h-2zM300 216h2v2h-2zM302 216h2v2h-2zM296 218h2v2h-2zM298 218h2v2h-2zM300 218h2v2h-2zM302 218h2v2h-2zM298 220h2v2h-2zM300 220h2v2h-2zM302 220h2v2h-2zM304 220h2v2h-2zM298 222h2v2h-2zM300 222h2v2h-2zM302 222h2v2h-2zM304 222h2v2h-2zM300 224h2v2h-2zM302 224h2v2h-2zM304 224h2v2h-2zM306 224h2v2h-2zM302 226h2v2h-2zM304 226h2v2h-2zM306 226h2v2h-2zM302 228h2v2h-2zM304 228h2v2h-2zM306 228h2v2h-2zM308 228h2v2h-2zM304 230h2v2h-2zM306 230h2v2h-2zM308 230h2v2h-2zM304 232h2v2h-2zM306 232h2v2h-2zM308 232h2v2h-2zM310 232h2v2h-2zM306 234h2v2h-2zM308 234h2v2h-2zM310 234h2v2h-2zM308 236h2v2h-2zM310 236h2v2h-2zM312 236h2v2h-2zM308 238h2v2h-2zM310 238h2v2h-2zM312 238h2v2h-2zM310 240h2v2h-2zM312 240h2v2h-2zM314 240h2v2h-2zM312 242h2v2h-2zM314 242h2v2h-2zM312 244h2v2h-2zM314 244h2v2h-2zM316 244h2v2h-2zM314 246h2v2h-2zM316 246h2v2h-2zM314 248h2v2h-2zM316 248h2v2h-2zM318 248h2v2h-2zM316 250h2v2h-2zM318 250h2v2h-2zM318 252h2v2h-2zM320 252h2v2h-2zM318 254h2v2h-2zM320 254h2v2h-2zM320 256h2v2h-2zM322 256h2v2h-2zM322 258h2v2h-2zM322 260h2v2h-2zM324 260h2v2h-2zM324 262h2v2h-2zM324 264h2v2h-2zM326 264h2v2h-2zM326 266h2v2h-2zM328 266h2v2h-2z"/>
<path fill="#00fc78" d="M302 212h2v2h-2zM302 214h2v2h-2zM304 214h2v2h-2zM306 214h2v2h-2zM308 214h2v2h-2zM304 216h2v2h-2zM306 216h2v2h-2zM308 216h2v2h-2zM304 218h2v2h-2zM306 218h2v2h-2zM308 218h2v2h-2zM310 218h2v2h-2zM306 220h2v2h-2zM308 220h2v2h-2zM310 220h2v2h-2zM306 222h2v2h-2zM308 222h2v2h-2zM310 222h2v2h-2zM312 222h2v2h-2zM308 224h2v2h-2zM310 224h2v2h-2zM312 224h2v2h-2zM308 226h2v2h-2zM310 226h2v2h-2zM312 226h2v2h-2zM310 228h2v2h-2zM312 228h2v2h-2zM314 228h2v2h-2zM310 230h2v2h-2zM312 230h2v2h-2zM314 230h2v2h-2zM312 232h2v2h-2zM314 232h2v2h-2zM316 232h2v2h-2zM312 234h2v2h-2zM314 234h2v2h-2zM316 234h2v2h-2zM314 236h2v2h-2zM316 236h2v2h-2zM314 238h2v2h-2zM316 238h2v2h-2zM318 238h2v2h-2zM316 240h2v2h-2zM318 240h2v2h-2zM316 242h2v2h-2zM318 242h2v2h-2zM320 242h2v2h-2zM318 244h2v2h-2zM320 244h2v2h-2zM318 246h2v2h-2zM320 246h2v2h-2zM322 246h2v2h-2zM320 248h2v2h-2zM322 248h2v2h-2zM320 250h2v2h-2zM322 250h2v2h-2zM322 252h2v2h-2zM324 252h2v2h-2zM322 254h2v2h-2zM324 254h2v2h-2zM324 256h2v2h-2zM326 256h2v2h-2zM324 258h2v2h-2zM326 258h2v2h-2zM326 260h2v2h-2zM326 262h2v2h-2zM328 262h2v2h-2zM328 264h2v2h-2z"/>
<path fill="#00fc9c" d="M278 214h2v2h-2zM280 214h2v2h-2zM276 216h2v2h-2zM278 216h2v2h-2zM280 216h2v2h-2zM282 216h2v2h-2zM276 218h2v2h-2zM278 218h2v2h-2zM280 218h2v2h-2zM282 218h2v2h-2zM284 218h2v2h-2zM276 220h2v2h-2zM278 220h2v2h-2zM280 220h2v2h-2zM282 220h2v2h-2zM284 220h2v2h-2zM278 222h2v2h-2zM280 222h2v2h-2zM282 222h2v2h-2zM284 222h2v2h-2zM286 222h2v2h-2zM280 224h2v2h-2zM282 224h2v2h-2zM284 224h2v2h-2zM286 224h2v2h-2zM288 224h2v2h-2zM282 226h2v2h-2zM284 226h2v2h-2zM286 226h2v2h-2zM288 226h2v2h-2zM290 226h2v2h-2zM284 228h2v2h-2zM286 228h2v2h-2zM288 228h2v2h-2zM290 228h2v2h-2zM286 230h2v2h-2zM288 230h2v2h-2zM290 230h2v2h-2zM292 230h2v2h-2zM288 232h2v2h-2zM290 232h2v2h-2zM292 232h2v2h-2zM294 232h2v2h-2zM290 234h2v2h-2zM292 234h2v2h-2zM294 234h2v2h-2zM296 234h2v2h-2zM292 236h2v2h-2zM294 236h2v2h-2zM296 236h2v2h-2zM298 236h2v2h-2zM294 238h2v2h-2zM296 238h2v2h-2zM298 238h2v2h-2zM296 240h2v2h-2zM298 240h2v2h-2zM300 240h2v2h-2zM298 242h2v2h-2zM300 242h2v2h-2zM302 242h2v2h-2zM300 244h2v2h-2zM302 244h2v2h-2zM304 244h2v2h-2zM300 246h2v2h-2zM302 246h2v2h-2zM304 246h2v2h-2zM306 246h2v2h-2zM302 248h2v2h-2zM304 248h2v2h-2zM306 248h2v2h-2zM304 250h2v2h-2zM306 250h2v2h-2zM308 250h2v2h-2zM306 252h2v2h-2zM308 252h2v2h-2zM310 252h2v2h-2zM308 254h2v2h-2zM310 254h2v2h-2zM312 254h2v2h-2zM310 256h2v2h-2zM312 256h2v2h-2zM312 258h2v2h-2zM314 258h2v2h-2zM314 260h2v2h-2zM316 260h2v2h-2zM316 262h2v2h-2zM318 262h2v2h-2zM318 264h2v2h-2zM320 264h2v2h-2zM320 266h2v2h-2zM322 268h2v2h-2z"/>
<path fill="#00fc6c" d="M310 216h2v2h-2zM312 216h2v2h-2zM312 218h2v2h-2zM312 220h2v2h-2zM314 222h2v2h-2zM314 224h2v2h-2zM314 226h2v2h-2zM316 226h2v2h-2zM316 228h2v2h-2zM316 230h2v2h-2zM318 232h2v2h-2zM318 234h2v2h-2zM318 236h2v2h-2zM320 238h2v2h-2zM320 240h2v2h-2zM322 242h2v2h-2zM322 244h2v2h-2zM324 248h2v2h-2zM324 250h2v2h-2zM326 254h2v2h-2zM328 258h2v2h-2zM328 260h2v2h-2zM330 264h2v2h-2z"/>
<path fill="#00fc60" d="M314 218h2v2h-2zM316 218h2v2h-2zM314 220h2v2h-2zM316 220h2v2h-2zM316 222h2v2h-2zM316 224h2v2h-2zM318 224h2v2h-2zM318 226h2v2h-2zM318 228h2v2h-2zM318 230h2v2h-2zM320 230h2v2h-2zM320 232h2v2h-2zM320 234h2v2h-2zM320 236h2v2h-2zM322 236h2v2h-2zM322 238h2v2h-2zM322 240h2v2h-2zM324 242h2v2h-2zM324 244h2v2h-2zM324 246h2v2h-2zM326 248h2v2h-2zM326 250h2v2h-2zM326 252h2v2h-2zM328 254h2v2h-2zM328 256h2v2h-2zM330 260h2v2h-2zM330 262h2v2h-2z"/>
<path fill="#00fca8" d="M274 220h2v2h-2zM274 222h2v2h-2zM276 222h2v2h-2zM274 224h2v2h-2zM276 224h2v2h-2zM278 224h2v2h-2zM272 226h2v2h-2zM274 226h2v2h-2zM276 226h2v2h-2zM278 226h2v2h-2zM280 226h2v2h-2zM272 228h2v2h-2zM274 228h2v2h-2zM276 228h2v2h-2zM278 228h2v2h-2zM280 228h2v2h-2zM282 228h2v2h-2zM276 230h2v2h-2zM278 230h2v2h-2zM280 230h2v2h-2zM282 230h2v2h-2zM284 230h2v2h-2zM278 232h2v2h-2zM280 232h2v2h-2zM282 232h2v2h-2zM284 232h2v2h-2zM286 232h2v2h-2zM280 234h2v2h-2zM282 234h2v2h-2zM284 234h2v2h-2zM286 234h2v2h-2zM288 234h2v2h-2zM282 236h2v2h-2zM284 236h2v2h-2zM286 236h2v2h-2zM288 236h2v2h-2zM290 236h2v2h-2zM284 238h2v2h-2zM286 238h2v2h-2zM288 238h2v2h-2zM290 238h2v2h-2zM292 238h2v2h-2zM286 240h2v2h-2zM288 240h2v2h-2zM290 240h2v2h-2zM292 240h2v2h-2zM294 240h2v2h-2zM288 242h2v2h-2zM290 242h2v2h-2zM292 242h2v2h-2zM294 242h2v2h-2zM296 242h2v2h-2zM290 244h2v2h-2zM292 244h2v2h-2zM294 244h2v2h-2zM296 244h2v2h-2zM298 244h2v2h-2zM292 246h2v2h-2zM294 246h2v2h-2zM296 246h2v2h-2zM298 246h2v2h-2zM296 248h2v2h-2zM298 248h2v2h-2zM300 248h2v2h-2zM298 250h2v2h-2zM300 250h2v2h-2zM302 250h2v2h-2zM300 252h2v2h-2zM302 252h2v2h-2zM304 252h2v2h-2zM302 254h2v2h-2zM304 254h2v2h-2zM306 254h2v2h-2zM304 256h2v2h-2zM306 256h2v2h-2zM308 256h2v2h-2zM306 258h2v2h-2zM308 258h2v2h-2zM310 258h2v2h-2zM308 260h2v2h-2zM310 260h2v2h-2zM312 260h2v2h-2zM310 262h2v2h-2zM312 262h2v2h-2zM314 262h2v2h-2zM312 264h2v2h-2zM314 264h2v2h-2zM316 264h2v2h-2zM316 266h2v2h-2zM318 266h2v2h-2zM318 268h2v2h-2zM320 268h2v2h-2z"/>
<path fill="#00fc54" d="M318 220h2v2h-2zM318 222h2v2h-2zM320 224h2v2h-2zM320 226h2v2h-2zM320 228h2v2h-2zM322 230h2v2h-2zM322 232h2v2h-2zM322 234h2v2h-2zM324 236h2v2h-2zM324 238h2v2h-2zM324 240h2v2h-2zM326 244h2v2h-2zM326 246h2v2h-2zM328 250h2v2h-2zM328 252h2v2h-2zM330 258h2v2h-2zM332 264h2v2h-2z"/>
<path fill="#00fc48" d="M320 220h2v2h-2zM320 222h2v2h-2zM322 222h2v2h-2zM322 224h2v2h-2zM322 226h2v2h-2zM322 228h2v2h-2zM324 228h2v2h-2zM324 230h2v2h-2zM324 232h2v2h-2zM324 234h2v2h-2zM326 236h2v2h-2zM326 238h2v2h-2zM326 240h2v2h-2zM326 242h2v2h-2zM328 244h2v2h-2zM328 246h2v2h-2zM328 248h2v2h-2zM330 252h2v2h-2zM330 254h2v2h-2zM330 256h2v2h-2zM332 260h2v2h-2zM332 262h2v2h-2z"/>
<path fill="#00fc3c" d="M324 222h2v2h-2zM324 224h2v2h-2zM324 226h2v2h-2zM326 228h2v2h-2zM326 230h2v2h-2zM326 232h2v2h-2zM326 234h2v2h-2zM328 236h2v2h-2zM328 238h2v2h-2zM328 240h2v2h-2zM328 242h2v2h-2zM330 246h2v2h-2zM330 248h2v2h-2zM330 250h2v2h-2zM332 254h2v2h-2zM332 256h2v2h-2zM332 258h2v2h-2zM334 264h2v2h-2z"/>
<path fill="#00fc30" d="M326 224h2v2h-2zM326 226h2v2h-2zM328 226h2v2h-2zM328 228h2v2h-2zM328 230h2v2h-2zM328 232h2v2h-2zM328 234h2v2h-2zM330 236h2v2h-2zM330 238h2v2h-2zM330 240h2v2h-2zM330 242h2v2h-2zM330 244h2v2h-2zM332 246h2v2h-2zM332 248h2v2h-2zM332 250h2v2h-2zM332 252h2v2h-2zM334 258h2v2h-2zM334 260h2v2h-2zM334 262h2v2h-2z"/>
<path fill="#00fc24" d="M330 226h2v2h-2zM330 228h2v2h-2zM330 230h2v2h-2zM330 232h2v2h-2zM330 234h2v2h-2zM332 236h2v2h-2zM332 238h2v2h-2zM332 240h2v2h-2zM332 242h2v2h-2zM332 244h2v2h-2zM334 250h2v2h-2zM334 252h2v2h-2zM334 254h2v2h-2zM334 256h2v2h-2zM336 264h2v2h-2z"/>
<path fill="#00fc18" d="M332 228h2v2h-2zM332 230h2v2h-2zM332 232h2v2h-2zM332 234h2v2h-2zM334 234h2v2h-2zM334 236h2v2h-2zM334 238h2v2h-2zM334 240h2v2h-2zM334 242h2v2h-2zM334 244h2v2h-2zM334 246h2v2h-2zM334 248h2v2h-2zM336 254h2v2h-2zM336 256h2v2h-2zM336 258h2v2h-2zM336 260h2v2h-2zM336 262h2v2h-2z"/>
<path fill="#00fc0c" d="M334 228h2v2h-2zM334 230h2v2h-2zM334 232h2v2h-2zM336 236h2v2h-2zM336 238h2v2h-2zM336 240h2v2h-2zM336 242h2v2h-2zM336 244h2v2h-2zM336 246h2v2h-2zM336 248h2v2h-2zM336 250h2v2h-2zM336 252h2v2h-2z"/>
<path fill="#00fcb4" d="M272 230h2v2h-2zM274 230h2v2h-2zM272 232h2v2h-2zM274 232h2v2h-2zM276 232h2v2h-2zM272 234h2v2h-2zM274 234h2v2h-2zM276 234h2v2h-2zM278 234h2v2h-2zM272 236h2v2h-2zM274 236h2v2h-2zM276 236h2v2h-2zM278 236h2v2h-2zM280 236h2v2h-2zM272 238h2v2h-2zM274 238h2v2h-2zM276 238h2v2h-2zM278 238h2v2h-2zM280 238h2v2h-2zM282 238h2v2h-2zM274 240h2v2h-2zM276 240h2v2h-2zM278 240h2v2h-2zM280 240h2v2h-2zM282 240h2v2h-2zM284 240h2v2h-2zM276 242h2v2h-2zM278 242h2v2h-2zM280 242h2v2h-2zM282 242h2v2h-2zM284 242h2v2h-2zM286 242h2v2h-2zM280 244h2v2h-2zM282 244h2v2h-2zM284 244h2v2h-2zM286 244h2v2h-2zM288 244h2v2h-2zM282 246h2v2h-2zM284 246h2v2h-2zM286 246h2v2h-2zM288 246h2v2h-2zM290 246h2v2h-2zM284 248h2v2h-2zM286 248h2v2h-2zM288 248h2v2h-2zM290 248h2v2h-2zM292 248h2v2h-2zM294 248h2v2h-2zM288 250h2v2h-2zM290 250h2v2h-2zM292 250h2v2h-2zM294 250h2v2h-2zM296 250h2v2h-2zM290 252h2v2h-2zM292 252h2v2h-2zM294 252h2v2h-2zM296 252h2v2h-2zM298 252h2v2h-2zM294 254h2v2h-2zM296 254h2v2h-2zM298 254h2v2h-2zM300 254h2v2h-2zM296 256h2v2h-2zM298 256h2v2h-2zM300 256h2v2h-2zM302 256h2v2h-2zM298 258h2v2h-2zM300 258h2v2h-2zM302 258h2v2h-2zM304 258h2v2h-2zM302 260h2v2h-2zM304 260h2v2h-2zM306 260h2v2h-2zM304 262h2v2h-2zM306 262h2v2h-2zM308 262h2v2h-2zM306 264h2v2h-2zM308 264h2v2h-2zM310 264h2v2h-2zM310 266h2v2h-2zM312 266h2v2h-2zM314 266h2v2h-2zM312 268h2v2h-2zM314 268h2v2h-2zM316 268h2v2h-2zM314 270h2v2h-2zM316 270h2v2h-2zM318 270h2v2h-2z"/>
<path fill="#00fc00" d="M336 230h2v2h-2zM336 232h2v2h-2zM338 232h2v2h-2zM336 234h2v2h-2zM338 234h2v2h-2zM338 236h2v2h-2zM338 238h2v2h-2zM338 240h2v2h-2zM338 242h2v2h-2zM338 244h2v2h-2zM338 246h2v2h-2zM338 248h2v2h-2zM338 250h2v2h-2zM338 252h2v2h-2zM338 254h2v2h-2zM338 256h2v2h-2zM338 258h2v2h-2zM338 260h2v2h-2zM338 262h2v2h-2zM338 264h2v2h-2z"/>
<path fill="#18fc00" d="M340 232h2v2h-2zM340 234h2v2h-2zM342 234h2v2h-2zM340 236h2v2h-2zM342 236h2v2h-2zM340 238h2v2h-2zM340 240h2v2h-2zM340 242h2v2h-2zM340 244h2v2h-2zM340 246h2v2h-2zM340 248h2v2h-2zM340 250h2v2h-2zM340 252h2v2h-2zM340 254h2v2h-2zM340 256h2v2h-2zM340 258h2v2h-2zM340 260h2v2h-2zM340 262h2v2h-2zM340 264h2v2h-2z"/>
<path fill="#30fc00" d="M344 236h2v2h-2zM344 238h2v2h-2zM344 240h2v2h-2zM344 242h2v2h-2zM344 244h2v2h-2zM344 246h2v2h-2zM344 248h2v2h-2zM344 250h2v2h-2zM344 252h2v2h-2zM342 260h2v2h-2zM342 262h2v2h-2zM342 264h2v2h-2z"/>
<path fill="#3cfc00" d="M346 236h2v2h-2zM346 238h2v2h-2zM346 240h2v2h-2zM346 242h2v2h-2zM346 244h2v2h-2zM346 246h2v2h-2zM344 254h2v2h-2zM344 256h2v2h-2zM344 258h2v2h-2zM344 260h2v2h-2z"/>
<path fill="#24fc00" d="M342 238h2v2h-2zM342 240h2v2h-2zM342 242h2v2h-2zM342 244h2v2h-2zM342 246h2v2h-2zM342 248h2v2h-2zM342 250h2v2h-2zM342 252h2v2h-2zM342 254h2v2h-2zM342 256h2v2h-2zM342 258h2v2h-2z"/>
<path fill="#48fc00" d="M348 238h2v2h-2zM348 240h2v2h-2zM348 242h2v2h-2zM348 244h2v2h-2zM346 248h2v2h-2zM346 250h2v2h-2zM346 252h2v2h-2zM346 254h2v2h-2zM346 256h2v2h-2zM344 262h2v2h-2zM344 264h2v2h-2z"/>
<path fill="#00fcc0" d="M272 240h2v2h-2zM272 242h2v2h-2zM274 242h2v2h-2zM272 244h2v2h-2zM274 244h2v2h-2zM276 244h2v2h-2zM278 244h2v2h-2zM272 246h2v2h-2zM274 246h2v2h-2zM276 246h2v2h-2zM278 246h2v2h-2zM280 246h2v2h-2zM272 248h2v2h-2zM274 248h2v2h-2zM276 248h2v2h-2zM278 248h2v2h-2zM280 248h2v2h-2zM282 248h2v2h-2zM272 250h2v2h-2zM274 250h2v2h-2zM276 250h2v2h-2zM278 250h2v2h-2zM280 250h2v2h-2zM282 250h2v2h-2zM284 250h2v2h-2zM286 250h2v2h-2zM274 252h2v2h-2zM276 252h2v2h-2zM278 252h2v2h-2zM280 252h2v2h-2zM282 252h2v2h-2zM284 252h2v2h-2zM286 252h2v2h-2zM288 252h2v2h-2zM278 254h2v2h-2zM280 254h2v2h-2zM282 254h2v2h-2zM284 254h2v2h-2zM286 254h2v2h-2zM288 254h2v2h-2zM290 254h2v2h-2zM292 254h2v2h-2zM282 256h2v2h-2zM284 256h2v2h-2zM286 256h2v2h-2zM288 256h2v2h-2zM290 256h2v2h-2zM292 256h2v2h-2zM294 256h2v2h-2zM286 258h2v2h-2zM288 258h2v2h-2zM290 258h2v2h-2zM292 258h2v2h-2zM294 258h2v2h-2zM296 258h2v2h-2zM290 260h2v2h-2zM292 260h2v2h-2zM294 260h2v2h-2zM296 260h2v2h-2zM298 260h2v2h-2zM300 260h2v2h-2zM292 262h2v2h-2zM294 262h2v2h-2zM296 262h2v2h-2zM298 262h2v2h-2zM300 262h2v2h-2zM302 262h2v2h-2zM296 264h2v2h-2zM298 264h2v2h-2zM300 264h2v2h-2zM302 264h2v2h-2zM304 264h2v2h-2zM300 266h2v2h-2zM302 266h2v2h-2zM304 266h2v2h-2zM306 266h2v2h-2zM308 266h2v2h-2zM304 268h2v2h-2zM306 268h2v2h-2zM308 268h2v2h-2zM310 268h2v2h-2zM306 270h2v2h-2zM308 270h2v2h-2zM310 270h2v2h-2zM312 270h2v2h-2zM310 272h2v2h-2zM312 272h2v2h-2zM314 272h2v2h-2z"/>
<path fill="#54fc00" d="M350 240h2v2h-2zM350 242h2v2h-2zM348 246h2v2h-2zM348 248h2v2h-2zM348 250h2v2h-2zM348 252h2v2h-2zM346 258h2v2h-2zM346 260h2v2h-2z"/>
<path fill="#60fc00" d="M352 240h2v2h-2zM352 242h2v2h-2zM350 244h2v2h-2zM350 246h2v2h-2zM350 248h2v2h-2zM350 250h2v2h-2zM348 254h2v2h-2zM348 256h2v2h-2zM348 258h2v2h-2zM346 262h2v2h-2zM346 264h2v2h-2z"/>
<path fill="#78fc00" d="M354 242h2v2h-2zM354 244h2v2h-2zM354 246h2v2h-2zM352 250h2v2h-2zM352 252h2v2h-2zM350 256h2v2h-2zM350 258h2v2h-2zM348 262h2v2h-2zM348 264h2v2h-2z"/>
<path fill="#6cfc00" d="M352 244h2v2h-2zM352 246h2v2h-2zM352 248h2v2h-2zM350 252h2v2h-2zM350 254h2v2h-2zM348 260h2v2h-2z"/>
<path fill="#84fc00" d="M356 244h2v2h-2zM356 246h2v2h-2zM354 248h2v2h-2zM354 250h2v2h-2zM352 254h2v2h-2zM352 256h2v2h-2zM350 260h2v2h-2z"/>
<path fill="#9cfc00" d="M358 246h2v2h-2zM358 248h2v2h-2zM356 252h2v2h-2zM354 256h2v2h-2zM354 258h2v2h-2zM352 262h2v2h-2z"/>
<path fill="#a8fc00" d="M360 246h2v2h-2zM360 248h2v2h-2zM358 250h2v2h-2zM358 252h2v2h-2zM356 254h2v2h-2zM356 256h2v2h-2zM354 260h2v2h-2zM352 264h2v2h-2z"/>
<path fill="#90fc00" d="M356 248h2v2h-2zM356 250h2v2h-2zM354 252h2v2h-2zM354 254h2v2h-2zM352 258h2v2h-2zM352 260h2v2h-2zM350 262h2v2h-2zM350 264h2v2h-2z"/>
<path fill="#b4fc00" d="M362 248h2v2h-2zM360 250h2v2h-2zM358 254h2v2h-2zM356 258h2v2h-2zM354 262h2v2h-2zM352 266h2v2h-2z"/>
<path fill="#c0fc00" d="M362 250h2v2h-2zM360 252h2v2h-2zM360 254h2v2h-2zM358 256h2v2h-2zM358 258h2v2h-2zM356 260h2v2h-2zM354 264h2v2h-2z"/>
<path fill="#ccfc00" d="M364 250h2v2h-2zM362 252h2v2h-2zM360 256h2v2h-2zM358 260h2v2h-2zM356 262h2v2h-2zM354 266h2v2h-2z"/>
<path fill="#d8fc00" d="M366 250h2v2h-2zM364 252h2v2h-2zM362 254h2v2h-2zM362 256h2v2h-2zM360 258h2v2h-2zM358 262h2v2h-2zM356 264h2v2h-2z"/>
<path fill="#00fccc" d="M272 252h2v2h-2zM272 254h2v2h-2zM274 254h2v2h-2zM276 254h2v2h-2zM272 256h2v2h-2zM274 256h2v2h-2zM276 256h2v2h-2zM278 256h2v2h-2zM280 256h2v2h-2zM272 258h2v2h-2zM274 258h2v2h-2zM276 258h2v2h-2zM278 258h2v2h-2zM280 258h2v2h-2zM282 258h2v2h-2zM284 258h2v2h-2zM276 260h2v2h-2zM278 260h2v2h-2zM280 260h2v2h-2zM282 260h2v2h-2zM284 260h2v2h-2zM286 260h2v2h-2zM288 260h2v2h-2zM280 262h2v2h-2zM282 262h2v2h-2zM284 262h2v2h-2zM286 262h2v2h-2zM288 262h2v2h-2zM290 262h2v2h-2zM284 264h2v2h-2zM286 264h2v2h-2zM288 264h2v2h-2zM290 264h2v2h-2zM292 264h2v2h-2zM294 264h2v2h-2zM288 266h2v2h-2zM290 266h2v2h-2zM292 266h2v2h-2zM294 266h2v2h-2zM296 266h2v2h-2zM298 266h2v2h-2zM294 268h2v2h-2zM296 268h2v2h-2zM298 268h2v2h-2zM300 268h2v2h-2zM302 268h2v2h-2zM298 270h2v2h-2zM300 270h2v2h-2zM302 270h2v2h-2zM304 270h2v2h-2zM302 272h2v2h-2zM304 272h2v2h-2zM306 272h2v2h-2zM308 272h2v2h-2zM306 274h2v2h-2zM308 274h2v2h-2zM310 274h2v2h-2zM312 274h2v2h-2z"/>
<path fill="#e4fc00" d="M366 252h2v2h-2zM364 254h2v2h-2zM362 258h2v2h-2zM360 260h2v2h-2zM356 266h2v2h-2z"/>
<path fill="#f0fc00" d="M368 252h2v2h-2zM366 254h2v2h-2zM364 256h2v2h-2zM362 260h2v2h-2zM360 262h2v2h-2zM358 264h2v2h-2z"/>
<path fill="#fcfc00" d="M368 254h2v2h-2zM370 254h2v2h-2zM366 256h2v2h-2zM368 256h2v2h-2zM364 258h2v2h-2zM366 258h2v2h-2zM364 260h2v2h-2zM362 262h2v2h-2zM360 264h2v2h-2zM358 266h2v2h-2zM358 268h2v2h-2z"/>
<path fill="#fcf000" d="M370 256h2v2h-2zM372 256h2v2h-2zM368 258h2v2h-2zM370 258h2v2h-2zM366 260h2v2h-2zM368 260h2v2h-2zM364 262h2v2h-2zM366 262h2v2h-2zM362 264h2v2h-2zM364 264h2v2h-2zM360 266h2v2h-2zM362 266h2v2h-2zM360 268h2v2h-2z"/>
<path fill="#fce400" d="M374 256h2v2h-2zM372 258h2v2h-2zM370 260h2v2h-2zM368 262h2v2h-2zM366 264h2v2h-2zM364 266h2v2h-2zM362 268h2v2h-2z"/>
<path fill="#fcd800" d="M374 258h2v2h-2zM376 258h2v2h-2zM372 260h2v2h-2zM374 260h2v2h-2zM370 262h2v2h-2zM372 262h2v2h-2zM368 264h2v2h-2zM366 266h2v2h-2zM364 268h2v2h-2zM362 270h2v2h-2z"/>
<path fill="#00fcd8" d="M272 260h2v2h-2zM274 260h2v2h-2zM274 262h2v2h-2zM276 262h2v2h-2zM278 262h2v2h-2zM274 264h2v2h-2zM276 264h2v2h-2zM278 264h2v2h-2zM280 264h2v2h-2zM282 264h2v2h-2zM274 266h2v2h-2zM276 266h2v2h-2zM278 266h2v2h-2zM280 266h2v2h-2zM282 266h2v2h-2zM284 266h2v2h-2zM286 266h2v2h-2zM274 268h2v2h-2zM276 268h2v2h-2zM278 268h2v2h-2zM280 268h2v2h-2zM282 268h2v2h-2zM284 268h2v2h-2zM286 268h2v2h-2zM288 268h2v2h-2zM290 268h2v2h-2zM292 268h2v2h-2zM282 270h2v2h-2zM284 270h2v2h-2zM286 270h2v2h-2zM288 270h2v2h-2zM290 270h2v2h-2zM292 270h2v2h-2zM294 270h2v2h-2zM296 270h2v2h-2zM288 272h2v2h-2zM290 272h2v2h-2zM292 272h2v2h-2zM294 272h2v2h-2zM296 272h2v2h-2zM298 272h2v2h-2zM300 272h2v2h-2zM294 274h2v2h-2zM296 274h2v2h-2zM298 274h2v2h-2zM300 274h2v2h-2zM302 274h2v2h-2zM304 274h2v2h-2zM300 276h2v2h-2zM302 276h2v2h-2zM304 276h2v2h-2zM306 276h2v2h-2zM308 276h2v2h-2zM310 276h2v2h-2zM306 278h2v2h-2zM308 278h2v2h-2z"/>
<path fill="#fccc00" d="M376 260h2v2h-2zM374 262h2v2h-2zM370 264h2v2h-2zM372 264h2v2h-2zM368 266h2v2h-2zM370 266h2v2h-2zM366 268h2v2h-2zM364 270h2v2h-2z"/>
<path fill="#fcc000" d="M378 260h2v2h-2zM380 260h2v2h-2zM376 262h2v2h-2zM378 262h2v2h-2zM374 264h2v2h-2zM376 264h2v2h-2zM372 266h2v2h-2zM368 268h2v2h-2zM370 268h2v2h-2zM366 270h2v2h-2z"/>
<path fill="#fcb400" d="M380 262h2v2h-2zM382 262h2v2h-2zM378 264h2v2h-2zM374 266h2v2h-2zM376 266h2v2h-2zM372 268h2v2h-2zM368 270h2v2h-2zM370 270h2v2h-2zM366 272h2v2h-2z"/>
<path fill="#fca800" d="M380 264h2v2h-2zM382 264h2v2h-2zM384 264h2v2h-2zM378 266h2v2h-2zM380 266h2v2h-2zM374 268h2v2h-2zM376 268h2v2h-2zM372 270h2v2h-2zM368 272h2v2h-2zM370 272h2v2h-2z"/>
<path fill="#fc9c00" d="M386 264h2v2h-2zM382 266h2v2h-2zM384 266h2v2h-2zM378 268h2v2h-2zM380 268h2v2h-2zM374 270h2v2h-2zM376 270h2v2h-2zM372 272h2v2h-2zM368 274h2v2h-2z"/>
<path fill="#0cfc78" d="M330 266h2v2h-2z"/>
<path fill="#0cfc60" d="M332 266h2v2h-2z"/>
<path fill="#0cfc48" d="M334 266h2v2h-2z"/>
<path fill="#18fc30" d="M336 266h2v2h-2z"/>
<path fill="#18fc18" d="M338 266h2v2h-2z"/>
<path fill="#24fc18" d="M340 266h2v2h-2z"/>
<path fill="#3cfc18" d="M342 266h2v2h-2z"/>
<path fill="#54fc0c" d="M344 266h2v2h-2z"/>
<path fill="#6cfc0c" d="M346 266h2v2h-2z"/>
<path fill="#84fc0c" d="M348 266h2v2h-2z"/>
<path fill="#9cfc0c" d="M350 266h2v2h-2z"/>
<path fill="#fc9000" d="M386 266h2v2h-2zM388 266h2v2h-2zM382 268h2v2h-2zM384 268h2v2h-2zM386 268h2v2h-2zM378 270h2v2h-2zM380 270h2v2h-2zM374 272h2v2h-2zM376 272h2v2h-2zM370 274h2v2h-2zM372 274h2v2h-2z"/>
<path fill="#0cfc9c" d="M324 268h2v2h-2z"/>
<path fill="#18fc90" d="M326 268h2v2h-2zM328 268h2v2h-2z"/>
<path fill="#18fc84" d="M330 268h2v2h-2z"/>
<path fill="#24fc78" d="M332 268h2v2h-2z"/>
<path fill="#24fc60" d="M334 268h2v2h-2z"/>
<path fill="#24fc48" d="M336 268h2v2h-2z"/>
<path fill="#24fc30" d="M338 268h2v2h-2z"/>
<path fill="#3cfc24" d="M340 268h2v2h-2z"/>
<path fill="#54fc24" d="M342 268h2v2h-2z"/>
<path fill="#6cfc24" d="M344 268h2v2h-2z"/>
<path fill="#84fc24" d="M346 268h2v2h-2z"/>
<path fill="#9cfc18" d="M348 268h2v2h-2z"/>
<path fill="#b4fc18" d="M350 268h2v2h-2z"/>
<path fill="#ccfc18" d="M352 268h2v2h-2z"/>
<path fill="#e4fc0c" d="M354 268h2v2h-2z"/>
<path fill="#fcfc0c" d="M356 268h2v2h-2z"/>
<path fill="#fc8400" d="M388 268h2v2h-2zM390 268h2v2h-2zM382 270h2v2h-2zM384 270h2v2h-2zM386 270h2v2h-2zM378 272h2v2h-2zM380 272h2v2h-2zM374 274h2v2h-2zM376 274h2v2h-2zM370 276h2v2h-2z"/>
<path fill="#00fce4" d="M274 270h2v2h-2zM276 270h2v2h-2zM278 270h2v2h-2zM280 270h2v2h-2zM274 272h2v2h-2zM276 272h2v2h-2zM278 272h2v2h-2zM280 272h2v2h-2zM282 272h2v2h-2zM284 272h2v2h-2zM286 272h2v2h-2zM276 274h2v2h-2zM278 274h2v2h-2zM280 274h2v2h-2zM282 274h2v2h-2zM284 274h2v2h-2zM286 274h2v2h-2zM288 274h2v2h-2zM290 274h2v2h-2zM292 274h2v2h-2zM284 276h2v2h-2zM286 276h2v2h-2zM288 276h2v2h-2zM290 276h2v2h-2zM292 276h2v2h-2zM294 276h2v2h-2zM296 276h2v2h-2zM298 276h2v2h-2zM292 278h2v2h-2zM294 278h2v2h-2zM296 278h2v2h-2zM298 278h2v2h-2zM300 278h2v2h-2zM302 278h2v2h-2zM304 278h2v2h-2zM300 280h2v2h-2zM302 280h2v2h-2zM304 280h2v2h-2zM306 280h2v2h-2z"/>
<path fill="#0cfca8" d="M320 270h2v2h-2z"/>
<path fill="#18fca8" d="M322 270h2v2h-2zM324 270h2v2h-2z"/>
<path fill="#24fc9c" d="M326 270h2v2h-2zM328 270h2v2h-2z"/>
<path fill="#30fc90" d="M330 270h2v2h-2zM332 270h2v2h-2z"/>
<path fill="#30fc78" d="M334 270h2v2h-2z"/>
<path fill="#3cfc60" d="M336 270h2v2h-2z"/>
<path fill="#3cfc48" d="M338 270h2v2h-2z"/>
<path fill="#48fc3c" d="M340 270h2v2h-2z"/>
<path fill="#60fc3c" d="M342 270h2v2h-2z"/>
<path fill="#78fc30" d="M344 270h2v2h-2z"/>
<path fill="#90fc30" d="M346 270h2v2h-2z"/>
<path fill="#a8fc30" d="M348 270h2v2h-2z"/>
<path fill="#c0fc30" d="M350 270h2v2h-2z"/>
<path fill="#d8fc24" d="M352 270h2v2h-2z"/>
<path fill="#f0fc24" d="M354 270h2v2h-2z"/>
<path fill="#fcfc18" d="M356 270h2v2h-2z"/>
<path fill="#fcf018" d="M358 270h2v2h-2z"/>
<path fill="#fce40c" d="M360 270h2v2h-2z"/>
<path fill="#fc7800" d="M388 270h2v2h-2zM390 270h2v2h-2zM392 270h2v2h-2zM382 272h2v2h-2zM384 272h2v2h-2zM386 272h2v2h-2zM378 274h2v2h-2zM380 274h2v2h-2zM372 276h2v2h-2zM374 276h2v2h-2z"/>
<path fill="#fc6c00" d="M394 270h2v2h-2zM388 272h2v2h-2zM390 272h2v2h-2zM392 272h2v2h-2zM382 274h2v2h-2zM384 274h2v2h-2zM386 274h2v2h-2zM376 276h2v2h-2zM378 276h2v2h-2zM380 276h2v2h-2zM372 278h2v2h-2zM374 278h2v2h-2z"/>
<path fill="#0cfcc0" d="M316 272h2v2h-2z"/>
<path fill="#18fcc0" d="M318 272h2v2h-2zM320 272h2v2h-2zM316 274h2v2h-2z"/>
<path fill="#24fcb4" d="M322 272h2v2h-2z"/>
<path fill="#30fcb4" d="M324 272h2v2h-2z"/>
<path fill="#30fca8" d="M326 272h2v2h-2z"/>
<path fill="#3cfca8" d="M328 272h2v2h-2zM330 272h2v2h-2z"/>
<path fill="#48fc9c" d="M332 272h2v2h-2z"/>
<path fill="#48fc84" d="M334 272h2v2h-2z"/>
<path fill="#48fc6c" d="M336 272h2v2h-2z"/>
<path fill="#48fc54" d="M338 272h2v2h-2z"/>
<path fill="#60fc48" d="M340 272h2v2h-2z"/>
<path fill="#78fc48" d="M342 272h2v2h-2z"/>
<path fill="#90fc48" d="M344 272h2v2h-2z"/>
<path fill="#a8fc48" d="M346 272h2v2h-2z"/>
<path fill="#c0fc48" d="M348 272h2v2h-2z"/>
<path fill="#d8fc3c" d="M350 272h2v2h-2z"/>
<path fill="#f0fc3c" d="M352 272h2v2h-2z"/>
<path fill="#fcfc30" d="M354 272h2v2h-2z"/>
<path fill="#fcf024" d="M356 272h2v2h-2z"/>
<path fill="#fce424" d="M358 272h2v2h-2z"/>
<path fill="#fcd818" d="M360 272h2v2h-2z"/>
<path fill="#fccc0c" d="M362 272h2v2h-2z"/>
<path fill="#fcc00c" d="M364 272h2v2h-2z"/>
<path fill="#fc6000" d="M394 272h2v2h-2zM396 272h2v2h-2zM388 274h2v2h-2zM390 274h2v2h-2zM392 274h2v2h-2zM394 274h2v2h-2zM382 276h2v2h-2zM384 276h2v2h-2zM386 276h2v2h-2zM376 278h2v2h-2zM378 278h2v2h-2zM372 280h2v2h-2z"/>
<path fill="#0cfccc" d="M314 274h2v2h-2zM312 276h2v2h-2z"/>
<path fill="#24fcc0" d="M318 274h2v2h-2z"/>
<path fill="#30fcc0" d="M320 274h2v2h-2zM322 274h2v2h-2z"/>
<path fill="#3cfcc0" d="M324 274h2v2h-2z"/>
<path fill="#48fcb4" d="M326 274h2v2h-2zM328 274h2v2h-2z"/>
<path fill="#54fcb4" d="M330 274h2v2h-2z"/>
<path fill="#54fca8" d="M332 274h2v2h-2z"/>
<path fill="#54fc9c" d="M334 274h2v2h-2z"/>
<path fill="#60fc84" d="M336 274h2v2h-2z"/>
<path fill="#60fc6c" d="M338 274h2v2h-2z"/>
<path fill="#6cfc60" d="M340 274h2v2h-2z"/>
<path fill="#84fc60" d="M342 274h2v2h-2z"/>
<path fill="#9cfc60" d="M344 274h2v2h-2z"/>
<path fill="#c0fc54" d="M346 274h2v2h-2z"/>
<path fill="#d8fc54" d="M348 274h2v2h-2z"/>
<path fill="#f0fc48" d="M350 274h2v2h-2z"/>
<path fill="#fcfc48" d="M352 274h2v2h-2z"/>
<path fill="#fcf03c" d="M354 274h2v2h-2z"/>
<path fill="#fce43c" d="M356 274h2v2h-2z"/>
<path fill="#fcd830" d="M358 274h2v2h-2z"/>
<path fill="#fccc24" d="M360 274h2v2h-2z"/>
<path fill="#fcc018" d="M362 274h2v2h-2z"/>
<path fill="#fcb418" d="M364 274h2v2h-2z"/>
<path fill="#fca80c" d="M366 274h2v2h-2z"/>
<path fill="#fc5400" d="M396 274h2v2h-2zM398 274h2v2h-2zM400 274h2v2h-2zM388 276h2v2h-2zM390 276h2v2h-2zM392 276h2v2h-2zM394 276h2v2h-2zM380 278h2v2h-2zM382 278h2v2h-2zM384 278h2v2h-2zM386 278h2v2h-2zM374 280h2v2h-2zM376 280h2v2h-2zM378 280h2v2h-2z"/>
<path fill="#00fcf0" d="M276 276h2v2h-2zM278 276h2v2h-2zM280 276h2v2h-2zM282 276h2v2h-2zM276 278h2v2h-2zM278 278h2v2h-2zM280 278h2v2h-2zM282 278h2v2h-2zM284 278h2v2h-2zM286 278h2v2h-2zM288 278h2v2h-2zM290 278h2v2h-2zM276 280h2v2h-2zM278 280h2v2h-2zM280 280h2v2h-2zM282 280h2v2h-2zM284 280h2v2h-2zM286 280h2v2h-2zM288 280h2v2h-2zM290 280h2v2h-2zM292 280h2v2h-2zM294 280h2v2h-2zM296 280h2v2h-2zM298 280h2v2h-2zM286 282h2v2h-2zM288 282h2v2h-2zM290 282h2v2h-2zM292 282h2v2h-2zM294 282h2v2h-2zM296 282h2v2h-2zM298 282h2v2h-2zM300 282h2v2h-2zM302 282h2v2h-2zM304 282h2v2h-2zM306 282h2v2h-2zM302 284h2v2h-2zM304 284h2v2h-2zM306 284h2v2h-2z"/>
<path fill="#18fccc" d="M314 276h2v2h-2z"/>
<path fill="#24fccc" d="M316 276h2v2h-2z"/>
<path fill="#30fccc" d="M318 276h2v2h-2z"/>
<path fill="#3cfccc" d="M320 276h2v2h-2zM322 276h2v2h-2z"/>
<path fill="#48fccc" d="M324 276h2v2h-2z"/>
<path fill="#54fcc0" d="M326 276h2v2h-2z"/>
<path fill="#60fcc0" d="M328 276h2v2h-2zM330 276h2v2h-2z"/>
<path fill="#6cfcb4" d="M332 276h2v2h-2zM334 276h2v2h-2z"/>
<path fill="#6cfc9c" d="M336 276h2v2h-2z"/>
<path fill="#6cfc84" d="M338 276h2v2h-2z"/>
<path fill="#84fc78" d="M340 276h2v2h-2z"/>
<path fill="#9cfc6c" d="M342 276h2v2h-2z"/>
<path fill="#b4fc6c" d="M344 276h2v2h-2z"/>
<path fill="#ccfc6c" d="M346 276h2v2h-2z"/>
<path fill="#e4fc60" d="M348 276h2v2h-2z"/>
<path fill="#fcfc60" d="M350 276h2v2h-2z"/>
<path fill="#fcf054" d="M352 276h2v2h-2z"/>
<path fill="#fce454" d="M354 276h2v2h-2z"/>
<path fill="#fcd848" d="M356 276h2v2h-2z"/>
<path fill="#fccc3c" d="M358 276h2v2h-2z"/>
<path fill="#fcc030" d="M360 276h2v2h-2z"/>
<path fill="#fcb430" d="M362 276h2v2h-2z"/>
<path fill="#fca824" d="M364 276h2v2h-2z"/>
<path fill="#fc9c18" d="M366 276h2v2h-2z"/>
<path fill="#fc900c" d="M368 276h2v2h-2z"/>
<path fill="#fc4800" d="M396 276h2v2h-2zM398 276h2v2h-2zM400 276h2v2h-2zM402 276h2v2h-2zM388 278h2v2h-2zM390 278h2v2h-2zM392 278h2v2h-2zM394 278h2v2h-2zM396 278h2v2h-2zM398 278h2v2h-2zM380 280h2v2h-2zM382 280h2v2h-2zM384 280h2v2h-2zM386 280h2v2h-2zM388 280h2v2h-2zM374 282h2v2h-2zM376 282h2v2h-2z"/>
<path fill="#0cfcd8" d="M310 278h2v2h-2z"/>
<path fill="#18fcd8" d="M312 278h2v2h-2z"/>
<path fill="#24fcd8" d="M314 278h2v2h-2z"/>
<path fill="#30fcd8" d="M316 278h2v2h-2z"/>
<path fill="#3cfcd8" d="M318 278h2v2h-2z"/>
<path fill="#48fcd8" d="M320 278h2v2h-2zM322 278h2v2h-2zM320 280h2v2h-2z"/>
<path fill="#54fcd8" d="M324 278h2v2h-2z"/>
<path fill="#60fccc" d="M326 278h2v2h-2z"/>
<path fill="#6cfccc" d="M328 278h2v2h-2z"/>
<path fill="#78fccc" d="M330 278h2v2h-2z"/>
<path fill="#78fcc0" d="M332 278h2v2h-2zM334 278h2v2h-2z"/>
<path fill="#84fca8" d="M336 278h2v2h-2z"/>
<path fill="#84fc90" d="M338 278h2v2h-2z"/>
<path fill="#90fc84" d="M340 278h2v2h-2z"/>
<path fill="#a8fc84" d="M342 278h2v2h-2z"/>
<path fill="#ccfc84" d="M344 278h2v2h-2z"/>
<path fill="#e4fc78" d="M346 278h2v2h-2z"/>
<path fill="#fcfc78" d="M348 278h2v2h-2z"/>
<path fill="#fcf06c" d="M350 278h2v2h-2z"/>
<path fill="#fce46c" d="M352 278h2v2h-2z"/>
<path fill="#fcd860" d="M354 278h2v2h-2z"/>
<path fill="#fccc54" d="M356 278h2v2h-2z"/>
<path fill="#fcc048" d="M358 278h2v2h-2z"/>
<path fill="#fcb43c" d="M360 278h2v2h-2z"/>
<path fill="#fca830" d="M362 278h2v2h-2z"/>
<path fill="#fc9c30" d="M364 278h2v2h-2z"/>
<path fill="#fc9018" d="M366 278h2v2h-2z"/>
<path fill="#fc8418" d="M368 278h2v2h-2z"/>
<path fill="#fc780c" d="M370 278h2v2h-2z"/>
<path fill="#fc3c00" d="M400 278h2v2h-2zM402 278h2v2h-2zM404 278h2v2h-2zM390 280h2v2h-2zM392 280h2v2h-2zM394 280h2v2h-2zM396 280h2v2h-2zM398 280h2v2h-2zM400 280h2v2h-2zM378 282h2v2h-2zM380 282h2v2h-2zM382 282h2v2h-2zM384 282h2v2h-2zM386 282h2v2h-2zM374 284h2v2h-2z"/>
<path fill="#0cfce4" d="M308 280h2v2h-2z"/>
<path fill="#18fce4" d="M310 280h2v2h-2z"/>
<path fill="#24fce4" d="M312 280h2v2h-2z"/>
<path fill="#30fce4" d="M314 280h2v2h-2zM314 282h2v2h-2z"/>
<path fill="#3cfce4" d="M316 280h2v2h-2zM316 282h2v2h-2z"/>
<path fill="#48fce4" d="M318 280h2v2h-2zM318 282h2v2h-2z"/>
<path fill="#60fcd8" d="M322 280h2v2h-2zM324 280h2v2h-2z"/>
<path fill="#6cfcd8" d="M326 280h2v2h-2z"/>
<path fill="#78fcd8" d="M328 280h2v2h-2z"/>
<path fill="#84fcd8" d="M330 280h2v2h-2z"/>
<path fill="#90fccc" d="M332 280h2v2h-2zM334 280h2v2h-2z"/>
<path fill="#90fcc0" d="M336 280h2v2h-2z"/>
<path fill="#9cfca8" d="M338 280h2v2h-2z"/>
<path fill="#a8fc9c" d="M340 280h2v2h-2z"/>
<path fill="#c0fc9c" d="M342 280h2v2h-2z"/>
<path fill="#d8fc90" d="M344 280h2v2h-2z"/>
<path fill="#f0fc90" d="M346 280h2v2h-2z"/>
<path fill="#fcfc84" d="M348 280h2v2h-2z"/>
<path fill="#fcf084" d="M350 280h2v2h-2z"/>
<path fill="#fcd878" d="M352 280h2v2h-2z"/>
<path fill="#fccc6c" d="M354 280h2v2h-2z"/>
<path fill="#fcc060" d="M356 280h2v2h-2z"/>
<path fill="#fcb454" d="M358 280h2v2h-2z"/>
<path fill="#fca848" d="M360 280h2v2h-2z"/>
<path fill="#fc9c3c" d="M362 280h2v2h-2z"/>
<path fill="#fc9030" d="M364 280h2v2h-2z"/>
<path fill="#fc8424" d="M366 280h2v2h-2z"/>
<path fill="#fc7818" d="M368 280h2v2h-2z"/>
<path fill="#fc6c0c" d="M370 280h2v2h-2z"/>
<path fill="#fc3000" d="M402 280h2v2h-2zM404 280h2v2h-2zM406 280h2v2h-2zM408 280h2v2h-2zM388 282h2v2h-2zM390 282h2v2h-2zM392 282h2v2h-2zM394 282h2v2h-2zM396 282h2v2h-2zM398 282h2v2h-2zM400 282h2v2h-2zM402 282h2v2h-2zM404 282h2v2h-2zM406 282h2v2h-2zM408 282h2v2h-2zM410 282h2v2h-2zM376 284h2v2h-2zM378 284h2v2h-2zM380 284h2v2h-2zM382 284h2v2h-2zM384 284h2v2h-2zM386 284h2v2h-2zM388 284h2v2h-2zM390 284h2v2h-2z"/>
<path fill="#00fcfc" d="M278 282h2v2h-2zM280 282h2v2h-2zM282 282h2v2h-2zM284 282h2v2h-2zM278 284h2v2h-2zM280 284h2v2h-2zM282 284h2v2h-2zM284 284h2v2h-2zM286 284h2v2h-2zM288 284h2v2h-2zM290 284h2v2h-2zM292 284h2v2h-2zM294 284h2v2h-2zM296 284h2v2h-2zM298 284h2v2h-2zM300 284h2v2h-2zM278 286h2v2h-2zM280 286h2v2h-2zM282 286h2v2h-2zM284 286h2v2h-2zM286 286h2v2h-2zM288 286h2v2h-2zM290 286h2v2h-2zM292 286h2v2h-2zM294 286h2v2h-2zM296 286h2v2h-2zM298 286h2v2h-2zM300 286h2v2h-2zM302 286h2v2h-2zM304 286h2v2h-2zM278 288h2v2h-2zM280 288h2v2h-2zM282 288h2v2h-2zM284 288h2v2h-2zM286 288h2v2h-2zM288 288h2v2h-2zM290 288h2v2h-2zM292 288h2v2h-2zM294 288h2v2h-2zM296 288h2v2h-2zM298 288h2v2h-2zM300 288h2v2h-2zM302 288h2v2h-2zM304 288h2v2h-2z"/>
<path fill="#0cfcf0" d="M308 282h2v2h-2z"/>
<path fill="#18fcf0" d="M310 282h2v2h-2zM308 284h2v2h-2z"/>
<path fill="#24fcf0" d="M312 282h2v2h-2zM310 284h2v2h-2z"/>
<path fill="#54fce4" d="M320 282h2v2h-2z"/>
<path fill="#60fce4" d="M322 282h2v2h-2z"/>
<path fill="#6cfce4" d="M324 282h2v2h-2z"/>
<path fill="#78fce4" d="M326 282h2v2h-2z"/>
<path fill="#84fce4" d="M328 282h2v2h-2z"/>
<path fill="#90fce4" d="M330 282h2v2h-2z"/>
<path fill="#9cfce4" d="M332 282h2v2h-2z"/>
<path fill="#a8fcd8" d="M334 282h2v2h-2zM336 282h2v2h-2z"/>
<path fill="#a8fcc0" d="M338 282h2v2h-2z"/>
<path fill="#b4fca8" d="M340 282h2v2h-2z"/>
<path fill="#d8fca8" d="M342 282h2v2h-2z"/>
<path fill="#f0fca8" d="M344 282h2v2h-2z"/>
<path fill="#fcfc9c" d="M346 282h2v2h-2z"/>
<path fill="#fcf09c" d="M348 282h2v2h-2z"/>
<path fill="#fce490" d="M350 282h2v2h-2z"/>
<path fill="#fcd884" d="M352 282h2v2h-2z"/>
<path fill="#fcc078" d="M354 282h2v2h-2z"/>
<path fill="#fcb46c" d="M356 282h2v2h-2z"/>
<path fill="#fca860" d="M358 282h2v2h-2z"/>
<path fill="#fc9c54" d="M360 282h2v2h-2z"/>
<path fill="#fc9048" d="M362 282h2v2h-2z"/>
<path fill="#fc843c" d="M364 282h2v2h-2z"/>
<path fill="#fc7830" d="M366 282h2v2h-2z"/>
<path fill="#fc6c24" d="M368 282h2v2h-2z"/>
<path fill="#fc6018" d="M370 282h2v2h-2z"/>
<path fill="#fc540c" d="M372 282h2v2h-2z"/>
<path fill="#30fcf0" d="M312 284h2v2h-2z"/>
<path fill="#3cfcf0" d="M314 284h2v2h-2z"/>
<path fill="#48fcf0" d="M316 284h2v2h-2z"/>
<path fill="#54fcf0" d="M318 284h2v2h-2z"/>
<path fill="#60fcf0" d="M320 284h2v2h-2z"/>
<path fill="#6cfcf0" d="M322 284h2v2h-2z"/>
<path fill="#78fcf0" d="M324 284h2v2h-2z"/>
<path fill="#84fcf0" d="M326 284h2v2h-2zM324 286h2v2h-2z"/>
<path fill="#90fcf0" d="M328 284h2v2h-2zM326 286h2v2h-2z"/>
<path fill="#9cfcf0" d="M330 284h2v2h-2zM328 286h2v2h-2z"/>
<path fill="#a8fcf0" d="M332 284h2v2h-2zM330 286h2v2h-2z"/>
<path fill="#b4fce4" d="M334 284h2v2h-2z"/>
<path fill="#c0fce4" d="M336 284h2v2h-2z"/>
<path fill="#c0fcd8" d="M338 284h2v2h-2z"/>
<path fill="#ccfcc0" d="M340 284h2v2h-2z"/>
<path fill="#e4fcc0" d="M342 284h2v2h-2z"/>
<path fill="#fcfcc0" d="M344 284h2v2h-2z"/>
<path fill="#fcf0b4" d="M346 284h2v2h-2z"/>
<path fill="#fce4a8" d="M348 284h2v2h-2z"/>
<path fill="#fcd89c" d="M350 284h2v2h-2z"/>
<path fill="#fcc090" d="M352 284h2v2h-2z"/>
<path fill="#fcb484" d="M354 284h2v2h-2z"/>
<path fill="#fca878" d="M356 284h2v2h-2z"/>
<path fill="#fc9c6c" d="M358 284h2v2h-2z"/>
<path fill="#fc9060" d="M360 284h2v2h-2z"/>
<path fill="#fc8448" d="M362 284h2v2h-2z"/>
<path fill="#fc783c" d="M364 284h2v2h-2z"/>
<path fill="#fc6c30" d="M366 284h2v2h-2z"/>
<path fill="#fc6024" d="M368 284h2v2h-2z"/>
<path fill="#fc5418" d="M370 284h2v2h-2z"/>
<path fill="#fc480c" d="M372 284h2v2h-2z"/>
<path fill="#fc2400" d="M392 284h2v2h-2zM394 284h2v2h-2zM396 284h2v2h-2zM398 284h2v2h-2zM400 284h2v2h-2zM402 284h2v2h-2zM404 284h2v2h-2zM406 284h2v2h-2zM408 284h2v2h-2zM410 284h2v2h-2zM412 284h2v2h-2zM414 284h2v2h-2zM374 286h2v2h-2zM376 286h2v2h-2zM378 286h2v2h-2zM380 286h2v2h-2zM382 286h2v2h-2zM384 286h2v2h-2zM386 286h2v2h-2zM388 286h2v2h-2z"/>
<path fill="#0cfcfc" d="M306 286h2v2h-2zM306 288h2v2h-2z"/>
<path fill="#18fcfc" d="M308 286h2v2h-2zM308 288h2v2h-2z"/>
<path fill="#24fcfc" d="M310 286h2v2h-2zM310 288h2v2h-2z"/>
<path fill="#30fcfc" d="M312 286h2v2h-2zM312 288h2v2h-2z"/>
<path fill="#3cfcfc" d="M314 286h2v2h-2zM314 288h2v2h-2z"/>
<path fill="#48fcfc" d="M316 286h2v2h-2zM316 288h2v2h-2z"/>
<path fill="#54fcfc" d="M318 286h2v2h-2z"/>
<path fill="#60fcfc" d="M320 286h2v2h-2zM318 288h2v2h-2z"/>
<path fill="#78fcfc" d="M322 286h2v2h-2zM322 288h2v2h-2z"/>
<path fill="#b4fcf0" d="M332 286h2v2h-2z"/>
<path fill="#c0fcf0" d="M334 286h2v2h-2z"/>
<path fill="#ccfcf0" d="M336 286h2v2h-2z"/>
<path fill="#d8fcf0" d="M338 286h2v2h-2z"/>
<path fill="#e4fcd8" d="M340 286h2v2h-2z"/>
<path fill="#fcfcd8" d="M342 286h2v2h-2z"/>
<path fill="#fcf0cc" d="M344 286h2v2h-2z"/>
<path fill="#fce4c0" d="M346 286h2v2h-2z"/>
<path fill="#fcd8b4" d="M348 286h2v2h-2z"/>
<path fill="#fcc0a8" d="M350 286h2v2h-2z"/>
<path fill="#fcb490" d="M352 286h2v2h-2z"/>
<path fill="#fca884" d="M354 286h2v2h-2z"/>
<path fill="#fc9c78" d="M356 286h2v2h-2z"/>
<path fill="#fc906c" d="M358 286h2v2h-2z"/>
<path fill="#fc8460" d="M360 286h2v2h-2z"/>
<path fill="#fc7854" d="M362 286h2v2h-2z"/>
<path fill="#fc6c48" d="M364 286h2v2h-2z"/>
<path fill="#fc603c" d="M366 286h2v2h-2z"/>
<path fill="#fc5430" d="M368 286h2v2h-2z"/>
<path fill="#fc4818" d="M370 286h2v2h-2z"/>
<path fill="#fc300c" d="M372 286h2v2h-2z"/>
<path fill="#fc1800" d="M390 286h2v2h-2zM392 286h2v2h-2zM394 286h2v2h-2zM396 286h2v2h-2zM398 286h2v2h-2zM400 286h2v2h-2zM402 286h2v2h-2zM404 286h2v2h-2zM406 286h2v2h-2zM408 286h2v2h-2zM410 286h2v2h-2zM412 286h2v2h-2zM414 286h2v2h-2zM416 286h2v2h-2zM374 288h2v2h-2zM376 288h2v2h-2zM378 288h2v2h-2zM380 288h2v2h-2zM382 288h2v2h-2zM384 288h2v2h-2zM386 288h2v2h-2zM388 288h2v2h-2zM390 288h2v2h-2zM392 288h2v2h-2zM394 288h2v2h-2zM396 288h2v2h-2zM398 288h2v2h-2zM400 288h2v2h-2zM402 288h2v2h-2z"/>
<path fill="#6cfcfc" d="M320 288h2v2h-2z"/>
<path fill="#84fcfc" d="M324 288h2v2h-2z"/>
<path fill="#90fcfc" d="M326 288h2v2h-2z"/>
<path fill="#9cfcfc" d="M328 288h2v2h-2zM328 290h2v2h-2z"/>
<path fill="#a8fcfc" d="M330 288h2v2h-2zM330 290h2v2h-2z"/>
<path fill="#c0fcfc" d="M332 288h2v2h-2zM332 290h2v2h-2z"/>
<path fill="#ccfcfc" d="M334 288h2v2h-2zM334 290h2v2h-2z"/>
<path fill="#d8fcfc" d="M336 288h2v2h-2zM336 290h2v2h-2z"/>
<path fill="#f0fcfc" d="M338 288h2v2h-2zM338 290h2v2h-2z"/>
<path fill="#fcfcf0" d="M340 288h2v2h-2z"/>
<path fill="#fcf0e4" d="M342 288h2v2h-2z"/>
<path fill="#fce4d8" d="M344 288h2v2h-2z"/>
<path fill="#fcd8cc" d="M346 288h2v2h-2z"/>
<path fill="#fcc0b4" d="M348 288h2v2h-2z"/>
<path fill="#fcb4a8" d="M350 288h2v2h-2z"/>
<path fill="#fca89c" d="M352 288h2v2h-2z"/>
<path fill="#fc9c90" d="M354 288h2v2h-2z"/>
<path fill="#fc9084" d="M356 288h2v2h-2z"/>
<path fill="#fc846c" d="M358 288h2v2h-2z"/>
<path fill="#fc7860" d="M360 288h2v2h-2z"/>
<path fill="#fc6c54" d="M362 288h2v2h-2z"/>
<path fill="#fc6048" d="M364 288h2v2h-2z"/>
<path fill="#fc483c" d="M366 288h2v2h-2z"/>
<path fill="#fc3c30" d="M368 288h2v2h-2z"/>
<path fill="#fc3024" d="M370 288h2v2h-2z"/>
<path fill="#fc2418" d="M372 288h2v2h-2z"/>
<path fill="#fc0c00" d="M404 288h2v2h-2zM406 288h2v2h-2zM408 288h2v2h-2zM410 288h2v2h-2zM412 288h2v2h-2zM414 288h2v2h-2zM416 288h2v2h-2zM418 288h2v2h-2zM374 290h2v2h-2zM388 290h2v2h-2zM390 290h2v2h-2zM392 290h2v2h-2zM394 290h2v2h-2zM396 290h2v2h-2zM398 290h2v2h-2zM400 290h2v2h-2zM402 290h2v2h-2zM404 290h2v2h-2zM406 290h2v2h-2zM408 290h2v2h-2zM410 290h2v2h-2zM412 290h2v2h-2zM414 290h2v2h-2zM416 290h2v2h-2zM418 290h2v2h-2zM420 290h2v2h-2zM422 290h2v2h-2z"/>
<path fill="#00f0fc" d="M280 290h2v2h-2zM282 290h2v2h-2zM284 290h2v2h-2zM286 290h2v2h-2zM288 290h2v2h-2zM290 290h2v2h-2zM292 290h2v2h-2zM294 290h2v2h-2zM296 290h2v2h-2zM298 290h2v2h-2zM300 290h2v2h-2zM302 290h2v2h-2zM304 290h2v2h-2zM280 292h2v2h-2zM282 292h2v2h-2zM284 292h2v2h-2zM286 292h2v2h-2zM288 292h2v2h-2zM290 292h2v2h-2zM292 292h2v2h-2zM294 292h2v2h-2zM296 292h2v2h-2zM298 292h2v2h-2zM300 292h2v2h-2z"/>
<path fill="#0cf0fc" d="M306 290h2v2h-2z"/>
<path fill="#18f0fc" d="M308 290h2v2h-2zM308 292h2v2h-2z"/>
<path fill="#24f0fc" d="M310 290h2v2h-2zM310 292h2v2h-2z"/>
<path fill="#30f0fc" d="M312 290h2v2h-2zM312 292h2v2h-2z"/>
<path fill="#3cf0fc" d="M314 290h2v2h-2zM314 292h2v2h-2z"/>
<path fill="#48f0fc" d="M316 290h2v2h-2zM316 292h2v2h-2z"/>
<path fill="#60f0fc" d="M318 290h2v2h-2zM320 292h2v2h-2z"/>
<path fill="#6cf0fc" d="M320 290h2v2h-2z"/>
<path fill="#78f0fc" d="M322 290h2v2h-2zM322 292h2v2h-2z"/>
<path fill="#84f0fc" d="M324 290h2v2h-2zM324 292h2v2h-2z"/>
<path fill="#90f0fc" d="M326 290h2v2h-2zM326 292h2v2h-2z"/>
<path fill="#fcf0fc" d="M340 290h2v2h-2z"/>
<path fill="#fce4f0" d="M342 290h2v2h-2z"/>
<path fill="#fcd8e4" d="M344 290h2v2h-2z"/>
<path fill="#fccccc" d="M346 290h2v2h-2z"/>
<path fill="#fcb4c0" d="M348 290h2v2h-2z"/>
<path fill="#fca8b4" d="M350 290h2v2h-2z"/>
<path fill="#fc9c9c" d="M352 290h2v2h-2z"/>
<path fill="#fc9090" d="M354 290h2v2h-2z"/>
<path fill="#fc8484" d="M356 290h2v2h-2z"/>
<path fill="#fc6c78" d="M358 290h2v2h-2z"/>
<path fill="#fc6060" d="M360 290h2v2h-2z"/>
<path fill="#fc5454" d="M362 290h2v2h-2z"/>
<path fill="#fc4848" d="M364 290h2v2h-2z"/>
<path fill="#fc3c3c" d="M366 290h2v2h-2z"/>
<path fill="#fc3030" d="M368 290h2v2h-2z"/>
<path fill="#fc2424" d="M370 290h2v2h-2z"/>
<path fill="#fc1818" d="M372 290h2v2h-2z"/>
<path fill="#fc0000" d="M376 290h2v2h-2zM378 290h2v2h-2zM380 290h2v2h-2zM382 290h2v2h-2zM384 290h2v2h-2zM386 290h2v2h-2zM390 292h2v2h-2zM392 292h2v2h-2zM394 292h2v2h-2zM396 292h2v2h-2zM398 292h2v2h-2zM400 292h2v2h-2zM402 292h2v2h-2zM404 292h2v2h-2zM406 292h2v2h-2zM408 292h2v2h-2zM410 292h2v2h-2zM412 292h2v2h-2zM414 292h2v2h-2zM416 292h2v2h-2zM418 292h2v2h-2zM420 292h2v2h-2zM422 292h2v2h-2zM424 292h2v2h-2zM422 294h2v2h-2zM424 294h2v2h-2zM426 294h2v2h-2zM428 294h2v2h-2z"/>
<path fill="#00e4fc" d="M302 292h2v2h-2zM304 292h2v2h-2zM280 294h2v2h-2zM282 294h2v2h-2zM284 294h2v2h-2zM286 294h2v2h-2zM288 294h2v2h-2zM290 294h2v2h-2zM292 294h2v2h-2zM294 294h2v2h-2zM296 294h2v2h-2zM298 294h2v2h-2zM300 294h2v2h-2zM302 294h2v2h-2zM304 294h2v2h-2zM306 294h2v2h-2zM280 296h2v2h-2zM282 296h2v2h-2zM284 296h2v2h-2zM286 296h2v2h-2zM288 296h2v2h-2zM290 296h2v2h-2zM292 296h2v2h-2zM294 296h2v2h-2zM296 296h2v2h-2zM298 296h2v2h-2zM300 296h2v2h-2zM302 296h2v2h-2zM282 298h2v2h-2zM284 298h2v2h-2zM286 298h2v2h-2zM288 298h2v2h-2zM290 298h2v2h-2zM292 298h2v2h-2zM282 300h2v2h-2z"/>
<path fill="#0ce4fc" d="M306 292h2v2h-2z"/>
<path fill="#54f0fc" d="M318 292h2v2h-2z"/>
<path fill="#9cf0fc" d="M328 292h2v2h-2z"/>
<path fill="#a8f0fc" d="M330 292h2v2h-2z"/>
<path fill="#b4f0fc" d="M332 292h2v2h-2z"/>
<path fill="#c0f0fc" d="M334 292h2v2h-2z"/>
<path fill="#ccf0fc" d="M336 292h2v2h-2z"/>
<path fill="#d8d8fc" d="M338 292h2v2h-2z"/>
<path fill="#fcd8fc" d="M340 292h2v2h-2z"/>
<path fill="#fcd8f0" d="M342 292h2v2h-2z"/>
<path fill="#fccce4" d="M344 292h2v2h-2z"/>
<path fill="#fcc0d8" d="M346 292h2v2h-2z"/>
<path fill="#fcb4cc" d="M348 292h2v2h-2z"/>
<path fill="#fca8c0" d="M350 292h2v2h-2z"/>
<path fill="#fc9cb4" d="M352 292h2v2h-2z"/>
<path fill="#fc84a8" d="M354 292h2v2h-2z"/>
<path fill="#fc7890" d="M356 292h2v2h-2z"/>
<path fill="#fc6c84" d="M358 292h2v2h-2z"/>
<path fill="#fc6078" d="M360 292h2v2h-2z"/>
<path fill="#fc546c" d="M362 292h2v2h-2z"/>
<path fill="#fc4854" d="M364 292h2v2h-2z"/>
<path fill="#fc3c48" d="M366 292h2v2h-2z"/>
<path fill="#fc303c" d="M368 292h2v2h-2z"/>
<path fill="#fc1830" d="M370 292h2v2h-2z"/>
<path fill="#fc0c24" d="M372 292h2v2h-2z"/>
<path fill="#fc0018" d="M374 292h2v2h-2zM378 294h2v2h-2zM380 294h2v2h-2zM382 294h2v2h-2zM384 294h2v2h-2zM386 294h2v2h-2zM388 294h2v2h-2zM390 294h2v2h-2zM394 296h2v2h-2zM396 296h2v2h-2zM398 296h2v2h-2zM400 296h2v2h-2zM402 296h2v2h-2zM404 296h2v2h-2zM406 296h2v2h-2zM408 296h2v2h-2zM410 296h2v2h-2zM412 296h2v2h-2zM410 298h2v2h-2zM412 298h2v2h-2zM414 298h2v2h-2zM416 298h2v2h-2zM418 298h2v2h-2zM420 298h2v2h-2zM422 298h2v2h-2zM424 298h2v2h-2zM426 298h2v2h-2zM428 298h2v2h-2zM430 298h2v2h-2zM432 298h2v2h-2zM424 300h2v2h-2zM426 300h2v2h-2zM428 300h2v2h-2zM430 300h2v2h-2zM432 300h2v2h-2z"/>
<path fill="#fc000c" d="M376 292h2v2h-2zM378 292h2v2h-2zM380 292h2v2h-2zM382 292h2v2h-2zM384 292h2v2h-2zM386 292h2v2h-2zM388 292h2v2h-2zM392 294h2v2h-2zM394 294h2v2h-2zM396 294h2v2h-2zM398 294h2v2h-2zM400 294h2v2h-2zM402 294h2v2h-2zM404 294h2v2h-2zM406 294h2v2h-2zM408 294h2v2h-2zM410 294h2v2h-2zM412 294h2v2h-2zM414 294h2v2h-2zM416 294h2v2h-2zM418 294h2v2h-2zM420 294h2v2h-2zM414 296h2v2h-2zM416 296h2v2h-2zM418 296h2v2h-2zM420 296h2v2h-2zM422 296h2v2h-2zM424 296h2v2h-2zM426 296h2v2h-2zM428 296h2v2h-2zM430 296h2v2h-2z"/>
<path fill="#18e4fc" d="M308 294h2v2h-2z"/>
<path fill="#24e4fc" d="M310 294h2v2h-2zM312 296h2v2h-2z"/>
<path fill="#30e4fc" d="M312 294h2v2h-2zM314 296h2v2h-2z"/>
<path fill="#3ce4fc" d="M314 294h2v2h-2zM316 296h2v2h-2z"/>
<path fill="#48e4fc" d="M316 294h2v2h-2zM318 296h2v2h-2z"/>
<path fill="#54e4fc" d="M318 294h2v2h-2zM320 296h2v2h-2z"/>
<path fill="#60e4fc" d="M320 294h2v2h-2zM322 296h2v2h-2z"/>
<path fill="#6ce4fc" d="M322 294h2v2h-2zM324 296h2v2h-2z"/>
<path fill="#78e4fc" d="M324 294h2v2h-2zM326 296h2v2h-2z"/>
<path fill="#84e4fc" d="M326 294h2v2h-2zM328 296h2v2h-2z"/>
<path fill="#90e4fc" d="M328 294h2v2h-2z"/>
<path fill="#9ce4fc" d="M330 294h2v2h-2z"/>
<path fill="#a8e4fc" d="M332 294h2v2h-2z"/>
<path fill="#b4e4fc" d="M334 294h2v2h-2z"/>
<path fill="#c0ccfc" d="M336 294h2v2h-2z"/>
<path fill="#e4c0fc" d="M338 294h2v2h-2z"/>
<path fill="#fcc0fc" d="M340 294h2v2h-2zM342 294h2v2h-2z"/>
<path fill="#fcc0f0" d="M344 294h2v2h-2z"/>
<path fill="#fcb4e4" d="M346 294h2v2h-2z"/>
<path fill="#fca8d8" d="M348 294h2v2h-2z"/>
<path fill="#fc9ccc" d="M350 294h2v2h-2z"/>
<path fill="#fc90c0" d="M352 294h2v2h-2z"/>
<path fill="#fc84b4" d="M354 294h2v2h-2z"/>
<path fill="#fc78a8" d="M356 294h2v2h-2z"/>
<path fill="#fc6c90" d="M358 294h2v2h-2z"/>
<path fill="#fc6084" d="M360 294h2v2h-2z"/>
<path fill="#fc4878" d="M362 294h2v2h-2z"/>
<path fill="#fc3c6c" d="M364 294h2v2h-2z"/>
<path fill="#fc3060" d="M366 294h2v2h-2z"/>
<path fill="#fc2454" d="M368 294h2v2h-2z"/>
<path fill="#fc1848" d="M370 294h2v2h-2z"/>
<path fill="#fc0c30" d="M372 294h2v2h-2z"/>
<path fill="#fc0024" d="M374 294h2v2h-2zM376 294h2v2h-2zM386 296h2v2h-2zM388 296h2v2h-2zM390 296h2v2h-2zM392 296h2v2h-2zM398 298h2v2h-2zM400 298h2v2h-2zM402 298h2v2h-2zM404 298h2v2h-2zM406 298h2v2h-2zM408 298h2v2h-2zM410 300h2v2h-2zM412 300h2v2h-2zM414 300h2v2h-2zM416 300h2v2h-2zM418 300h2v2h-2zM420 300h2v2h-2zM422 300h2v2h-2zM424 302h2v2h-2zM426 302h2v2h-2zM428 302h2v2h-2z"/>
<path fill="#00d8fc" d="M304 296h2v2h-2zM306 296h2v2h-2zM294 298h2v2h-2zM296 298h2v2h-2zM298 298h2v2h-2zM300 298h2v2h-2zM302 298h2v2h-2zM304 298h2v2h-2zM306 298h2v2h-2zM284 300h2v2h-2zM286 300h2v2h-2zM288 300h2v2h-2zM290 300h2v2h-2zM292 300h2v2h-2zM294 300h2v2h-2zM296 300h2v2h-2zM298 300h2v2h-2zM300 300h2v2h-2zM302 300h2v2h-2zM304 300h2v2h-2zM306 300h2v2h-2zM282 302h2v2h-2zM284 302h2v2h-2zM286 302h2v2h-2zM288 302h2v2h-2zM290 302h2v2h-2zM292 302h2v2h-2zM294 302h2v2h-2zM296 302h2v2h-2zM298 302h2v2h-2zM300 302h2v2h-2zM284 304h2v2h-2zM286 304h2v2h-2zM288 304h2v2h-2zM290 304h2v2h-2zM292 304h2v2h-2zM294 304h2v2h-2zM284 306h2v2h-2zM286 306h2v2h-2zM288 306h2v2h-2z"/>
<path fill="#0cd8fc" d="M308 296h2v2h-2zM308 298h2v2h-2z"/>
<path fill="#18d8fc" d="M310 296h2v2h-2zM310 298h2v2h-2zM312 300h2v2h-2z"/>
<path fill="#90d8fc" d="M330 296h2v2h-2z"/>
<path fill="#9cd8fc" d="M332 296h2v2h-2z"/>
<path fill="#a8c0fc" d="M334 296h2v2h-2z"/>
<path fill="#c0a8fc" d="M336 296h2v2h-2z"/>
<path fill="#e4a8fc" d="M338 296h2v2h-2z"/>
<path fill="#f0b4fc" d="M340 296h2v2h-2z"/>
<path fill="#fca8fc" d="M342 296h2v2h-2z"/>
<path fill="#fca8f0" d="M344 296h2v2h-2z"/>
<path fill="#fc9ce4" d="M346 296h2v2h-2z"/>
<path fill="#fc9cd8" d="M348 296h2v2h-2z"/>
<path fill="#fc90cc" d="M350 296h2v2h-2z"/>
<path fill="#fc84c0" d="M352 296h2v2h-2z"/>
<path fill="#fc78b4" d="M354 296h2v2h-2z"/>
<path fill="#fc6ca8" d="M356 296h2v2h-2z"/>
<path fill="#fc609c" d="M358 296h2v2h-2z"/>
<path fill="#fc5490" d="M360 296h2v2h-2z"/>
<path fill="#fc4884" d="M362 296h2v2h-2z"/>
<path fill="#fc3c78" d="M364 296h2v2h-2z"/>
<path fill="#fc306c" d="M366 296h2v2h-2z"/>
<path fill="#fc2460" d="M368 296h2v2h-2z"/>
<path fill="#fc1854" d="M370 296h2v2h-2z"/>
<path fill="#fc0c48" d="M372 296h2v2h-2z"/>
<path fill="#fc003c" d="M374 296h2v2h-2zM376 296h2v2h-2zM382 298h2v2h-2zM384 298h2v2h-2zM386 298h2v2h-2zM390 300h2v2h-2zM392 300h2v2h-2zM394 300h2v2h-2zM396 300h2v2h-2zM398 300h2v2h-2zM400 302h2v2h-2zM402 302h2v2h-2zM404 302h2v2h-2zM406 302h2v2h-2zM408 302h2v2h-2zM410 304h2v2h-2zM412 304h2v2h-2zM414 304h2v2h-2zM416 304h2v2h-2zM418 304h2v2h-2z"/>
<path fill="#fc0030" d="M378 296h2v2h-2zM380 296h2v2h-2zM382 296h2v2h-2zM384 296h2v2h-2zM388 298h2v2h-2zM390 298h2v2h-2zM392 298h2v2h-2zM394 298h2v2h-2zM396 298h2v2h-2zM400 300h2v2h-2zM402 300h2v2h-2zM404 300h2v2h-2zM406 300h2v2h-2zM408 300h2v2h-2zM410 302h2v2h-2zM412 302h2v2h-2zM414 302h2v2h-2zM416 302h2v2h-2zM418 302h2v2h-2zM420 302h2v2h-2zM422 302h2v2h-2zM420 304h2v2h-2zM422 304h2v2h-2z"/>
<path fill="#24d8fc" d="M312 298h2v2h-2zM314 300h2v2h-2z"/>
<path fill="#30d8fc" d="M314 298h2v2h-2zM316 300h2v2h-2z"/>
<path fill="#3cd8fc" d="M316 298h2v2h-2zM318 300h2v2h-2z"/>
<path fill="#48d8fc" d="M318 298h2v2h-2zM320 300h2v2h-2z"/>
<path fill="#54d8fc" d="M320 298h2v2h-2z"/>
<path fill="#60d8fc" d="M322 298h2v2h-2zM324 298h2v2h-2z"/>
<path fill="#6cd8fc" d="M326 298h2v2h-2z"/>
<path fill="#78ccfc" d="M328 298h2v2h-2z"/>
<path fill="#84c0fc" d="M330 298h2v2h-2z"/>
<path fill="#90b4fc" d="M332 298h2v2h-2z"/>
<path fill="#9090fc" d="M334 298h2v2h-2z"/>
<path fill="#cc90fc" d="M336 298h2v2h-2z"/>
<path fill="#e49cfc" d="M338 298h2v2h-2z"/>
<path fill="#f09cfc" d="M340 298h2v2h-2z"/>
<path fill="#fc9cfc" d="M342 298h2v2h-2z"/>
<path fill="#fc90f0" d="M344 298h2v2h-2z"/>
<path fill="#fc90e4" d="M346 298h2v2h-2z"/>
<path fill="#fc84d8" d="M348 298h2v2h-2z"/>
<path fill="#fc84cc" d="M350 298h2v2h-2z"/>
<path fill="#fc78c0" d="M352 298h2v2h-2z"/>
<path fill="#fc6cc0" d="M354 298h2v2h-2z"/>
<path fill="#fc60b4" d="M356 298h2v2h-2z"/>
<path fill="#fc54a8" d="M358 298h2v2h-2z"/>
<path fill="#fc489c" d="M360 298h2v2h-2z"/>
<path fill="#fc3c90" d="M362 298h2v2h-2z"/>
<path fill="#fc3084" d="M364 298h2v2h-2zM364 300h2v2h-2z"/>
<path fill="#fc2478" d="M366 298h2v2h-2zM366 300h2v2h-2z"/>
<path fill="#fc186c" d="M368 298h2v2h-2zM368 300h2v2h-2z"/>
<path fill="#fc0c60" d="M370 298h2v2h-2zM370 300h2v2h-2z"/>
<path fill="#fc0054" d="M372 298h2v2h-2zM374 300h2v2h-2zM376 300h2v2h-2zM378 300h2v2h-2zM380 302h2v2h-2zM382 302h2v2h-2zM384 302h2v2h-2zM386 302h2v2h-2zM386 304h2v2h-2zM388 304h2v2h-2zM390 304h2v2h-2zM392 304h2v2h-2zM392 306h2v2h-2zM394 306h2v2h-2zM396 306h2v2h-2zM398 306h2v2h-2zM400 306h2v2h-2zM398 308h2v2h-2zM400 308h2v2h-2zM402 308h2v2h-2zM404 308h2v2h-2zM406 308h2v2h-2zM404 310h2v2h-2z"/>
<path fill="#fc0048" d="M374 298h2v2h-2zM376 298h2v2h-2zM378 298h2v2h-2zM380 298h2v2h-2zM380 300h2v2h-2zM382 300h2v2h-2zM384 300h2v2h-2zM386 300h2v2h-2zM388 300h2v2h-2zM388 302h2v2h-2zM390 302h2v2h-2zM392 302h2v2h-2zM394 302h2v2h-2zM396 302h2v2h-2zM398 302h2v2h-2zM394 304h2v2h-2zM396 304h2v2h-2zM398 304h2v2h-2zM400 304h2v2h-2zM402 304h2v2h-2zM404 304h2v2h-2zM406 304h2v2h-2zM408 304h2v2h-2zM402 306h2v2h-2zM404 306h2v2h-2zM406 306h2v2h-2zM408 306h2v2h-2zM410 306h2v2h-2zM412 306h2v2h-2zM414 306h2v2h-2zM416 306h2v2h-2zM408 308h2v2h-2zM410 308h2v2h-2z"/>
<path fill="#00ccfc" d="M308 300h2v2h-2zM302 302h2v2h-2zM304 302h2v2h-2zM306 302h2v2h-2zM308 302h2v2h-2zM310 302h2v2h-2zM296 304h2v2h-2zM298 304h2v2h-2zM300 304h2v2h-2zM302 304h2v2h-2zM304 304h2v2h-2zM306 304h2v2h-2zM308 304h2v2h-2zM290 306h2v2h-2zM292 306h2v2h-2zM294 306h2v2h-2zM296 306h2v2h-2zM298 306h2v2h-2zM300 306h2v2h-2zM302 306h2v2h-2zM304 306h2v2h-2zM284 308h2v2h-2zM286 308h2v2h-2zM288 308h2v2h-2zM290 308h2v2h-2zM292 308h2v2h-2zM294 308h2v2h-2zM296 308h2v2h-2zM298 308h2v2h-2zM300 308h2v2h-2zM286 310h2v2h-2zM288 310h2v2h-2zM290 310h2v2h-2zM292 310h2v2h-2zM294 310h2v2h-2zM296 310h2v2h-2zM286 312h2v2h-2zM288 312h2v2h-2zM290 312h2v2h-2zM292 312h2v2h-2zM288 314h2v2h-2z"/>
<path fill="#0cccfc" d="M310 300h2v2h-2zM312 302h2v2h-2z"/>
<path fill="#48ccfc" d="M322 300h2v2h-2z"/>
<path fill="#54ccfc" d="M324 300h2v2h-2z"/>
<path fill="#60c0fc" d="M326 300h2v2h-2z"/>
<path fill="#6cc0fc" d="M328 300h2v2h-2z"/>
<path fill="#78a8fc" d="M330 300h2v2h-2z"/>
<path fill="#7884fc" d="M332 300h2v2h-2z"/>
<path fill="#a884fc" d="M334 300h2v2h-2z"/>
<path fill="#cc84fc" d="M336 300h2v2h-2z"/>
<path fill="#d884fc" d="M338 300h2v2h-2z"/>
<path fill="#f084fc" d="M340 300h2v2h-2z"/>
<path fill="#fc84fc" d="M342 300h2v2h-2z"/>
<path fill="#fc84f0" d="M344 300h2v2h-2z"/>
<path fill="#fc78e4" d="M346 300h2v2h-2z"/>
<path fill="#fc78d8" d="M348 300h2v2h-2z"/>
<path fill="#fc6cd8" d="M350 300h2v2h-2z"/>
<path fill="#fc6ccc" d="M352 300h2v2h-2z"/>
<path fill="#fc60c0" d="M354 300h2v2h-2z"/>
<path fill="#fc54b4" d="M356 300h2v2h-2z"/>
<path fill="#fc48a8" d="M358 300h2v2h-2z"/>
<path fill="#fc3c9c" d="M360 300h2v2h-2z"/>
<path fill="#fc3090" d="M362 300h2v2h-2z"/>
<path fill="#fc0060" d="M372 300h2v2h-2zM372 302h2v2h-2zM374 302h2v2h-2zM376 302h2v2h-2zM378 302h2v2h-2zM378 304h2v2h-2zM380 304h2v2h-2zM382 304h2v2h-2zM384 304h2v2h-2zM382 306h2v2h-2zM384 306h2v2h-2zM386 306h2v2h-2zM388 306h2v2h-2zM390 306h2v2h-2zM388 308h2v2h-2zM390 308h2v2h-2zM392 308h2v2h-2zM394 308h2v2h-2zM396 308h2v2h-2zM392 310h2v2h-2zM394 310h2v2h-2zM396 310h2v2h-2zM398 310h2v2h-2zM400 310h2v2h-2zM402 310h2v2h-2zM398 312h2v2h-2z"/>
<path fill="#18ccfc" d="M314 302h2v2h-2z"/>
<path fill="#24ccfc" d="M316 302h2v2h-2z"/>
<path fill="#30ccfc" d="M318 302h2v2h-2z"/>
<path fill="#3cc0fc" d="M320 302h2v2h-2zM322 302h2v2h-2z"/>
<path fill="#48b4fc" d="M324 302h2v2h-2z"/>
<path fill="#54b4fc" d="M326 302h2v2h-2z"/>
<path fill="#609cfc" d="M328 302h2v2h-2z"/>
<path fill="#6078fc" d="M330 302h2v2h-2z"/>
<path fill="#786cfc" d="M332 302h2v2h-2z"/>
<path fill="#b46cfc" d="M334 302h2v2h-2z"/>
<path fill="#cc6cfc" d="M336 302h2v2h-2z"/>
<path fill="#d878fc" d="M338 302h2v2h-2z"/>
<path fill="#f078fc" d="M340 302h2v2h-2z"/>
<path fill="#fc6cfc" d="M342 302h2v2h-2z"/>
<path fill="#fc6cf0" d="M344 302h2v2h-2zM346 302h2v2h-2z"/>
<path fill="#fc60e4" d="M348 302h2v2h-2z"/>
<path fill="#fc60d8" d="M350 302h2v2h-2z"/>
<path fill="#fc54cc" d="M352 302h2v2h-2z"/>
<path fill="#fc54c0" d="M354 302h2v2h-2z"/>
<path fill="#fc48b4" d="M356 302h2v2h-2z"/>
<path fill="#fc3ca8" d="M358 302h2v2h-2z"/>
<path fill="#fc30a8" d="M360 302h2v2h-2z"/>
<path fill="#fc309c" d="M362 302h2v2h-2z"/>
<path fill="#fc2490" d="M364 302h2v2h-2z"/>
<path fill="#fc1884" d="M366 302h2v2h-2z"/>
<path fill="#fc0c78" d="M368 302h2v2h-2z"/>
<path fill="#fc006c" d="M370 302h2v2h-2zM372 304h2v2h-2zM374 304h2v2h-2zM376 304h2v2h-2zM378 306h2v2h-2zM380 306h2v2h-2zM382 308h2v2h-2zM384 308h2v2h-2zM386 308h2v2h-2zM386 310h2v2h-2zM388 310h2v2h-2zM390 310h2v2h-2zM390 312h2v2h-2zM392 312h2v2h-2zM394 312h2v2h-2zM396 312h2v2h-2z"/>
<path fill="#00c0fc" d="M310 304h2v2h-2zM312 304h2v2h-2zM306 306h2v2h-2zM308 306h2v2h-2zM310 306h2v2h-2zM312 306h2v2h-2zM302 308h2v2h-2zM304 308h2v2h-2zM306 308h2v2h-2zM308 308h2v2h-2zM298 310h2v2h-2zM300 310h2v2h-2zM302 310h2v2h-2zM304 310h2v2h-2zM306 310h2v2h-2zM294 312h2v2h-2zM296 312h2v2h-2zM298 312h2v2h-2zM300 312h2v2h-2zM302 312h2v2h-2zM290 314h2v2h-2zM292 314h2v2h-2zM294 314h2v2h-2zM296 314h2v2h-2zM298 314h2v2h-2zM300 314h2v2h-2zM288 316h2v2h-2zM290 316h2v2h-2zM292 316h2v2h-2zM294 316h2v2h-2zM296 316h2v2h-2zM290 318h2v2h-2zM292 318h2v2h-2zM290 320h2v2h-2z"/>
<path fill="#0cc0fc" d="M314 304h2v2h-2z"/>
<path fill="#18c0fc" d="M316 304h2v2h-2z"/>
<path fill="#24b4fc" d="M318 304h2v2h-2z"/>
<path fill="#30b4fc" d="M320 304h2v2h-2z"/>
<path fill="#30a8fc" d="M322 304h2v2h-2z"/>
<path fill="#3ca8fc" d="M324 304h2v2h-2z"/>
<path fill="#4890fc" d="M326 304h2v2h-2z"/>
<path fill="#4878fc" d="M328 304h2v2h-2z"/>
<path fill="#5454fc" d="M330 304h2v2h-2z"/>
<path fill="#8454fc" d="M332 304h2v2h-2z"/>
<path fill="#b460fc" d="M334 304h2v2h-2z"/>
<path fill="#c060fc" d="M336 304h2v2h-2z"/>
<path fill="#d860fc" d="M338 304h2v2h-2z"/>
<path fill="#e460fc" d="M340 304h2v2h-2z"/>
<path fill="#fc60fc" d="M342 304h2v2h-2zM344 304h2v2h-2z"/>
<path fill="#fc54f0" d="M346 304h2v2h-2z"/>
<path fill="#fc54e4" d="M348 304h2v2h-2z"/>
<path fill="#fc54d8" d="M350 304h2v2h-2z"/>
<path fill="#fc48cc" d="M352 304h2v2h-2z"/>
<path fill="#fc3cc0" d="M354 304h2v2h-2zM356 304h2v2h-2z"/>
<path fill="#fc30b4" d="M358 304h2v2h-2z"/>
<path fill="#fc24a8" d="M360 304h2v2h-2z"/>
<path fill="#fc189c" d="M362 304h2v2h-2z"/>
<path fill="#fc1890" d="M364 304h2v2h-2z"/>
<path fill="#fc0c84" d="M366 304h2v2h-2z"/>
<path fill="#fc0078" d="M368 304h2v2h-2zM370 304h2v2h-2zM372 306h2v2h-2zM374 306h2v2h-2zM376 306h2v2h-2zM374 308h2v2h-2zM376 308h2v2h-2zM378 308h2v2h-2zM380 308h2v2h-2zM378 310h2v2h-2zM380 310h2v2h-2zM382 310h2v2h-2zM384 310h2v2h-2zM382 312h2v2h-2zM384 312h2v2h-2zM386 312h2v2h-2zM388 312h2v2h-2zM386 314h2v2h-2zM388 314h2v2h-2zM390 314h2v2h-2zM392 314h2v2h-2z"/>
<path fill="#00b4fc" d="M314 306h2v2h-2zM310 308h2v2h-2zM312 308h2v2h-2zM308 310h2v2h-2zM304 312h2v2h-2zM306 312h2v2h-2zM302 314h2v2h-2zM298 316h2v2h-2zM300 316h2v2h-2zM294 318h2v2h-2zM296 318h2v2h-2zM292 320h2v2h-2zM294 320h2v2h-2z"/>
<path fill="#0ca8fc" d="M316 306h2v2h-2z"/>
<path fill="#18a8fc" d="M318 306h2v2h-2z"/>
<path fill="#189cfc" d="M320 306h2v2h-2z"/>
<path fill="#249cfc" d="M322 306h2v2h-2z"/>
<path fill="#3084fc" d="M324 306h2v2h-2z"/>
<path fill="#306cfc" d="M326 306h2v2h-2z"/>
<path fill="#3c48fc" d="M328 306h2v2h-2z"/>
<path fill="#603cfc" d="M330 306h2v2h-2z"/>
<path fill="#9048fc" d="M332 306h2v2h-2z"/>
<path fill="#b448fc" d="M334 306h2v2h-2z"/>
<path fill="#c048fc" d="M336 306h2v2h-2z"/>
<path fill="#d848fc" d="M338 306h2v2h-2z"/>
<path fill="#e448fc" d="M340 306h2v2h-2z"/>
<path fill="#f048fc" d="M342 306h2v2h-2z"/>
<path fill="#fc48fc" d="M344 306h2v2h-2z"/>
<path fill="#fc48f0" d="M346 306h2v2h-2z"/>
<path fill="#fc48e4" d="M348 306h2v2h-2z"/>
<path fill="#fc3cd8" d="M350 306h2v2h-2zM352 306h2v2h-2z"/>
<path fill="#fc30cc" d="M354 306h2v2h-2z"/>
<path fill="#fc30c0" d="M356 306h2v2h-2z"/>
<path fill="#fc24b4" d="M358 306h2v2h-2z"/>
<path fill="#fc18a8" d="M360 306h2v2h-2z"/>
<path fill="#fc0c9c" d="M362 306h2v2h-2z"/>
<path fill="#fc0c90" d="M364 306h2v2h-2z"/>
<path fill="#fc0090" d="M366 306h2v2h-2zM366 308h2v2h-2zM368 308h2v2h-2zM368 310h2v2h-2zM370 310h2v2h-2zM372 310h2v2h-2zM372 312h2v2h-2zM374 312h2v2h-2zM374 314h2v2h-2zM376 314h2v2h-2zM378 314h2v2h-2zM376 316h2v2h-2zM378 316h2v2h-2zM380 316h2v2h-2zM380 318h2v2h-2z"/>
<path fill="#fc0084" d="M368 306h2v2h-2zM370 306h2v2h-2zM370 308h2v2h-2zM372 308h2v2h-2zM374 310h2v2h-2zM376 310h2v2h-2zM376 312h2v2h-2zM378 312h2v2h-2zM380 312h2v2h-2zM380 314h2v2h-2zM382 314h2v2h-2zM384 314h2v2h-2zM382 316h2v2h-2zM384 316h2v2h-2zM386 316h2v2h-2z"/>
<path fill="#00a8fc" d="M314 308h2v2h-2zM310 310h2v2h-2zM312 310h2v2h-2zM308 312h2v2h-2zM304 314h2v2h-2zM306 314h2v2h-2zM302 316h2v2h-2zM304 316h2v2h-2zM298 318h2v2h-2zM300 318h2v2h-2zM296 320h2v2h-2zM298 320h2v2h-2zM292 322h2v2h-2zM294 322h2v2h-2zM296 322h2v2h-2zM292 324h2v2h-2zM294 324h2v2h-2z"/>
<path fill="#009cfc" d="M316 308h2v2h-2zM314 310h2v2h-2zM310 312h2v2h-2zM312 312h2v2h-2zM308 314h2v2h-2zM306 316h2v2h-2zM302 318h2v2h-2zM304 318h2v2h-2zM300 320h2v2h-2zM302 320h2v2h-2zM298 322h2v2h-2zM300 322h2v2h-2zM296 324h2v2h-2zM298 324h2v2h-2zM294 326h2v2h-2z"/>
<path fill="#0090fc" d="M318 308h2v2h-2zM316 310h2v2h-2zM314 312h2v2h-2zM310 314h2v2h-2zM312 314h2v2h-2zM308 316h2v2h-2zM310 316h2v2h-2zM306 318h2v2h-2zM308 318h2v2h-2zM304 320h2v2h-2zM306 320h2v2h-2zM302 322h2v2h-2zM304 322h2v2h-2zM300 324h2v2h-2zM302 324h2v2h-2zM296 326h2v2h-2zM298 326h2v2h-2zM300 326h2v2h-2zM294 328h2v2h-2zM296 328h2v2h-2zM298 328h2v2h-2z"/>
<path fill="#0c90fc" d="M320 308h2v2h-2z"/>
<path fill="#1878fc" d="M322 308h2v2h-2z"/>
<path fill="#1860fc" d="M324 308h2v2h-2z"/>
<path fill="#243cfc" d="M326 308h2v2h-2z"/>
<path fill="#3024fc" d="M328 308h2v2h-2z"/>
<path fill="#6c30fc" d="M330 308h2v2h-2z"/>
<path fill="#9c30fc" d="M332 308h2v2h-2z"/>
<path fill="#a830fc" d="M334 308h2v2h-2z"/>
<path fill="#c03cfc" d="M336 308h2v2h-2z"/>
<path fill="#cc3cfc" d="M338 308h2v2h-2z"/>
<path fill="#e43cfc" d="M340 308h2v2h-2z"/>
<path fill="#f03cfc" d="M342 308h2v2h-2z"/>
<path fill="#fc3cfc" d="M344 308h2v2h-2z"/>
<path fill="#fc30f0" d="M346 308h2v2h-2z"/>
<path fill="#fc30e4" d="M348 308h2v2h-2zM350 308h2v2h-2z"/>
<path fill="#fc24d8" d="M352 308h2v2h-2z"/>
<path fill="#fc24cc" d="M354 308h2v2h-2z"/>
<path fill="#fc18c0" d="M356 308h2v2h-2z"/>
<path fill="#fc18b4" d="M358 308h2v2h-2z"/>
<path fill="#fc0ca8" d="M360 308h2v2h-2z"/>
<path fill="#fc009c" d="M362 308h2v2h-2zM364 308h2v2h-2zM364 310h2v2h-2zM366 310h2v2h-2zM368 312h2v2h-2zM370 312h2v2h-2zM370 314h2v2h-2zM372 314h2v2h-2zM372 316h2v2h-2zM374 316h2v2h-2zM374 318h2v2h-2zM376 318h2v2h-2zM378 318h2v2h-2z"/>
<path fill="#0084fc" d="M318 310h2v2h-2zM316 312h2v2h-2zM314 314h2v2h-2zM312 316h2v2h-2zM310 318h2v2h-2zM308 320h2v2h-2zM306 322h2v2h-2zM304 324h2v2h-2zM302 326h2v2h-2zM300 328h2v2h-2zM296 330h2v2h-2zM298 330h2v2h-2z"/>
<path fill="#0078fc" d="M320 310h2v2h-2zM318 312h2v2h-2zM316 314h2v2h-2zM314 316h2v2h-2zM312 318h2v2h-2zM310 320h2v2h-2zM308 322h2v2h-2zM306 324h2v2h-2zM304 326h2v2h-2zM302 328h2v2h-2zM300 330h2v2h-2zM298 332h2v2h-2z"/>
<path fill="#0054fc" d="M322 310h2v2h-2zM320 312h2v2h-2zM318 314h2v2h-2zM310 324h2v2h-2zM308 326h2v2h-2zM306 328h2v2h-2zM300 336h2v2h-2z"/>
<path fill="#0c30fc" d="M324 310h2v2h-2z"/>
<path fill="#1818fc" d="M326 310h2v2h-2z"/>
<path fill="#3c18fc" d="M328 310h2v2h-2z"/>
<path fill="#7818fc" d="M330 310h2v2h-2z"/>
<path fill="#9c24fc" d="M332 310h2v2h-2z"/>
<path fill="#a824fc" d="M334 310h2v2h-2z"/>
<path fill="#c024fc" d="M336 310h2v2h-2z"/>
<path fill="#cc24fc" d="M338 310h2v2h-2z"/>
<path fill="#d824fc" d="M340 310h2v2h-2z"/>
<path fill="#f024fc" d="M342 310h2v2h-2z"/>
<path fill="#fc24fc" d="M344 310h2v2h-2z"/>
<path fill="#fc24f0" d="M346 310h2v2h-2zM348 310h2v2h-2z"/>
<path fill="#fc18e4" d="M350 310h2v2h-2z"/>
<path fill="#fc18d8" d="M352 310h2v2h-2z"/>
<path fill="#fc0ccc" d="M354 310h2v2h-2z"/>
<path fill="#fc0cc0" d="M356 310h2v2h-2z"/>
<path fill="#fc00b4" d="M358 310h2v2h-2zM360 310h2v2h-2zM360 312h2v2h-2zM362 312h2v2h-2zM362 314h2v2h-2zM364 314h2v2h-2zM364 316h2v2h-2zM366 318h2v2h-2zM368 320h2v2h-2zM368 322h2v2h-2z"/>
<path fill="#fc00a8" d="M362 310h2v2h-2zM364 312h2v2h-2zM366 312h2v2h-2zM366 314h2v2h-2zM368 314h2v2h-2zM366 316h2v2h-2zM368 316h2v2h-2zM370 316h2v2h-2zM368 318h2v2h-2zM370 318h2v2h-2zM372 318h2v2h-2zM370 320h2v2h-2zM372 320h2v2h-2zM374 320h2v2h-2z"/>
<path fill="#0030fc" d="M322 312h2v2h-2zM318 318h2v2h-2zM316 320h2v2h-2zM312 326h2v2h-2zM310 328h2v2h-2zM308 330h2v2h-2zM306 334h2v2h-2zM304 336h2v2h-2z"/>
<path fill="#000cfc" d="M324 312h2v2h-2zM320 318h2v2h-2zM318 322h2v2h-2zM316 324h2v2h-2zM314 328h2v2h-2zM312 330h2v2h-2zM310 334h2v2h-2zM308 336h2v2h-2zM306 340h2v2h-2z"/>
<path fill="#1800fc" d="M326 312h2v2h-2zM324 316h2v2h-2zM320 322h2v2h-2zM318 326h2v2h-2zM314 332h2v2h-2zM312 336h2v2h-2zM310 340h2v2h-2z"/>
<path fill="#5400fc" d="M328 312h2v2h-2z"/>
<path fill="#840cfc" d="M330 312h2v2h-2z"/>
<path fill="#9c0cfc" d="M332 312h2v2h-2z"/>
<path fill="#a80cfc" d="M334 312h2v2h-2z"/>
<path fill="#b418fc" d="M336 312h2v2h-2z"/>
<path fill="#cc18fc" d="M338 312h2v2h-2z"/>
<path fill="#d818fc" d="M340 312h2v2h-2z"/>
<path fill="#f018fc" d="M342 312h2v2h-2z"/>
<path fill="#fc18fc" d="M344 312h2v2h-2z"/>
<path fill="#fc0cfc" d="M346 312h2v2h-2z"/>
<path fill="#fc0cf0" d="M348 312h2v2h-2z"/>
<path fill="#fc0ce4" d="M350 312h2v2h-2z"/>
<path fill="#fc00d8" d="M352 312h2v2h-2zM352 314h2v2h-2zM354 314h2v2h-2zM354 316h2v2h-2zM356 316h2v2h-2zM354 318h2v2h-2zM356 318h2v2h-2zM356 320h2v2h-2zM358 320h2v2h-2zM356 322h2v2h-2zM358 322h2v2h-2zM358 324h2v2h-2zM360 324h2v2h-2z"/>
<path fill="#fc00cc" d="M354 312h2v2h-2zM356 312h2v2h-2zM356 314h2v2h-2zM358 316h2v2h-2zM358 318h2v2h-2zM360 318h2v2h-2zM360 320h2v2h-2zM360 322h2v2h-2zM362 322h2v2h-2z"/>
<path fill="#fc00c0" d="M358 312h2v2h-2zM358 314h2v2h-2zM360 314h2v2h-2zM360 316h2v2h-2zM362 316h2v2h-2zM362 318h2v2h-2zM364 318h2v2h-2zM362 320h2v2h-2zM364 320h2v2h-2zM366 320h2v2h-2zM364 322h2v2h-2zM366 322h2v2h-2z"/>
<path fill="#003cfc" d="M320 314h2v2h-2zM318 316h2v2h-2zM314 322h2v2h-2zM312 324h2v2h-2zM310 326h2v2h-2zM306 332h2v2h-2zM304 334h2v2h-2zM302 336h2v2h-2z"/>
<path fill="#0018fc" d="M322 314h2v2h-2zM318 320h2v2h-2zM314 326h2v2h-2zM312 328h2v2h-2zM310 332h2v2h-2zM308 334h2v2h-2zM306 338h2v2h-2z"/>
<path fill="#0000fc" d="M324 314h2v2h-2zM322 316h2v2h-2zM320 320h2v2h-2zM316 326h2v2h-2zM312 332h2v2h-2zM310 336h2v2h-2zM308 338h2v2h-2z"/>
<path fill="#3000fc" d="M326 314h2v2h-2zM324 318h2v2h-2zM318 328h2v2h-2zM316 332h2v2h-2zM314 336h2v2h-2zM312 340h2v2h-2z"/>
<path fill="#6000fc" d="M328 314h2v2h-2zM326 318h2v2h-2zM324 322h2v2h-2zM322 326h2v2h-2zM320 330h2v2h-2zM318 334h2v2h-2zM316 338h2v2h-2z"/>
<path fill="#8400fc" d="M330 314h2v2h-2zM328 318h2v2h-2zM328 320h2v2h-2zM326 322h2v2h-2zM326 324h2v2h-2zM324 326h2v2h-2zM324 328h2v2h-2zM324 330h2v2h-2zM322 332h2v2h-2zM322 334h2v2h-2zM320 336h2v2h-2zM322 336h2v2h-2z"/>
<path fill="#9000fc" d="M332 314h2v2h-2zM330 316h2v2h-2zM330 318h2v2h-2zM330 320h2v2h-2zM328 322h2v2h-2zM328 324h2v2h-2zM326 326h2v2h-2zM328 326h2v2h-2zM326 328h2v2h-2zM326 330h2v2h-2zM324 332h2v2h-2zM326 332h2v2h-2zM324 334h2v2h-2zM324 336h2v2h-2z"/>
<path fill="#a800fc" d="M334 314h2v2h-2zM334 316h2v2h-2zM334 318h2v2h-2zM332 320h2v2h-2zM334 320h2v2h-2zM332 322h2v2h-2zM332 324h2v2h-2zM332 326h2v2h-2zM330 328h2v2h-2zM332 328h2v2h-2zM330 330h2v2h-2zM332 330h2v2h-2zM330 332h2v2h-2zM330 334h2v2h-2z"/>
<path fill="#b400fc" d="M336 314h2v2h-2zM336 316h2v2h-2zM336 318h2v2h-2zM334 322h2v2h-2zM334 324h2v2h-2zM334 326h2v2h-2zM334 328h2v2h-2zM334 330h2v2h-2zM332 332h2v2h-2zM334 332h2v2h-2z"/>
<path fill="#c000fc" d="M338 314h2v2h-2zM336 320h2v2h-2zM336 322h2v2h-2zM336 324h2v2h-2zM336 326h2v2h-2zM336 328h2v2h-2zM336 330h2v2h-2zM336 332h2v2h-2z"/>
<path fill="#d800fc" d="M340 314h2v2h-2zM340 316h2v2h-2zM340 318h2v2h-2zM340 320h2v2h-2zM340 322h2v2h-2zM340 324h2v2h-2zM340 326h2v2h-2zM340 328h2v2h-2zM340 330h2v2h-2z"/>
<path fill="#e400fc" d="M342 314h2v2h-2zM342 316h2v2h-2zM342 318h2v2h-2zM342 320h2v2h-2zM342 322h2v2h-2zM342 324h2v2h-2zM342 326h2v2h-2zM342 328h2v2h-2zM342 330h2v2h-2z"/>
<path fill="#fc00fc" d="M344 314h2v2h-2zM346 314h2v2h-2zM346 316h2v2h-2zM346 318h2v2h-2zM346 320h2v2h-2zM348 320h2v2h-2zM346 322h2v2h-2zM348 322h2v2h-2zM346 324h2v2h-2zM348 324h2v2h-2zM346 326h2v2h-2zM348 326h2v2h-2zM348 328h2v2h-2z"/>
<path fill="#fc00f0" d="M348 314h2v2h-2zM348 316h2v2h-2zM350 316h2v2h-2zM348 318h2v2h-2zM350 318h2v2h-2zM350 320h2v2h-2zM350 322h2v2h-2zM352 322h2v2h-2zM350 324h2v2h-2zM352 324h2v2h-2zM350 326h2v2h-2zM352 326h2v2h-2zM354 326h2v2h-2z"/>
<path fill="#fc00e4" d="M350 314h2v2h-2zM352 316h2v2h-2zM352 318h2v2h-2zM352 320h2v2h-2zM354 320h2v2h-2zM354 322h2v2h-2zM354 324h2v2h-2zM356 324h2v2h-2z"/>
<path fill="#0060fc" d="M316 316h2v2h-2zM314 318h2v2h-2zM312 320h2v2h-2zM310 322h2v2h-2zM308 324h2v2h-2zM304 330h2v2h-2zM302 332h2v2h-2zM300 334h2v2h-2z"/>
<path fill="#0024fc" d="M320 316h2v2h-2zM316 322h2v2h-2zM314 324h2v2h-2zM310 330h2v2h-2zM308 332h2v2h-2zM306 336h2v2h-2zM304 338h2v2h-2z"/>
<path fill="#4800fc" d="M326 316h2v2h-2zM324 320h2v2h-2zM322 324h2v2h-2zM320 328h2v2h-2zM318 332h2v2h-2zM316 336h2v2h-2z"/>
<path fill="#7800fc" d="M328 316h2v2h-2zM326 320h2v2h-2zM324 324h2v2h-2zM322 330h2v2h-2zM320 334h2v2h-2zM318 338h2v2h-2z"/>
<path fill="#9c00fc" d="M332 316h2v2h-2zM332 318h2v2h-2zM330 322h2v2h-2zM330 324h2v2h-2zM330 326h2v2h-2zM328 328h2v2h-2zM328 330h2v2h-2zM328 332h2v2h-2zM326 334h2v2h-2zM328 334h2v2h-2z"/>
<path fill="#cc00fc" d="M338 316h2v2h-2zM338 318h2v2h-2zM338 320h2v2h-2zM338 322h2v2h-2zM338 324h2v2h-2zM338 326h2v2h-2zM338 328h2v2h-2zM338 330h2v2h-2z"/>
<path fill="#f000fc" d="M344 316h2v2h-2zM344 318h2v2h-2zM344 320h2v2h-2zM344 322h2v2h-2zM344 324h2v2h-2zM344 326h2v2h-2zM344 328h2v2h-2zM346 328h2v2h-2z"/>
<path fill="#0048fc" d="M316 318h2v2h-2zM314 320h2v2h-2zM312 322h2v2h-2zM308 328h2v2h-2zM306 330h2v2h-2zM304 332h2v2h-2zM302 334h2v2h-2z"/>
<path fill="#0c00fc" d="M322 318h2v2h-2zM318 324h2v2h-2zM316 328h2v2h-2zM314 330h2v2h-2zM312 334h2v2h-2zM310 338h2v2h-2zM308 340h2v2h-2z"/>
<path fill="#2400fc" d="M322 320h2v2h-2zM320 324h2v2h-2zM316 330h2v2h-2zM314 334h2v2h-2zM312 338h2v2h-2z"/>
<path fill="#3c00fc" d="M322 322h2v2h-2zM320 326h2v2h-2zM318 330h2v2h-2zM316 334h2v2h-2zM314 338h2v2h-2z"/>
<path fill="#006cfc" d="M306 326h2v2h-2zM304 328h2v2h-2zM302 330h2v2h-2zM300 332h2v2h-2z"/>
<path fill="#6c00fc" d="M322 328h2v2h-2zM320 332h2v2h-2zM318 336h2v2h-2z"/>
</g>
<rect x="272.0" y="200.0" width="175.2" height="141.7" fill="none" stroke="#1a1a1a" stroke-width="1.1"/>
<line x1="272" y1="341.7" x2="272" y2="343.9" stroke="#1a1a1a" stroke-width="0.9" />
<text x="272" y="352.2" font-size="7.6" font-weight="bold" fill="#000" text-anchor="middle" font-family='"Liberation Sans", sans-serif' >0.0</text>
<line x1="269.8" y1="341.7" x2="272" y2="341.7" stroke="#1a1a1a" stroke-width="0.9" />
<text x="268.2" y="344.4" font-size="7.6" font-weight="bold" fill="#000" text-anchor="end" font-family='"Liberation Sans", sans-serif' >0.0</text>
<line x1="315.92" y1="341.7" x2="315.92" y2="343.9" stroke="#1a1a1a" stroke-width="0.9" />
<text x="315.92" y="352.2" font-size="7.6" font-weight="bold" fill="#000" text-anchor="middle" font-family='"Liberation Sans", sans-serif' >0.2</text>
<line x1="269.8" y1="310.3" x2="272" y2="310.3" stroke="#1a1a1a" stroke-width="0.9" />
<text x="268.2" y="313" font-size="7.6" font-weight="bold" fill="#000" text-anchor="end" font-family='"Liberation Sans", sans-serif' >0.2</text>
<line x1="359.84" y1="341.7" x2="359.84" y2="343.9" stroke="#1a1a1a" stroke-width="0.9" />
<text x="359.84" y="352.2" font-size="7.6" font-weight="bold" fill="#000" text-anchor="middle" font-family='"Liberation Sans", sans-serif' >0.4</text>
<line x1="269.8" y1="278.9" x2="272" y2="278.9" stroke="#1a1a1a" stroke-width="0.9" />
<text x="268.2" y="281.6" font-size="7.6" font-weight="bold" fill="#000" text-anchor="end" font-family='"Liberation Sans", sans-serif' >0.4</text>
<line x1="403.76" y1="341.7" x2="403.76" y2="343.9" stroke="#1a1a1a" stroke-width="0.9" />
<text x="403.76" y="352.2" font-size="7.6" font-weight="bold" fill="#000" text-anchor="middle" font-family='"Liberation Sans", sans-serif' >0.6</text>
<line x1="269.8" y1="247.5" x2="272" y2="247.5" stroke="#1a1a1a" stroke-width="0.9" />
<text x="268.2" y="250.2" font-size="7.6" font-weight="bold" fill="#000" text-anchor="end" font-family='"Liberation Sans", sans-serif' >0.6</text>
<line x1="447.68" y1="341.7" x2="447.68" y2="343.9" stroke="#1a1a1a" stroke-width="0.9" />
<text x="447.68" y="352.2" font-size="7.6" font-weight="bold" fill="#000" text-anchor="middle" font-family='"Liberation Sans", sans-serif' >0.8</text>
<line x1="269.8" y1="216.1" x2="272" y2="216.1" stroke="#1a1a1a" stroke-width="0.9" />
<text x="268.2" y="218.8" font-size="7.6" font-weight="bold" fill="#000" text-anchor="end" font-family='"Liberation Sans", sans-serif' >0.8</text>
<text x="355.6" y="366.8" font-size="9.3" font-weight="bold" fill="#000" text-anchor="middle" font-family='"Liberation Sans", sans-serif' >x</text>
<text transform="translate(249.0,278.0) rotate(-90)" font-size="9.3" font-weight="bold" text-anchor="middle" font-family='"Liberation Sans", sans-serif'>y</text>
<text x="236" y="203.4" font-size="10" font-weight="bold" fill="#000" text-anchor="start" font-family='"Liberation Sans", sans-serif' >d</text>
<text x="311" y="237.6" font-size="8.3" font-weight="bold" fill="#000" text-anchor="middle" font-family='"Liberation Sans", sans-serif' >Green</text>
<text x="312" y="247" font-size="8.3" font-weight="bold" fill="#000" text-anchor="middle" font-family='"Liberation Sans", sans-serif' >(0.24,0.56)</text>
<text x="363.4" y="251" font-size="8.3" font-weight="bold" fill="#000" text-anchor="middle" font-family='"Liberation Sans", sans-serif' >Yellow</text>
<text x="364.6" y="260.8" font-size="8.3" font-weight="bold" fill="#000" text-anchor="middle" font-family='"Liberation Sans", sans-serif' >(0.32,0.60)</text>
<text x="311.6" y="297.2" font-size="8.3" font-weight="bold" fill="#000" text-anchor="middle" font-family='"Liberation Sans", sans-serif' >Blue</text>
<text x="312.8" y="307" font-size="8.3" font-weight="bold" fill="#000" text-anchor="middle" font-family='"Liberation Sans", sans-serif' >(0.18,0.35)</text>
<text x="391.2" y="295.4" font-size="8.3" font-weight="bold" fill="#000" text-anchor="middle" font-family='"Liberation Sans", sans-serif' >Red (0.57,0.38)</text>
<circle cx="341" cy="247.6" r="1.5" fill="none" stroke="#111" stroke-width="0.8"/>
<circle cx="341" cy="251.5" r="1.5" fill="none" stroke="#111" stroke-width="0.8"/>
<circle cx="341" cy="255.5" r="1.5" fill="none" stroke="#111" stroke-width="0.8"/>
<path d="M325.2,254.6 L326.5,252.3 L327.8,254.6 Z" fill="none" stroke="#111" stroke-width="0.7"/>
<path d="M322.7,258.1 L324,255.8 L325.3,258.1 Z" fill="none" stroke="#111" stroke-width="0.7"/>
<path d="M320.2,261.6 L321.5,259.3 L322.8,261.6 Z" fill="none" stroke="#111" stroke-width="0.7"/>
<path d="M319.2,264.6 L320.5,262.3 L321.8,264.6 Z" fill="none" stroke="#111" stroke-width="0.7"/>
<path d="M316.2,264.6 L317.5,262.3 L318.8,264.6 Z" fill="none" stroke="#111" stroke-width="0.7"/>
<path d="M313.2,265.1 L314.5,262.8 L315.8,265.1 Z" fill="none" stroke="#111" stroke-width="0.7"/>
<path d="M311.5,263.2 v2.6 M313.5,263.2 v2.6" stroke="#444" stroke-width="0.4"/>
<path d="M311.5,277.5 v2.6 M313.5,277.5 v2.6" stroke="#444" stroke-width="0.4"/>
<path d="M313.5,277.5 v2.6 M315.5,277.5 v2.6" stroke="#444" stroke-width="0.4"/>
<path d="M310.5,284.2 v2.6 M312.5,284.2 v2.6" stroke="#444" stroke-width="0.4"/>
<circle cx="397.4" cy="278.8" r="1.4" fill="none" stroke="#222" stroke-width="0.6"/>
<circle cx="397.4" cy="281" r="1.4" fill="none" stroke="#222" stroke-width="0.6"/>
<polyline points="528.1,338.54 562.65,337.9 597.2,336.84 631.75,335.78 666.3,334.77" fill="none" stroke="#2cbb6c" stroke-width="1.1" stroke-linejoin="round" stroke-dasharray="2.6,2"/>
<polyline points="528.1,338.43 562.65,336.57 597.2,332.32 631.75,325.41 666.3,317.65" fill="none" stroke="#6f72cf" stroke-width="1.1" stroke-linejoin="round" stroke-dasharray="2.6,2"/>
<polyline points="528.1,337.9 562.65,331.26 597.2,312.65 631.75,280.22 666.3,240.34" fill="none" stroke="#2e86d4" stroke-width="1.1" stroke-linejoin="round" stroke-dasharray="2.6,2"/>
<polyline points="528.1,338.43 562.65,337.53 597.2,336.25 631.75,334.45 666.3,332.32" fill="none" stroke="#2cbb6c" stroke-width="1.4" stroke-linejoin="round" />
<path d="M528.1 336.5l1.9 1.9l-1.9 1.9l-1.9 -1.9z" fill="#2cbb6c"/>
<path d="M562.6 335.6l1.9 1.9l-1.9 1.9l-1.9 -1.9z" fill="#2cbb6c"/>
<path d="M597.2 334.4l1.9 1.9l-1.9 1.9l-1.9 -1.9z" fill="#2cbb6c"/>
<path d="M631.8 332.5l1.9 1.9l-1.9 1.9l-1.9 -1.9z" fill="#2cbb6c"/>
<path d="M666.3 330.4l1.9 1.9l-1.9 1.9l-1.9 -1.9z" fill="#2cbb6c"/>
<path d="M528.1 336.8V340.0M562.6 335.9V339.1M597.2 334.7V337.9M631.8 332.8V336.0M666.3 330.3V334.3" stroke="#2cbb6c" stroke-width="0.7" fill="none"/>
<path d="M528.1 335.3l1.5 1.5l-1.5 1.5l-1.5 -1.5zM528.1 338.5l1.5 1.5l-1.5 1.5l-1.5 -1.5zM562.6 334.4l1.5 1.5l-1.5 1.5l-1.5 -1.5zM562.6 337.6l1.5 1.5l-1.5 1.5l-1.5 -1.5zM597.2 333.2l1.5 1.5l-1.5 1.5l-1.5 -1.5zM597.2 336.4l1.5 1.5l-1.5 1.5l-1.5 -1.5zM631.8 331.3l1.5 1.5l-1.5 1.5l-1.5 -1.5zM631.8 334.5l1.5 1.5l-1.5 1.5l-1.5 -1.5zM666.3 328.8l1.5 1.5l-1.5 1.5l-1.5 -1.5zM666.3 332.8l1.5 1.5l-1.5 1.5l-1.5 -1.5z" stroke="#2cbb6c" stroke-width="0.6" fill="none" stroke-opacity="0.85"/>
<polyline points="528.1,338.17 562.65,336.04 597.2,329.87 631.75,320.89 666.3,311.27" fill="none" stroke="#6f72cf" stroke-width="1.2" stroke-linejoin="round" />
<path d="M528.1 336.3l1.9 1.9l-1.9 1.9l-1.9 -1.9z" fill="#6f72cf"/>
<path d="M562.6 334.1l1.9 1.9l-1.9 1.9l-1.9 -1.9z" fill="#6f72cf"/>
<path d="M597.2 328.0l1.9 1.9l-1.9 1.9l-1.9 -1.9z" fill="#6f72cf"/>
<path d="M631.8 319.0l1.9 1.9l-1.9 1.9l-1.9 -1.9z" fill="#6f72cf"/>
<path d="M666.3 309.4l1.9 1.9l-1.9 1.9l-1.9 -1.9z" fill="#6f72cf"/>
<path d="M528.1 336.6V339.8M562.6 334.4V337.6M597.2 328.3V331.5M631.8 318.9V322.9M666.3 308.3V314.3" stroke="#6f72cf" stroke-width="0.7" fill="none"/>
<path d="M528.1 335.1l1.5 1.5l-1.5 1.5l-1.5 -1.5zM528.1 338.3l1.5 1.5l-1.5 1.5l-1.5 -1.5zM562.6 332.9l1.5 1.5l-1.5 1.5l-1.5 -1.5zM562.6 336.1l1.5 1.5l-1.5 1.5l-1.5 -1.5zM597.2 326.8l1.5 1.5l-1.5 1.5l-1.5 -1.5zM597.2 330.0l1.5 1.5l-1.5 1.5l-1.5 -1.5zM631.8 317.4l1.5 1.5l-1.5 1.5l-1.5 -1.5zM631.8 321.4l1.5 1.5l-1.5 1.5l-1.5 -1.5zM666.3 306.8l1.5 1.5l-1.5 1.5l-1.5 -1.5zM666.3 312.8l1.5 1.5l-1.5 1.5l-1.5 -1.5z" stroke="#6f72cf" stroke-width="0.6" fill="none" stroke-opacity="0.85"/>
<polyline points="528.1,337.64 562.65,330.19 597.2,310.26 631.75,277.56 666.3,235.02" fill="none" stroke="#2e86d4" stroke-width="1.2" stroke-linejoin="round" />
<path d="M528.1 335.7l1.9 1.9l-1.9 1.9l-1.9 -1.9z" fill="#2e86d4"/>
<path d="M562.6 328.3l1.9 1.9l-1.9 1.9l-1.9 -1.9z" fill="#2e86d4"/>
<path d="M597.2 308.4l1.9 1.9l-1.9 1.9l-1.9 -1.9z" fill="#2e86d4"/>
<path d="M631.8 275.7l1.9 1.9l-1.9 1.9l-1.9 -1.9z" fill="#2e86d4"/>
<path d="M666.3 233.1l1.9 1.9l-1.9 1.9l-1.9 -1.9z" fill="#2e86d4"/>
<path d="M528.1 336.0V339.2M562.6 328.6V331.8M597.2 308.3V312.3M631.8 274.6V280.6M666.3 230.0V240.0" stroke="#2e86d4" stroke-width="0.7" fill="none"/>
<path d="M528.1 334.5l1.5 1.5l-1.5 1.5l-1.5 -1.5zM528.1 337.7l1.5 1.5l-1.5 1.5l-1.5 -1.5zM562.6 327.1l1.5 1.5l-1.5 1.5l-1.5 -1.5zM562.6 330.3l1.5 1.5l-1.5 1.5l-1.5 -1.5zM597.2 306.8l1.5 1.5l-1.5 1.5l-1.5 -1.5zM597.2 310.8l1.5 1.5l-1.5 1.5l-1.5 -1.5zM631.8 273.1l1.5 1.5l-1.5 1.5l-1.5 -1.5zM631.8 279.1l1.5 1.5l-1.5 1.5l-1.5 -1.5zM666.3 228.5l1.5 1.5l-1.5 1.5l-1.5 -1.5zM666.3 238.5l1.5 1.5l-1.5 1.5l-1.5 -1.5z" stroke="#2e86d4" stroke-width="0.6" fill="none" stroke-opacity="0.85"/>
<rect x="510.6" y="200.4" width="172.7" height="139.1" fill="none" stroke="#1a1a1a" stroke-width="1.1"/>
<line x1="508.2" y1="338.7" x2="510.6" y2="338.7" stroke="#1a1a1a" stroke-width="0.9" />
<text x="505.7" y="341.6" font-size="8.4" font-weight="bold" fill="#000" text-anchor="end" font-family='"Liberation Sans", sans-serif' >0</text>
<line x1="508.2" y1="306.8" x2="510.6" y2="306.8" stroke="#1a1a1a" stroke-width="0.9" />
<text x="505.7" y="309.7" font-size="8.4" font-weight="bold" fill="#000" text-anchor="end" font-family='"Liberation Sans", sans-serif' >600</text>
<line x1="508.2" y1="274.9" x2="510.6" y2="274.9" stroke="#1a1a1a" stroke-width="0.9" />
<text x="505.7" y="277.8" font-size="8.4" font-weight="bold" fill="#000" text-anchor="end" font-family='"Liberation Sans", sans-serif' >1,200</text>
<line x1="508.2" y1="243" x2="510.6" y2="243" stroke="#1a1a1a" stroke-width="0.9" />
<text x="505.7" y="245.9" font-size="8.4" font-weight="bold" fill="#000" text-anchor="end" font-family='"Liberation Sans", sans-serif' >1,800</text>
<line x1="508.2" y1="211.1" x2="510.6" y2="211.1" stroke="#1a1a1a" stroke-width="0.9" />
<text x="505.7" y="214" font-size="8.4" font-weight="bold" fill="#000" text-anchor="end" font-family='"Liberation Sans", sans-serif' >2,400</text>
<line x1="509.3" y1="322.75" x2="510.6" y2="322.75" stroke="#1a1a1a" stroke-width="0.9" />
<line x1="509.3" y1="290.85" x2="510.6" y2="290.85" stroke="#1a1a1a" stroke-width="0.9" />
<line x1="509.3" y1="258.95" x2="510.6" y2="258.95" stroke="#1a1a1a" stroke-width="0.9" />
<line x1="509.3" y1="227.05" x2="510.6" y2="227.05" stroke="#1a1a1a" stroke-width="0.9" />
<line x1="528.1" y1="339.5" x2="528.1" y2="341.9" stroke="#1a1a1a" stroke-width="0.9" />
<text x="528.1" y="351.1" font-size="8.4" font-weight="bold" fill="#000" text-anchor="middle" font-family='"Liberation Sans", sans-serif' >0.5</text>
<line x1="562.65" y1="339.5" x2="562.65" y2="341.9" stroke="#1a1a1a" stroke-width="0.9" />
<text x="562.65" y="351.1" font-size="8.4" font-weight="bold" fill="#000" text-anchor="middle" font-family='"Liberation Sans", sans-serif' >1.0</text>
<line x1="597.2" y1="339.5" x2="597.2" y2="341.9" stroke="#1a1a1a" stroke-width="0.9" />
<text x="597.2" y="351.1" font-size="8.4" font-weight="bold" fill="#000" text-anchor="middle" font-family='"Liberation Sans", sans-serif' >1.5</text>
<line x1="631.75" y1="339.5" x2="631.75" y2="341.9" stroke="#1a1a1a" stroke-width="0.9" />
<text x="631.75" y="351.1" font-size="8.4" font-weight="bold" fill="#000" text-anchor="middle" font-family='"Liberation Sans", sans-serif' >2.0</text>
<line x1="666.3" y1="339.5" x2="666.3" y2="341.9" stroke="#1a1a1a" stroke-width="0.9" />
<text x="666.3" y="351.1" font-size="8.4" font-weight="bold" fill="#000" text-anchor="middle" font-family='"Liberation Sans", sans-serif' >2.5</text>
<line x1="545.38" y1="339.5" x2="545.38" y2="340.8" stroke="#1a1a1a" stroke-width="0.9" />
<line x1="579.92" y1="339.5" x2="579.92" y2="340.8" stroke="#1a1a1a" stroke-width="0.9" />
<line x1="614.48" y1="339.5" x2="614.48" y2="340.8" stroke="#1a1a1a" stroke-width="0.9" />
<line x1="649.02" y1="339.5" x2="649.02" y2="340.8" stroke="#1a1a1a" stroke-width="0.9" />
<text transform="translate(480.3,277) rotate(-90)" font-size="9.6" font-weight="bold" text-anchor="middle" font-family='"Liberation Sans", sans-serif'>Luminance (cd m<tspan font-size="5.8" dy="-3.5">-2</tspan><tspan dy="3.5">)</tspan></text>
<text x="601" y="364.2" font-size="9.6" font-weight="bold" text-anchor="middle" font-family='"Liberation Sans", sans-serif'>Field (V μm<tspan font-size="5.8" dy="-3.5">-1</tspan><tspan dy="3.5">)</tspan></text>
<text x="469.5" y="203.2" font-size="10" font-weight="bold" fill="#000" text-anchor="start" font-family='"Liberation Sans", sans-serif' >e</text>
<text x="513.3" y="211" font-size="8.3" font-weight="bold" fill="#000" text-anchor="start" font-family='"Liberation Sans", sans-serif' >Yellow electrode</text>
<line x1="515.4" y1="219.4" x2="537.7" y2="219.4" stroke="#2cbb6c" stroke-width="1.3" />
<text x="543.5" y="222.3" font-size="8.3" font-weight="bold" fill="#000" text-anchor="start" font-family='"Liberation Sans", sans-serif' >70 μm</text>
<line x1="515.4" y1="230.3" x2="537.7" y2="230.3" stroke="#6f72cf" stroke-width="1.2" />
<text x="543.5" y="233.2" font-size="8.3" font-weight="bold" fill="#000" text-anchor="start" font-family='"Liberation Sans", sans-serif' >200 μm</text>
<line x1="515.4" y1="240.8" x2="537.7" y2="240.8" stroke="#2e86d4" stroke-width="1.2" />
<text x="543.5" y="243.7" font-size="8.3" font-weight="bold" fill="#000" text-anchor="start" font-family='"Liberation Sans", sans-serif' >800 μm</text>
<text x="513.3" y="257.1" font-size="8.3" font-weight="bold" fill="#000" text-anchor="start" font-family='"Liberation Sans", sans-serif' >Reference</text>
<line x1="515.4" y1="266.2" x2="537.7" y2="266.2" stroke="#2cbb6c" stroke-width="1.3" stroke-dasharray="4.4,3.6"/>
<text x="543.5" y="269.1" font-size="8.3" font-weight="bold" fill="#000" text-anchor="start" font-family='"Liberation Sans", sans-serif' >70 μm</text>
<line x1="515.4" y1="276.7" x2="537.7" y2="276.7" stroke="#6f72cf" stroke-width="1.3" stroke-dasharray="4.4,3.6"/>
<text x="543.5" y="279.6" font-size="8.3" font-weight="bold" fill="#000" text-anchor="start" font-family='"Liberation Sans", sans-serif' >200 μm</text>
<line x1="515.4" y1="287.2" x2="537.7" y2="287.2" stroke="#2e86d4" stroke-width="1.3" stroke-dasharray="4.4,3.6"/>
<text x="543.5" y="290.1" font-size="8.3" font-weight="bold" fill="#000" text-anchor="start" font-family='"Liberation Sans", sans-serif' >800 μm</text>
<polyline points="56.7,523.18 91.2,515.05 125.7,501.55 160.2,483.32 194.7,455.29" fill="none" stroke="#2cbb6c" stroke-width="1.1" stroke-linejoin="round" stroke-dasharray="2.6,2"/>
<polyline points="56.7,523.55 91.2,516.87 125.7,503.58 160.2,490.36 194.7,468" fill="none" stroke="#8c8cd8" stroke-width="1.3" stroke-linejoin="round" />
<path d="M56.7 521.6l1.9 1.9l-1.9 1.9l-1.9 -1.9z" fill="#8c8cd8"/>
<path d="M91.2 515.0l1.9 1.9l-1.9 1.9l-1.9 -1.9z" fill="#8c8cd8"/>
<path d="M125.7 501.7l1.9 1.9l-1.9 1.9l-1.9 -1.9z" fill="#8c8cd8"/>
<path d="M160.2 488.5l1.9 1.9l-1.9 1.9l-1.9 -1.9z" fill="#8c8cd8"/>
<path d="M194.7 466.1l1.9 1.9l-1.9 1.9l-1.9 -1.9z" fill="#8c8cd8"/>
<path d="M56.7 521.9V525.1M91.2 515.3V518.5M125.7 501.6V505.6M160.2 487.9V492.9M194.7 465.0V471.0" stroke="#8c8cd8" stroke-width="0.7" fill="none"/>
<path d="M56.7 520.4l1.5 1.5l-1.5 1.5l-1.5 -1.5zM56.7 523.6l1.5 1.5l-1.5 1.5l-1.5 -1.5zM91.2 513.8l1.5 1.5l-1.5 1.5l-1.5 -1.5zM91.2 517.0l1.5 1.5l-1.5 1.5l-1.5 -1.5zM125.7 500.1l1.5 1.5l-1.5 1.5l-1.5 -1.5zM125.7 504.1l1.5 1.5l-1.5 1.5l-1.5 -1.5zM160.2 486.4l1.5 1.5l-1.5 1.5l-1.5 -1.5zM160.2 491.4l1.5 1.5l-1.5 1.5l-1.5 -1.5zM194.7 463.5l1.5 1.5l-1.5 1.5l-1.5 -1.5zM194.7 469.5l1.5 1.5l-1.5 1.5l-1.5 -1.5z" stroke="#8c8cd8" stroke-width="0.6" fill="none" stroke-opacity="0.85"/>
<polyline points="56.7,522.75 91.2,515.05 125.7,498.06 160.2,476.93 194.7,446.43" fill="none" stroke="#2e86d4" stroke-width="1.2" stroke-linejoin="round" />
<path d="M56.7 520.8l1.9 1.9l-1.9 1.9l-1.9 -1.9z" fill="#2e86d4"/>
<path d="M91.2 513.2l1.9 1.9l-1.9 1.9l-1.9 -1.9z" fill="#2e86d4"/>
<path d="M125.7 496.2l1.9 1.9l-1.9 1.9l-1.9 -1.9z" fill="#2e86d4"/>
<path d="M160.2 475.0l1.9 1.9l-1.9 1.9l-1.9 -1.9z" fill="#2e86d4"/>
<path d="M194.7 444.5l1.9 1.9l-1.9 1.9l-1.9 -1.9z" fill="#2e86d4"/>
<path d="M56.7 521.1V524.3M91.2 513.5V516.7M125.7 496.1V500.1M160.2 474.4V479.4M194.7 442.9V449.9" stroke="#2e86d4" stroke-width="0.7" fill="none"/>
<path d="M56.7 519.6l1.5 1.5l-1.5 1.5l-1.5 -1.5zM56.7 522.8l1.5 1.5l-1.5 1.5l-1.5 -1.5zM91.2 512.0l1.5 1.5l-1.5 1.5l-1.5 -1.5zM91.2 515.2l1.5 1.5l-1.5 1.5l-1.5 -1.5zM125.7 494.6l1.5 1.5l-1.5 1.5l-1.5 -1.5zM125.7 498.6l1.5 1.5l-1.5 1.5l-1.5 -1.5zM160.2 472.9l1.5 1.5l-1.5 1.5l-1.5 -1.5zM160.2 477.9l1.5 1.5l-1.5 1.5l-1.5 -1.5zM194.7 441.4l1.5 1.5l-1.5 1.5l-1.5 -1.5zM194.7 448.4l1.5 1.5l-1.5 1.5l-1.5 -1.5z" stroke="#2e86d4" stroke-width="0.6" fill="none" stroke-opacity="0.85"/>
<rect x="39.5" y="387.7" width="172.7" height="138.8" fill="none" stroke="#1a1a1a" stroke-width="1.1"/>
<line x1="37.1" y1="525" x2="39.5" y2="525" stroke="#1a1a1a" stroke-width="0.9" />
<text x="34.6" y="527.9" font-size="8.4" font-weight="bold" fill="#000" text-anchor="end" font-family='"Liberation Sans", sans-serif' >0</text>
<line x1="37.1" y1="481.43" x2="39.5" y2="481.43" stroke="#1a1a1a" stroke-width="0.9" />
<text x="34.6" y="484.33" font-size="8.4" font-weight="bold" fill="#000" text-anchor="end" font-family='"Liberation Sans", sans-serif' >600</text>
<line x1="37.1" y1="437.87" x2="39.5" y2="437.87" stroke="#1a1a1a" stroke-width="0.9" />
<text x="34.6" y="440.77" font-size="8.4" font-weight="bold" fill="#000" text-anchor="end" font-family='"Liberation Sans", sans-serif' >1,200</text>
<line x1="37.1" y1="394.3" x2="39.5" y2="394.3" stroke="#1a1a1a" stroke-width="0.9" />
<text x="34.6" y="397.2" font-size="8.4" font-weight="bold" fill="#000" text-anchor="end" font-family='"Liberation Sans", sans-serif' >1,800</text>
<line x1="38.2" y1="503.22" x2="39.5" y2="503.22" stroke="#1a1a1a" stroke-width="0.9" />
<line x1="38.2" y1="459.65" x2="39.5" y2="459.65" stroke="#1a1a1a" stroke-width="0.9" />
<line x1="38.2" y1="416.08" x2="39.5" y2="416.08" stroke="#1a1a1a" stroke-width="0.9" />
<line x1="56.7" y1="526.5" x2="56.7" y2="528.9" stroke="#1a1a1a" stroke-width="0.9" />
<text x="56.7" y="538.1" font-size="8.4" font-weight="bold" fill="#000" text-anchor="middle" font-family='"Liberation Sans", sans-serif' >0.5</text>
<line x1="91.2" y1="526.5" x2="91.2" y2="528.9" stroke="#1a1a1a" stroke-width="0.9" />
<text x="91.2" y="538.1" font-size="8.4" font-weight="bold" fill="#000" text-anchor="middle" font-family='"Liberation Sans", sans-serif' >1.0</text>
<line x1="125.7" y1="526.5" x2="125.7" y2="528.9" stroke="#1a1a1a" stroke-width="0.9" />
<text x="125.7" y="538.1" font-size="8.4" font-weight="bold" fill="#000" text-anchor="middle" font-family='"Liberation Sans", sans-serif' >1.5</text>
<line x1="160.2" y1="526.5" x2="160.2" y2="528.9" stroke="#1a1a1a" stroke-width="0.9" />
<text x="160.2" y="538.1" font-size="8.4" font-weight="bold" fill="#000" text-anchor="middle" font-family='"Liberation Sans", sans-serif' >2.0</text>
<line x1="194.7" y1="526.5" x2="194.7" y2="528.9" stroke="#1a1a1a" stroke-width="0.9" />
<text x="194.7" y="538.1" font-size="8.4" font-weight="bold" fill="#000" text-anchor="middle" font-family='"Liberation Sans", sans-serif' >2.5</text>
<line x1="73.95" y1="526.5" x2="73.95" y2="527.8" stroke="#1a1a1a" stroke-width="0.9" />
<line x1="108.45" y1="526.5" x2="108.45" y2="527.8" stroke="#1a1a1a" stroke-width="0.9" />
<line x1="142.95" y1="526.5" x2="142.95" y2="527.8" stroke="#1a1a1a" stroke-width="0.9" />
<line x1="177.45" y1="526.5" x2="177.45" y2="527.8" stroke="#1a1a1a" stroke-width="0.9" />
<text transform="translate(9.2,466.2) rotate(-90)" font-size="9.6" font-weight="bold" text-anchor="middle" font-family='"Liberation Sans", sans-serif'>Luminance (cd m<tspan font-size="5.8" dy="-3.5">-2</tspan><tspan dy="3.5">)</tspan></text>
<text x="129.7" y="551.2" font-size="9.6" font-weight="bold" text-anchor="middle" font-family='"Liberation Sans", sans-serif'>Field (V μm<tspan font-size="5.8" dy="-3.5">-1</tspan><tspan dy="3.5">)</tspan></text>
<text x="1.6" y="389.6" font-size="10" font-weight="bold" fill="#000" text-anchor="start" font-family='"Liberation Sans", sans-serif' >f</text>
<line x1="42.2" y1="400.5" x2="63.6" y2="400.5" stroke="#2cbb6c" stroke-width="1.3" stroke-dasharray="4.4,3.6"/>
<line x1="42.2" y1="410.9" x2="63.6" y2="410.9" stroke="#8c8cd8" stroke-width="2.0" />
<line x1="42.2" y1="421.3" x2="63.6" y2="421.3" stroke="#2e86d4" stroke-width="1.2" />
<text x="70.7" y="403.3" font-size="8.3" font-weight="bold" fill="#000" text-anchor="start" font-family='"Liberation Sans", sans-serif' >Reference</text>
<text x="70.7" y="413.7" font-size="8.3" font-weight="bold" fill="#000" text-anchor="start" font-family='"Liberation Sans", sans-serif' >Yellow front</text>
<text x="70.7" y="424.1" font-size="8.3" font-weight="bold" fill="#000" text-anchor="start" font-family='"Liberation Sans", sans-serif' >Yellow back</text>
<polyline points="292.9,523.18 327.4,515.05 361.9,501.55 396.4,483.32 430.9,455.29" fill="none" stroke="#2cbb6c" stroke-width="1.1" stroke-linejoin="round" stroke-dasharray="2.6,2"/>
<polyline points="292.9,523.55 327.4,517.16 361.9,505.39 396.4,492.76 430.9,473.66" fill="none" stroke="#8c8cd8" stroke-width="1.3" stroke-linejoin="round" />
<path d="M292.9 521.6l1.9 1.9l-1.9 1.9l-1.9 -1.9z" fill="#8c8cd8"/>
<path d="M327.4 515.3l1.9 1.9l-1.9 1.9l-1.9 -1.9z" fill="#8c8cd8"/>
<path d="M361.9 503.5l1.9 1.9l-1.9 1.9l-1.9 -1.9z" fill="#8c8cd8"/>
<path d="M396.4 490.9l1.9 1.9l-1.9 1.9l-1.9 -1.9z" fill="#8c8cd8"/>
<path d="M430.9 471.8l1.9 1.9l-1.9 1.9l-1.9 -1.9z" fill="#8c8cd8"/>
<path d="M292.9 521.9V525.1M327.4 515.6V518.8M361.9 503.4V507.4M396.4 490.3V495.3M430.9 470.7V476.7" stroke="#8c8cd8" stroke-width="0.7" fill="none"/>
<path d="M292.9 520.4l1.5 1.5l-1.5 1.5l-1.5 -1.5zM292.9 523.6l1.5 1.5l-1.5 1.5l-1.5 -1.5zM327.4 514.1l1.5 1.5l-1.5 1.5l-1.5 -1.5zM327.4 517.3l1.5 1.5l-1.5 1.5l-1.5 -1.5zM361.9 501.9l1.5 1.5l-1.5 1.5l-1.5 -1.5zM361.9 505.9l1.5 1.5l-1.5 1.5l-1.5 -1.5zM396.4 488.8l1.5 1.5l-1.5 1.5l-1.5 -1.5zM396.4 493.8l1.5 1.5l-1.5 1.5l-1.5 -1.5zM430.9 469.2l1.5 1.5l-1.5 1.5l-1.5 -1.5zM430.9 475.2l1.5 1.5l-1.5 1.5l-1.5 -1.5z" stroke="#8c8cd8" stroke-width="0.6" fill="none" stroke-opacity="0.85"/>
<polyline points="292.9,523.18 327.4,515.49 361.9,498.71 396.4,480.34 430.9,451.01" fill="none" stroke="#2e86d4" stroke-width="1.2" stroke-linejoin="round" />
<path d="M292.9 521.3l1.9 1.9l-1.9 1.9l-1.9 -1.9z" fill="#2e86d4"/>
<path d="M327.4 513.6l1.9 1.9l-1.9 1.9l-1.9 -1.9z" fill="#2e86d4"/>
<path d="M361.9 496.8l1.9 1.9l-1.9 1.9l-1.9 -1.9z" fill="#2e86d4"/>
<path d="M396.4 478.4l1.9 1.9l-1.9 1.9l-1.9 -1.9z" fill="#2e86d4"/>
<path d="M430.9 449.1l1.9 1.9l-1.9 1.9l-1.9 -1.9z" fill="#2e86d4"/>
<path d="M292.9 521.6V524.8M327.4 513.9V517.1M361.9 496.7V500.7M396.4 477.8V482.8M430.9 447.5V454.5" stroke="#2e86d4" stroke-width="0.7" fill="none"/>
<path d="M292.9 520.1l1.5 1.5l-1.5 1.5l-1.5 -1.5zM292.9 523.3l1.5 1.5l-1.5 1.5l-1.5 -1.5zM327.4 512.4l1.5 1.5l-1.5 1.5l-1.5 -1.5zM327.4 515.6l1.5 1.5l-1.5 1.5l-1.5 -1.5zM361.9 495.2l1.5 1.5l-1.5 1.5l-1.5 -1.5zM361.9 499.2l1.5 1.5l-1.5 1.5l-1.5 -1.5zM396.4 476.3l1.5 1.5l-1.5 1.5l-1.5 -1.5zM396.4 481.3l1.5 1.5l-1.5 1.5l-1.5 -1.5zM430.9 446.0l1.5 1.5l-1.5 1.5l-1.5 -1.5zM430.9 453.0l1.5 1.5l-1.5 1.5l-1.5 -1.5z" stroke="#2e86d4" stroke-width="0.6" fill="none" stroke-opacity="0.85"/>
<rect x="275.7" y="387.7" width="172.7" height="138.8" fill="none" stroke="#1a1a1a" stroke-width="1.1"/>
<line x1="273.3" y1="525" x2="275.7" y2="525" stroke="#1a1a1a" stroke-width="0.9" />
<text x="270.8" y="527.9" font-size="8.4" font-weight="bold" fill="#000" text-anchor="end" font-family='"Liberation Sans", sans-serif' >0</text>
<line x1="273.3" y1="481.43" x2="275.7" y2="481.43" stroke="#1a1a1a" stroke-width="0.9" />
<text x="270.8" y="484.33" font-size="8.4" font-weight="bold" fill="#000" text-anchor="end" font-family='"Liberation Sans", sans-serif' >600</text>
<line x1="273.3" y1="437.87" x2="275.7" y2="437.87" stroke="#1a1a1a" stroke-width="0.9" />
<text x="270.8" y="440.77" font-size="8.4" font-weight="bold" fill="#000" text-anchor="end" font-family='"Liberation Sans", sans-serif' >1,200</text>
<line x1="273.3" y1="394.3" x2="275.7" y2="394.3" stroke="#1a1a1a" stroke-width="0.9" />
<text x="270.8" y="397.2" font-size="8.4" font-weight="bold" fill="#000" text-anchor="end" font-family='"Liberation Sans", sans-serif' >1,800</text>
<line x1="274.4" y1="503.22" x2="275.7" y2="503.22" stroke="#1a1a1a" stroke-width="0.9" />
<line x1="274.4" y1="459.65" x2="275.7" y2="459.65" stroke="#1a1a1a" stroke-width="0.9" />
<line x1="274.4" y1="416.08" x2="275.7" y2="416.08" stroke="#1a1a1a" stroke-width="0.9" />
<line x1="292.9" y1="526.5" x2="292.9" y2="528.9" stroke="#1a1a1a" stroke-width="0.9" />
<text x="292.9" y="538.1" font-size="8.4" font-weight="bold" fill="#000" text-anchor="middle" font-family='"Liberation Sans", sans-serif' >0.5</text>
<line x1="327.4" y1="526.5" x2="327.4" y2="528.9" stroke="#1a1a1a" stroke-width="0.9" />
<text x="327.4" y="538.1" font-size="8.4" font-weight="bold" fill="#000" text-anchor="middle" font-family='"Liberation Sans", sans-serif' >1.0</text>
<line x1="361.9" y1="526.5" x2="361.9" y2="528.9" stroke="#1a1a1a" stroke-width="0.9" />
<text x="361.9" y="538.1" font-size="8.4" font-weight="bold" fill="#000" text-anchor="middle" font-family='"Liberation Sans", sans-serif' >1.5</text>
<line x1="396.4" y1="526.5" x2="396.4" y2="528.9" stroke="#1a1a1a" stroke-width="0.9" />
<text x="396.4" y="538.1" font-size="8.4" font-weight="bold" fill="#000" text-anchor="middle" font-family='"Liberation Sans", sans-serif' >2.0</text>
<line x1="430.9" y1="526.5" x2="430.9" y2="528.9" stroke="#1a1a1a" stroke-width="0.9" />
<text x="430.9" y="538.1" font-size="8.4" font-weight="bold" fill="#000" text-anchor="middle" font-family='"Liberation Sans", sans-serif' >2.5</text>
<line x1="310.15" y1="526.5" x2="310.15" y2="527.8" stroke="#1a1a1a" stroke-width="0.9" />
<line x1="344.65" y1="526.5" x2="344.65" y2="527.8" stroke="#1a1a1a" stroke-width="0.9" />
<line x1="379.15" y1="526.5" x2="379.15" y2="527.8" stroke="#1a1a1a" stroke-width="0.9" />
<line x1="413.65" y1="526.5" x2="413.65" y2="527.8" stroke="#1a1a1a" stroke-width="0.9" />
<text transform="translate(245.4,466.2) rotate(-90)" font-size="9.6" font-weight="bold" text-anchor="middle" font-family='"Liberation Sans", sans-serif'>Luminance (cd m<tspan font-size="5.8" dy="-3.5">-2</tspan><tspan dy="3.5">)</tspan></text>
<text x="365.9" y="551.2" font-size="9.6" font-weight="bold" text-anchor="middle" font-family='"Liberation Sans", sans-serif'>Field (V μm<tspan font-size="5.8" dy="-3.5">-1</tspan><tspan dy="3.5">)</tspan></text>
<text x="236.6" y="389.6" font-size="10" font-weight="bold" fill="#000" text-anchor="start" font-family='"Liberation Sans", sans-serif' >g</text>
<line x1="278.4" y1="400.5" x2="299.8" y2="400.5" stroke="#2cbb6c" stroke-width="1.3" stroke-dasharray="4.4,3.6"/>
<line x1="278.4" y1="410.9" x2="299.8" y2="410.9" stroke="#8c8cd8" stroke-width="2.0" />
<line x1="278.4" y1="421.3" x2="299.8" y2="421.3" stroke="#2e86d4" stroke-width="1.2" />
<text x="306.9" y="403.3" font-size="8.3" font-weight="bold" fill="#000" text-anchor="start" font-family='"Liberation Sans", sans-serif' >Reference</text>
<text x="306.9" y="413.7" font-size="8.3" font-weight="bold" fill="#000" text-anchor="start" font-family='"Liberation Sans", sans-serif' >Green front</text>
<text x="306.9" y="424.1" font-size="8.3" font-weight="bold" fill="#000" text-anchor="start" font-family='"Liberation Sans", sans-serif' >Green back</text>
<polyline points="528.6,523.18 563.1,515.05 597.6,501.55 632.1,483.32 666.6,455.29" fill="none" stroke="#2cbb6c" stroke-width="1.1" stroke-linejoin="round" stroke-dasharray="2.6,2"/>
<polyline points="528.6,523.84 563.1,520.43 597.6,515.12 632.1,510.48 666.6,502.71" fill="none" stroke="#8c8cd8" stroke-width="1.3" stroke-linejoin="round" />
<path d="M528.6 521.9l1.9 1.9l-1.9 1.9l-1.9 -1.9z" fill="#8c8cd8"/>
<path d="M563.1 518.5l1.9 1.9l-1.9 1.9l-1.9 -1.9z" fill="#8c8cd8"/>
<path d="M597.6 513.2l1.9 1.9l-1.9 1.9l-1.9 -1.9z" fill="#8c8cd8"/>
<path d="M632.1 508.6l1.9 1.9l-1.9 1.9l-1.9 -1.9z" fill="#8c8cd8"/>
<path d="M666.6 500.8l1.9 1.9l-1.9 1.9l-1.9 -1.9z" fill="#8c8cd8"/>
<path d="M528.6 522.2V525.4M563.1 518.8V522.0M597.6 513.1V517.1M632.1 508.0V513.0M666.6 499.7V505.7" stroke="#8c8cd8" stroke-width="0.7" fill="none"/>
<path d="M528.6 520.7l1.5 1.5l-1.5 1.5l-1.5 -1.5zM528.6 523.9l1.5 1.5l-1.5 1.5l-1.5 -1.5zM563.1 517.3l1.5 1.5l-1.5 1.5l-1.5 -1.5zM563.1 520.5l1.5 1.5l-1.5 1.5l-1.5 -1.5zM597.6 511.6l1.5 1.5l-1.5 1.5l-1.5 -1.5zM597.6 515.6l1.5 1.5l-1.5 1.5l-1.5 -1.5zM632.1 506.5l1.5 1.5l-1.5 1.5l-1.5 -1.5zM632.1 511.5l1.5 1.5l-1.5 1.5l-1.5 -1.5zM666.6 498.2l1.5 1.5l-1.5 1.5l-1.5 -1.5zM666.6 504.2l1.5 1.5l-1.5 1.5l-1.5 -1.5z" stroke="#8c8cd8" stroke-width="0.6" fill="none" stroke-opacity="0.85"/>
<polyline points="528.6,523.18 563.1,516.43 597.6,501.11 632.1,482.01 666.6,453.7" fill="none" stroke="#2e86d4" stroke-width="1.2" stroke-linejoin="round" />
<path d="M528.6 521.3l1.9 1.9l-1.9 1.9l-1.9 -1.9z" fill="#2e86d4"/>
<path d="M563.1 514.5l1.9 1.9l-1.9 1.9l-1.9 -1.9z" fill="#2e86d4"/>
<path d="M597.6 499.2l1.9 1.9l-1.9 1.9l-1.9 -1.9z" fill="#2e86d4"/>
<path d="M632.1 480.1l1.9 1.9l-1.9 1.9l-1.9 -1.9z" fill="#2e86d4"/>
<path d="M666.6 451.8l1.9 1.9l-1.9 1.9l-1.9 -1.9z" fill="#2e86d4"/>
<path d="M528.6 521.6V524.8M563.1 514.8V518.0M597.6 499.1V503.1M632.1 479.5V484.5M666.6 450.2V457.2" stroke="#2e86d4" stroke-width="0.7" fill="none"/>
<path d="M528.6 520.1l1.5 1.5l-1.5 1.5l-1.5 -1.5zM528.6 523.3l1.5 1.5l-1.5 1.5l-1.5 -1.5zM563.1 513.3l1.5 1.5l-1.5 1.5l-1.5 -1.5zM563.1 516.5l1.5 1.5l-1.5 1.5l-1.5 -1.5zM597.6 497.6l1.5 1.5l-1.5 1.5l-1.5 -1.5zM597.6 501.6l1.5 1.5l-1.5 1.5l-1.5 -1.5zM632.1 478.0l1.5 1.5l-1.5 1.5l-1.5 -1.5zM632.1 483.0l1.5 1.5l-1.5 1.5l-1.5 -1.5zM666.6 448.7l1.5 1.5l-1.5 1.5l-1.5 -1.5zM666.6 455.7l1.5 1.5l-1.5 1.5l-1.5 -1.5z" stroke="#2e86d4" stroke-width="0.6" fill="none" stroke-opacity="0.85"/>
<rect x="511.4" y="387.7" width="172.7" height="138.8" fill="none" stroke="#1a1a1a" stroke-width="1.1"/>
<line x1="509" y1="525" x2="511.4" y2="525" stroke="#1a1a1a" stroke-width="0.9" />
<text x="506.5" y="527.9" font-size="8.4" font-weight="bold" fill="#000" text-anchor="end" font-family='"Liberation Sans", sans-serif' >0</text>
<line x1="509" y1="481.43" x2="511.4" y2="481.43" stroke="#1a1a1a" stroke-width="0.9" />
<text x="506.5" y="484.33" font-size="8.4" font-weight="bold" fill="#000" text-anchor="end" font-family='"Liberation Sans", sans-serif' >600</text>
<line x1="509" y1="437.87" x2="511.4" y2="437.87" stroke="#1a1a1a" stroke-width="0.9" />
<text x="506.5" y="440.77" font-size="8.4" font-weight="bold" fill="#000" text-anchor="end" font-family='"Liberation Sans", sans-serif' >1,200</text>
<line x1="509" y1="394.3" x2="511.4" y2="394.3" stroke="#1a1a1a" stroke-width="0.9" />
<text x="506.5" y="397.2" font-size="8.4" font-weight="bold" fill="#000" text-anchor="end" font-family='"Liberation Sans", sans-serif' >1,800</text>
<line x1="510.1" y1="503.22" x2="511.4" y2="503.22" stroke="#1a1a1a" stroke-width="0.9" />
<line x1="510.1" y1="459.65" x2="511.4" y2="459.65" stroke="#1a1a1a" stroke-width="0.9" />
<line x1="510.1" y1="416.08" x2="511.4" y2="416.08" stroke="#1a1a1a" stroke-width="0.9" />
<line x1="528.6" y1="526.5" x2="528.6" y2="528.9" stroke="#1a1a1a" stroke-width="0.9" />
<text x="528.6" y="538.1" font-size="8.4" font-weight="bold" fill="#000" text-anchor="middle" font-family='"Liberation Sans", sans-serif' >0.5</text>
<line x1="563.1" y1="526.5" x2="563.1" y2="528.9" stroke="#1a1a1a" stroke-width="0.9" />
<text x="563.1" y="538.1" font-size="8.4" font-weight="bold" fill="#000" text-anchor="middle" font-family='"Liberation Sans", sans-serif' >1.0</text>
<line x1="597.6" y1="526.5" x2="597.6" y2="528.9" stroke="#1a1a1a" stroke-width="0.9" />
<text x="597.6" y="538.1" font-size="8.4" font-weight="bold" fill="#000" text-anchor="middle" font-family='"Liberation Sans", sans-serif' >1.5</text>
<line x1="632.1" y1="526.5" x2="632.1" y2="528.9" stroke="#1a1a1a" stroke-width="0.9" />
<text x="632.1" y="538.1" font-size="8.4" font-weight="bold" fill="#000" text-anchor="middle" font-family='"Liberation Sans", sans-serif' >2.0</text>
<line x1="666.6" y1="526.5" x2="666.6" y2="528.9" stroke="#1a1a1a" stroke-width="0.9" />
<text x="666.6" y="538.1" font-size="8.4" font-weight="bold" fill="#000" text-anchor="middle" font-family='"Liberation Sans", sans-serif' >2.5</text>
<line x1="545.85" y1="526.5" x2="545.85" y2="527.8" stroke="#1a1a1a" stroke-width="0.9" />
<line x1="580.35" y1="526.5" x2="580.35" y2="527.8" stroke="#1a1a1a" stroke-width="0.9" />
<line x1="614.85" y1="526.5" x2="614.85" y2="527.8" stroke="#1a1a1a" stroke-width="0.9" />
<line x1="649.35" y1="526.5" x2="649.35" y2="527.8" stroke="#1a1a1a" stroke-width="0.9" />
<text transform="translate(481.1,466.2) rotate(-90)" font-size="9.6" font-weight="bold" text-anchor="middle" font-family='"Liberation Sans", sans-serif'>Luminance (cd m<tspan font-size="5.8" dy="-3.5">-2</tspan><tspan dy="3.5">)</tspan></text>
<text x="601.6" y="551.2" font-size="9.6" font-weight="bold" text-anchor="middle" font-family='"Liberation Sans", sans-serif'>Field (V μm<tspan font-size="5.8" dy="-3.5">-1</tspan><tspan dy="3.5">)</tspan></text>
<text x="470" y="389.4" font-size="10" font-weight="bold" fill="#000" text-anchor="start" font-family='"Liberation Sans", sans-serif' >h</text>
<line x1="514.1" y1="400.5" x2="535.5" y2="400.5" stroke="#2cbb6c" stroke-width="1.3" stroke-dasharray="4.4,3.6"/>
<line x1="514.1" y1="410.9" x2="535.5" y2="410.9" stroke="#8c8cd8" stroke-width="2.0" />
<line x1="514.1" y1="421.3" x2="535.5" y2="421.3" stroke="#2e86d4" stroke-width="1.2" />
<text x="542.6" y="403.3" font-size="8.3" font-weight="bold" fill="#000" text-anchor="start" font-family='"Liberation Sans", sans-serif' >Reference</text>
<text x="542.6" y="413.7" font-size="8.3" font-weight="bold" fill="#000" text-anchor="start" font-family='"Liberation Sans", sans-serif' >Red front</text>
<text x="542.6" y="424.1" font-size="8.3" font-weight="bold" fill="#000" text-anchor="start" font-family='"Liberation Sans", sans-serif' >Red back</text>
<polyline points="53.8,665.75 88.83,659.99 123.85,669.05 158.88,682.54 193.9,697.03" fill="none" stroke="#2cbb6c" stroke-width="1.2" stroke-linejoin="round" />
<path d="M53.8 663.9l1.9 1.9l-1.9 1.9l-1.9 -1.9z" fill="#2cbb6c"/>
<path d="M88.8 658.1l1.9 1.9l-1.9 1.9l-1.9 -1.9z" fill="#2cbb6c"/>
<path d="M123.9 667.1l1.9 1.9l-1.9 1.9l-1.9 -1.9z" fill="#2cbb6c"/>
<path d="M158.9 680.6l1.9 1.9l-1.9 1.9l-1.9 -1.9z" fill="#2cbb6c"/>
<path d="M193.9 695.1l1.9 1.9l-1.9 1.9l-1.9 -1.9z" fill="#2cbb6c"/>
<path d="M53.8 663.8V667.8M88.8 658.0V662.0M123.9 666.0V672.0M158.9 679.5V685.5M193.9 694.0V700.0" stroke="#2cbb6c" stroke-width="0.7" fill="none"/>
<path d="M53.8 662.3l1.5 1.5l-1.5 1.5l-1.5 -1.5zM53.8 666.3l1.5 1.5l-1.5 1.5l-1.5 -1.5zM88.8 656.5l1.5 1.5l-1.5 1.5l-1.5 -1.5zM88.8 660.5l1.5 1.5l-1.5 1.5l-1.5 -1.5zM123.9 664.5l1.5 1.5l-1.5 1.5l-1.5 -1.5zM123.9 670.5l1.5 1.5l-1.5 1.5l-1.5 -1.5zM158.9 678.0l1.5 1.5l-1.5 1.5l-1.5 -1.5zM158.9 684.0l1.5 1.5l-1.5 1.5l-1.5 -1.5zM193.9 692.5l1.5 1.5l-1.5 1.5l-1.5 -1.5zM193.9 698.5l1.5 1.5l-1.5 1.5l-1.5 -1.5z" stroke="#2cbb6c" stroke-width="0.6" fill="none" stroke-opacity="0.85"/>
<polyline points="53.8,653.41 88.83,646.49 123.85,659 158.88,675.14 193.9,695.06" fill="none" stroke="#6f72cf" stroke-width="1.2" stroke-linejoin="round" />
<path d="M53.8 651.5l1.9 1.9l-1.9 1.9l-1.9 -1.9z" fill="#6f72cf"/>
<path d="M88.8 644.6l1.9 1.9l-1.9 1.9l-1.9 -1.9z" fill="#6f72cf"/>
<path d="M123.9 657.1l1.9 1.9l-1.9 1.9l-1.9 -1.9z" fill="#6f72cf"/>
<path d="M158.9 673.2l1.9 1.9l-1.9 1.9l-1.9 -1.9z" fill="#6f72cf"/>
<path d="M193.9 693.2l1.9 1.9l-1.9 1.9l-1.9 -1.9z" fill="#6f72cf"/>
<path d="M53.8 651.4V655.4M88.8 643.5V649.5M123.9 657.0V661.0M158.9 672.1V678.1M193.9 693.1V697.1" stroke="#6f72cf" stroke-width="0.7" fill="none"/>
<path d="M53.8 649.9l1.5 1.5l-1.5 1.5l-1.5 -1.5zM53.8 653.9l1.5 1.5l-1.5 1.5l-1.5 -1.5zM88.8 642.0l1.5 1.5l-1.5 1.5l-1.5 -1.5zM88.8 648.0l1.5 1.5l-1.5 1.5l-1.5 -1.5zM123.9 655.5l1.5 1.5l-1.5 1.5l-1.5 -1.5zM123.9 659.5l1.5 1.5l-1.5 1.5l-1.5 -1.5zM158.9 670.6l1.5 1.5l-1.5 1.5l-1.5 -1.5zM158.9 676.6l1.5 1.5l-1.5 1.5l-1.5 -1.5zM193.9 691.6l1.5 1.5l-1.5 1.5l-1.5 -1.5zM193.9 695.6l1.5 1.5l-1.5 1.5l-1.5 -1.5z" stroke="#6f72cf" stroke-width="0.6" fill="none" stroke-opacity="0.85"/>
<rect x="36.8" y="573.3" width="174.7" height="140.6" fill="none" stroke="#1a1a1a" stroke-width="1.1"/>
<line x1="34.4" y1="713" x2="36.8" y2="713" stroke="#1a1a1a" stroke-width="0.9" />
<text x="31.9" y="715.9" font-size="8.4" font-weight="bold" fill="#000" text-anchor="end" font-family='"Liberation Sans", sans-serif' >0</text>
<line x1="34.4" y1="680.08" x2="36.8" y2="680.08" stroke="#1a1a1a" stroke-width="0.9" />
<text x="31.9" y="682.98" font-size="8.4" font-weight="bold" fill="#000" text-anchor="end" font-family='"Liberation Sans", sans-serif' >200</text>
<line x1="34.4" y1="647.15" x2="36.8" y2="647.15" stroke="#1a1a1a" stroke-width="0.9" />
<text x="31.9" y="650.05" font-size="8.4" font-weight="bold" fill="#000" text-anchor="end" font-family='"Liberation Sans", sans-serif' >400</text>
<line x1="34.4" y1="614.22" x2="36.8" y2="614.22" stroke="#1a1a1a" stroke-width="0.9" />
<text x="31.9" y="617.12" font-size="8.4" font-weight="bold" fill="#000" text-anchor="end" font-family='"Liberation Sans", sans-serif' >600</text>
<line x1="34.4" y1="581.3" x2="36.8" y2="581.3" stroke="#1a1a1a" stroke-width="0.9" />
<text x="31.9" y="584.2" font-size="8.4" font-weight="bold" fill="#000" text-anchor="end" font-family='"Liberation Sans", sans-serif' >800</text>
<line x1="35.5" y1="696.54" x2="36.8" y2="696.54" stroke="#1a1a1a" stroke-width="0.9" />
<line x1="35.5" y1="663.61" x2="36.8" y2="663.61" stroke="#1a1a1a" stroke-width="0.9" />
<line x1="35.5" y1="630.69" x2="36.8" y2="630.69" stroke="#1a1a1a" stroke-width="0.9" />
<line x1="35.5" y1="597.76" x2="36.8" y2="597.76" stroke="#1a1a1a" stroke-width="0.9" />
<line x1="53.8" y1="713.9" x2="53.8" y2="716.3" stroke="#1a1a1a" stroke-width="0.9" />
<text x="53.8" y="724.9" font-size="8.4" font-weight="bold" fill="#000" text-anchor="middle" font-family='"Liberation Sans", sans-serif' >0</text>
<line x1="88.83" y1="713.9" x2="88.83" y2="716.3" stroke="#1a1a1a" stroke-width="0.9" />
<text x="88.83" y="724.9" font-size="8.4" font-weight="bold" fill="#000" text-anchor="middle" font-family='"Liberation Sans", sans-serif' >20</text>
<line x1="123.85" y1="713.9" x2="123.85" y2="716.3" stroke="#1a1a1a" stroke-width="0.9" />
<text x="123.85" y="724.9" font-size="8.4" font-weight="bold" fill="#000" text-anchor="middle" font-family='"Liberation Sans", sans-serif' >40</text>
<line x1="158.88" y1="713.9" x2="158.88" y2="716.3" stroke="#1a1a1a" stroke-width="0.9" />
<text x="158.88" y="724.9" font-size="8.4" font-weight="bold" fill="#000" text-anchor="middle" font-family='"Liberation Sans", sans-serif' >60</text>
<line x1="193.9" y1="713.9" x2="193.9" y2="716.3" stroke="#1a1a1a" stroke-width="0.9" />
<text x="193.9" y="724.9" font-size="8.4" font-weight="bold" fill="#000" text-anchor="middle" font-family='"Liberation Sans", sans-serif' >80</text>
<line x1="71.31" y1="713.9" x2="71.31" y2="715.2" stroke="#1a1a1a" stroke-width="0.9" />
<line x1="106.34" y1="713.9" x2="106.34" y2="715.2" stroke="#1a1a1a" stroke-width="0.9" />
<line x1="141.36" y1="713.9" x2="141.36" y2="715.2" stroke="#1a1a1a" stroke-width="0.9" />
<line x1="176.39" y1="713.9" x2="176.39" y2="715.2" stroke="#1a1a1a" stroke-width="0.9" />
<text transform="translate(9.2,651.5) rotate(-90)" font-size="9.6" font-weight="bold" text-anchor="middle" font-family='"Liberation Sans", sans-serif'>Luminance (cd m<tspan font-size="5.8" dy="-3.5">-2</tspan><tspan dy="3.5">)</tspan></text>
<text x="127.6" y="737" font-size="9.6" font-weight="bold" fill="#000" text-anchor="middle" font-family='"Liberation Sans", sans-serif' >Strain (%)</text>
<text x="2.4" y="578.4" font-size="10" font-weight="bold" fill="#000" text-anchor="start" font-family='"Liberation Sans", sans-serif' >i</text>
<line x1="41.7" y1="586.4" x2="64" y2="586.4" stroke="#2cbb6c" stroke-width="1.2" />
<line x1="41.7" y1="597.1" x2="64" y2="597.1" stroke="#6f72cf" stroke-width="1.2" />
<text x="70.1" y="589.3" font-size="8.3" font-weight="bold" fill="#000" text-anchor="start" font-family='"Liberation Sans", sans-serif' >Yellow front</text>
<text x="70.1" y="600" font-size="8.3" font-weight="bold" fill="#000" text-anchor="start" font-family='"Liberation Sans", sans-serif' >Yellow back</text>
<polyline points="289.8,669.05 324.82,666.74 359.85,673.49 394.88,685.84 429.9,693.57" fill="none" stroke="#2cbb6c" stroke-width="1.2" stroke-linejoin="round" />
<path d="M289.8 667.1l1.9 1.9l-1.9 1.9l-1.9 -1.9z" fill="#2cbb6c"/>
<path d="M324.8 664.8l1.9 1.9l-1.9 1.9l-1.9 -1.9z" fill="#2cbb6c"/>
<path d="M359.9 671.6l1.9 1.9l-1.9 1.9l-1.9 -1.9z" fill="#2cbb6c"/>
<path d="M394.9 683.9l1.9 1.9l-1.9 1.9l-1.9 -1.9z" fill="#2cbb6c"/>
<path d="M429.9 691.7l1.9 1.9l-1.9 1.9l-1.9 -1.9z" fill="#2cbb6c"/>
<path d="M289.8 666.0V672.0M324.8 662.7V670.7M359.9 670.5V676.5M394.9 682.8V688.8M429.9 691.6V695.6" stroke="#2cbb6c" stroke-width="0.7" fill="none"/>
<path d="M289.8 664.5l1.5 1.5l-1.5 1.5l-1.5 -1.5zM289.8 670.5l1.5 1.5l-1.5 1.5l-1.5 -1.5zM324.8 661.2l1.5 1.5l-1.5 1.5l-1.5 -1.5zM324.8 669.2l1.5 1.5l-1.5 1.5l-1.5 -1.5zM359.9 669.0l1.5 1.5l-1.5 1.5l-1.5 -1.5zM359.9 675.0l1.5 1.5l-1.5 1.5l-1.5 -1.5zM394.9 681.3l1.5 1.5l-1.5 1.5l-1.5 -1.5zM394.9 687.3l1.5 1.5l-1.5 1.5l-1.5 -1.5zM429.9 690.1l1.5 1.5l-1.5 1.5l-1.5 -1.5zM429.9 694.1l1.5 1.5l-1.5 1.5l-1.5 -1.5z" stroke="#2cbb6c" stroke-width="0.6" fill="none" stroke-opacity="0.85"/>
<polyline points="289.8,655.71 324.82,652.91 359.85,657.36 394.88,671.51 429.9,689.29" fill="none" stroke="#6f72cf" stroke-width="1.2" stroke-linejoin="round" />
<path d="M289.8 653.8l1.9 1.9l-1.9 1.9l-1.9 -1.9z" fill="#6f72cf"/>
<path d="M324.8 651.0l1.9 1.9l-1.9 1.9l-1.9 -1.9z" fill="#6f72cf"/>
<path d="M359.9 655.5l1.9 1.9l-1.9 1.9l-1.9 -1.9z" fill="#6f72cf"/>
<path d="M394.9 669.6l1.9 1.9l-1.9 1.9l-1.9 -1.9z" fill="#6f72cf"/>
<path d="M429.9 687.4l1.9 1.9l-1.9 1.9l-1.9 -1.9z" fill="#6f72cf"/>
<path d="M289.8 653.7V657.7M324.8 650.9V654.9M359.9 655.4V659.4M394.9 668.5V674.5M429.9 687.3V691.3" stroke="#6f72cf" stroke-width="0.7" fill="none"/>
<path d="M289.8 652.2l1.5 1.5l-1.5 1.5l-1.5 -1.5zM289.8 656.2l1.5 1.5l-1.5 1.5l-1.5 -1.5zM324.8 649.4l1.5 1.5l-1.5 1.5l-1.5 -1.5zM324.8 653.4l1.5 1.5l-1.5 1.5l-1.5 -1.5zM359.9 653.9l1.5 1.5l-1.5 1.5l-1.5 -1.5zM359.9 657.9l1.5 1.5l-1.5 1.5l-1.5 -1.5zM394.9 667.0l1.5 1.5l-1.5 1.5l-1.5 -1.5zM394.9 673.0l1.5 1.5l-1.5 1.5l-1.5 -1.5zM429.9 685.8l1.5 1.5l-1.5 1.5l-1.5 -1.5zM429.9 689.8l1.5 1.5l-1.5 1.5l-1.5 -1.5z" stroke="#6f72cf" stroke-width="0.6" fill="none" stroke-opacity="0.85"/>
<rect x="272.8" y="573.3" width="174.7" height="140.6" fill="none" stroke="#1a1a1a" stroke-width="1.1"/>
<line x1="270.4" y1="713" x2="272.8" y2="713" stroke="#1a1a1a" stroke-width="0.9" />
<text x="267.9" y="715.9" font-size="8.4" font-weight="bold" fill="#000" text-anchor="end" font-family='"Liberation Sans", sans-serif' >0</text>
<line x1="270.4" y1="680.08" x2="272.8" y2="680.08" stroke="#1a1a1a" stroke-width="0.9" />
<text x="267.9" y="682.98" font-size="8.4" font-weight="bold" fill="#000" text-anchor="end" font-family='"Liberation Sans", sans-serif' >200</text>
<line x1="270.4" y1="647.15" x2="272.8" y2="647.15" stroke="#1a1a1a" stroke-width="0.9" />
<text x="267.9" y="650.05" font-size="8.4" font-weight="bold" fill="#000" text-anchor="end" font-family='"Liberation Sans", sans-serif' >400</text>
<line x1="270.4" y1="614.22" x2="272.8" y2="614.22" stroke="#1a1a1a" stroke-width="0.9" />
<text x="267.9" y="617.12" font-size="8.4" font-weight="bold" fill="#000" text-anchor="end" font-family='"Liberation Sans", sans-serif' >600</text>
<line x1="270.4" y1="581.3" x2="272.8" y2="581.3" stroke="#1a1a1a" stroke-width="0.9" />
<text x="267.9" y="584.2" font-size="8.4" font-weight="bold" fill="#000" text-anchor="end" font-family='"Liberation Sans", sans-serif' >800</text>
<line x1="271.5" y1="696.54" x2="272.8" y2="696.54" stroke="#1a1a1a" stroke-width="0.9" />
<line x1="271.5" y1="663.61" x2="272.8" y2="663.61" stroke="#1a1a1a" stroke-width="0.9" />
<line x1="271.5" y1="630.69" x2="272.8" y2="630.69" stroke="#1a1a1a" stroke-width="0.9" />
<line x1="271.5" y1="597.76" x2="272.8" y2="597.76" stroke="#1a1a1a" stroke-width="0.9" />
<line x1="289.8" y1="713.9" x2="289.8" y2="716.3" stroke="#1a1a1a" stroke-width="0.9" />
<text x="289.8" y="724.9" font-size="8.4" font-weight="bold" fill="#000" text-anchor="middle" font-family='"Liberation Sans", sans-serif' >0</text>
<line x1="324.82" y1="713.9" x2="324.82" y2="716.3" stroke="#1a1a1a" stroke-width="0.9" />
<text x="324.82" y="724.9" font-size="8.4" font-weight="bold" fill="#000" text-anchor="middle" font-family='"Liberation Sans", sans-serif' >20</text>
<line x1="359.85" y1="713.9" x2="359.85" y2="716.3" stroke="#1a1a1a" stroke-width="0.9" />
<text x="359.85" y="724.9" font-size="8.4" font-weight="bold" fill="#000" text-anchor="middle" font-family='"Liberation Sans", sans-serif' >40</text>
<line x1="394.88" y1="713.9" x2="394.88" y2="716.3" stroke="#1a1a1a" stroke-width="0.9" />
<text x="394.88" y="724.9" font-size="8.4" font-weight="bold" fill="#000" text-anchor="middle" font-family='"Liberation Sans", sans-serif' >60</text>
<line x1="429.9" y1="713.9" x2="429.9" y2="716.3" stroke="#1a1a1a" stroke-width="0.9" />
<text x="429.9" y="724.9" font-size="8.4" font-weight="bold" fill="#000" text-anchor="middle" font-family='"Liberation Sans", sans-serif' >80</text>
<line x1="307.31" y1="713.9" x2="307.31" y2="715.2" stroke="#1a1a1a" stroke-width="0.9" />
<line x1="342.34" y1="713.9" x2="342.34" y2="715.2" stroke="#1a1a1a" stroke-width="0.9" />
<line x1="377.36" y1="713.9" x2="377.36" y2="715.2" stroke="#1a1a1a" stroke-width="0.9" />
<line x1="412.39" y1="713.9" x2="412.39" y2="715.2" stroke="#1a1a1a" stroke-width="0.9" />
<text transform="translate(245.2,651.5) rotate(-90)" font-size="9.6" font-weight="bold" text-anchor="middle" font-family='"Liberation Sans", sans-serif'>Luminance (cd m<tspan font-size="5.8" dy="-3.5">-2</tspan><tspan dy="3.5">)</tspan></text>
<text x="363.6" y="737" font-size="9.6" font-weight="bold" fill="#000" text-anchor="middle" font-family='"Liberation Sans", sans-serif' >Strain (%)</text>
<text x="235.2" y="578.5" font-size="10" font-weight="bold" fill="#000" text-anchor="start" font-family='"Liberation Sans", sans-serif' >j</text>
<line x1="277.7" y1="586.4" x2="300" y2="586.4" stroke="#2cbb6c" stroke-width="1.2" />
<line x1="277.7" y1="597.1" x2="300" y2="597.1" stroke="#6f72cf" stroke-width="1.2" />
<text x="306.1" y="589.3" font-size="8.3" font-weight="bold" fill="#000" text-anchor="start" font-family='"Liberation Sans", sans-serif' >Green front</text>
<text x="306.1" y="600" font-size="8.3" font-weight="bold" fill="#000" text-anchor="start" font-family='"Liberation Sans", sans-serif' >Green back</text>
<polyline points="525.7,690.94 560.72,689.29 595.75,690.94 630.77,694.23 665.8,703.62" fill="none" stroke="#2cbb6c" stroke-width="1.2" stroke-linejoin="round" />
<path d="M525.7 689.0l1.9 1.9l-1.9 1.9l-1.9 -1.9z" fill="#2cbb6c"/>
<path d="M560.7 687.4l1.9 1.9l-1.9 1.9l-1.9 -1.9z" fill="#2cbb6c"/>
<path d="M595.8 689.0l1.9 1.9l-1.9 1.9l-1.9 -1.9z" fill="#2cbb6c"/>
<path d="M630.8 692.3l1.9 1.9l-1.9 1.9l-1.9 -1.9z" fill="#2cbb6c"/>
<path d="M665.8 701.7l1.9 1.9l-1.9 1.9l-1.9 -1.9z" fill="#2cbb6c"/>
<path d="M525.7 689.3V692.5M560.7 687.7V690.9M595.8 689.3V692.5M630.8 692.6V695.8M665.8 702.0V705.2" stroke="#2cbb6c" stroke-width="0.7" fill="none"/>
<path d="M525.7 687.8l1.5 1.5l-1.5 1.5l-1.5 -1.5zM525.7 691.0l1.5 1.5l-1.5 1.5l-1.5 -1.5zM560.7 686.2l1.5 1.5l-1.5 1.5l-1.5 -1.5zM560.7 689.4l1.5 1.5l-1.5 1.5l-1.5 -1.5zM595.8 687.8l1.5 1.5l-1.5 1.5l-1.5 -1.5zM595.8 691.0l1.5 1.5l-1.5 1.5l-1.5 -1.5zM630.8 691.1l1.5 1.5l-1.5 1.5l-1.5 -1.5zM630.8 694.3l1.5 1.5l-1.5 1.5l-1.5 -1.5zM665.8 700.5l1.5 1.5l-1.5 1.5l-1.5 -1.5zM665.8 703.7l1.5 1.5l-1.5 1.5l-1.5 -1.5z" stroke="#2cbb6c" stroke-width="0.6" fill="none" stroke-opacity="0.85"/>
<polyline points="525.7,659 560.72,654.72 595.75,663.12 630.77,674.15 665.8,690.28" fill="none" stroke="#6f72cf" stroke-width="1.2" stroke-linejoin="round" />
<path d="M525.7 657.1l1.9 1.9l-1.9 1.9l-1.9 -1.9z" fill="#6f72cf"/>
<path d="M560.7 652.8l1.9 1.9l-1.9 1.9l-1.9 -1.9z" fill="#6f72cf"/>
<path d="M595.8 661.2l1.9 1.9l-1.9 1.9l-1.9 -1.9z" fill="#6f72cf"/>
<path d="M630.8 672.2l1.9 1.9l-1.9 1.9l-1.9 -1.9z" fill="#6f72cf"/>
<path d="M665.8 688.4l1.9 1.9l-1.9 1.9l-1.9 -1.9z" fill="#6f72cf"/>
<path d="M525.7 657.4V660.6M560.7 652.7V656.7M595.8 661.1V665.1M630.8 668.1V680.1M665.8 687.3V693.3" stroke="#6f72cf" stroke-width="0.7" fill="none"/>
<path d="M525.7 655.9l1.5 1.5l-1.5 1.5l-1.5 -1.5zM525.7 659.1l1.5 1.5l-1.5 1.5l-1.5 -1.5zM560.7 651.2l1.5 1.5l-1.5 1.5l-1.5 -1.5zM560.7 655.2l1.5 1.5l-1.5 1.5l-1.5 -1.5zM595.8 659.6l1.5 1.5l-1.5 1.5l-1.5 -1.5zM595.8 663.6l1.5 1.5l-1.5 1.5l-1.5 -1.5zM630.8 666.6l1.5 1.5l-1.5 1.5l-1.5 -1.5zM630.8 678.6l1.5 1.5l-1.5 1.5l-1.5 -1.5zM665.8 685.8l1.5 1.5l-1.5 1.5l-1.5 -1.5zM665.8 691.8l1.5 1.5l-1.5 1.5l-1.5 -1.5z" stroke="#6f72cf" stroke-width="0.6" fill="none" stroke-opacity="0.85"/>
<rect x="508.7" y="573.3" width="174.7" height="140.6" fill="none" stroke="#1a1a1a" stroke-width="1.1"/>
<line x1="506.3" y1="713" x2="508.7" y2="713" stroke="#1a1a1a" stroke-width="0.9" />
<text x="503.8" y="715.9" font-size="8.4" font-weight="bold" fill="#000" text-anchor="end" font-family='"Liberation Sans", sans-serif' >0</text>
<line x1="506.3" y1="680.08" x2="508.7" y2="680.08" stroke="#1a1a1a" stroke-width="0.9" />
<text x="503.8" y="682.98" font-size="8.4" font-weight="bold" fill="#000" text-anchor="end" font-family='"Liberation Sans", sans-serif' >200</text>
<line x1="506.3" y1="647.15" x2="508.7" y2="647.15" stroke="#1a1a1a" stroke-width="0.9" />
<text x="503.8" y="650.05" font-size="8.4" font-weight="bold" fill="#000" text-anchor="end" font-family='"Liberation Sans", sans-serif' >400</text>
<line x1="506.3" y1="614.22" x2="508.7" y2="614.22" stroke="#1a1a1a" stroke-width="0.9" />
<text x="503.8" y="617.12" font-size="8.4" font-weight="bold" fill="#000" text-anchor="end" font-family='"Liberation Sans", sans-serif' >600</text>
<line x1="506.3" y1="581.3" x2="508.7" y2="581.3" stroke="#1a1a1a" stroke-width="0.9" />
<text x="503.8" y="584.2" font-size="8.4" font-weight="bold" fill="#000" text-anchor="end" font-family='"Liberation Sans", sans-serif' >800</text>
<line x1="507.4" y1="696.54" x2="508.7" y2="696.54" stroke="#1a1a1a" stroke-width="0.9" />
<line x1="507.4" y1="663.61" x2="508.7" y2="663.61" stroke="#1a1a1a" stroke-width="0.9" />
<line x1="507.4" y1="630.69" x2="508.7" y2="630.69" stroke="#1a1a1a" stroke-width="0.9" />
<line x1="507.4" y1="597.76" x2="508.7" y2="597.76" stroke="#1a1a1a" stroke-width="0.9" />
<line x1="525.7" y1="713.9" x2="525.7" y2="716.3" stroke="#1a1a1a" stroke-width="0.9" />
<text x="525.7" y="724.9" font-size="8.4" font-weight="bold" fill="#000" text-anchor="middle" font-family='"Liberation Sans", sans-serif' >0</text>
<line x1="560.72" y1="713.9" x2="560.72" y2="716.3" stroke="#1a1a1a" stroke-width="0.9" />
<text x="560.72" y="724.9" font-size="8.4" font-weight="bold" fill="#000" text-anchor="middle" font-family='"Liberation Sans", sans-serif' >20</text>
<line x1="595.75" y1="713.9" x2="595.75" y2="716.3" stroke="#1a1a1a" stroke-width="0.9" />
<text x="595.75" y="724.9" font-size="8.4" font-weight="bold" fill="#000" text-anchor="middle" font-family='"Liberation Sans", sans-serif' >40</text>
<line x1="630.77" y1="713.9" x2="630.77" y2="716.3" stroke="#1a1a1a" stroke-width="0.9" />
<text x="630.77" y="724.9" font-size="8.4" font-weight="bold" fill="#000" text-anchor="middle" font-family='"Liberation Sans", sans-serif' >60</text>
<line x1="665.8" y1="713.9" x2="665.8" y2="716.3" stroke="#1a1a1a" stroke-width="0.9" />
<text x="665.8" y="724.9" font-size="8.4" font-weight="bold" fill="#000" text-anchor="middle" font-family='"Liberation Sans", sans-serif' >80</text>
<line x1="543.21" y1="713.9" x2="543.21" y2="715.2" stroke="#1a1a1a" stroke-width="0.9" />
<line x1="578.24" y1="713.9" x2="578.24" y2="715.2" stroke="#1a1a1a" stroke-width="0.9" />
<line x1="613.26" y1="713.9" x2="613.26" y2="715.2" stroke="#1a1a1a" stroke-width="0.9" />
<line x1="648.29" y1="713.9" x2="648.29" y2="715.2" stroke="#1a1a1a" stroke-width="0.9" />
<text transform="translate(481.1,651.5) rotate(-90)" font-size="9.6" font-weight="bold" text-anchor="middle" font-family='"Liberation Sans", sans-serif'>Luminance (cd m<tspan font-size="5.8" dy="-3.5">-2</tspan><tspan dy="3.5">)</tspan></text>
<text x="599.5" y="737" font-size="9.6" font-weight="bold" fill="#000" text-anchor="middle" font-family='"Liberation Sans", sans-serif' >Strain (%)</text>
<text x="470" y="578.5" font-size="10" font-weight="bold" fill="#000" text-anchor="start" font-family='"Liberation Sans", sans-serif' >k</text>
<line x1="513.6" y1="586.4" x2="535.9" y2="586.4" stroke="#2cbb6c" stroke-width="1.2" />
<line x1="513.6" y1="597.1" x2="535.9" y2="597.1" stroke="#6f72cf" stroke-width="1.2" />
<text x="542" y="589.3" font-size="8.3" font-weight="bold" fill="#000" text-anchor="start" font-family='"Liberation Sans", sans-serif' >Red front</text>
<text x="542" y="600" font-size="8.3" font-weight="bold" fill="#000" text-anchor="start" font-family='"Liberation Sans", sans-serif' >Red back</text>
</svg></body></html>
